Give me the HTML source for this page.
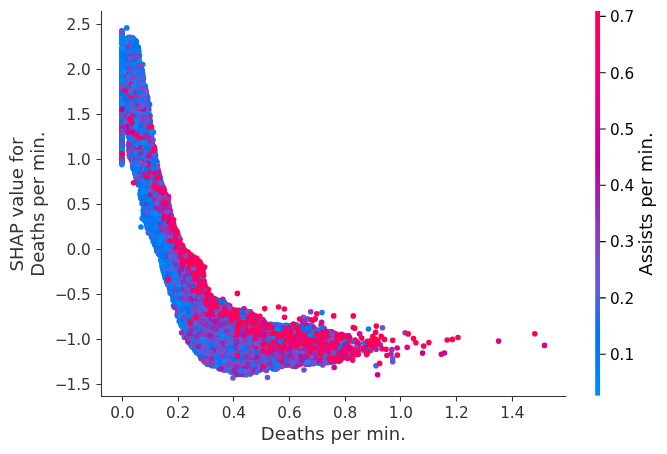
<!DOCTYPE html>
<html><head><meta charset="utf-8"><title>SHAP dependence plot</title><style>html,body{margin:0;padding:0;background:#fff}svg{display:block;will-change:transform}</style></head><body>
<svg width="667" height="454" viewBox="0 0 667 454" font-family="'DejaVu Sans', 'Liberation Sans', sans-serif">
<rect width="667" height="454" fill="#fff"/>
<g fill="none" stroke-width="5.6" stroke-linecap="round">
<path stroke="#008bfb" d="M121.9 94.8h0M177.8 295.3h0M143.6 196.2h0M130.3 94.4h0M139.1 118.8h0M165.7 272.5h0M287.1 331.2h0M152.1 235.5h0M277.3 324.5h0M196.6 345.3h0M139.1 87.1h0M223.5 341.9h0"/>
<path stroke="#0083f8" d="M255.2 367.4h0M246.7 334.8h0M269.4 343.4h0M148.8 217.6h0M134.2 67.8h0M310.5 332.0h0M318.6 334.6h0M259.1 365.3h0M233.6 368.5h0M238.8 351.5h0M168.3 262.7h0M139.1 124.9h0M135.2 74.5h0M121.9 105.2h0M128.4 51.3h0M152.5 145.1h0M295.7 353.4h0M209.2 318.0h0M136.9 173.2h0M121.9 128.3h0M240.0 323.6h0"/>
<path stroke="#007bf5" d="M162.1 202.0h0M128.4 113.7h0M284.7 345.4h0M132.7 65.9h0M215.9 355.7h0M295.5 329.4h0M262.4 344.6h0M151.3 199.5h0M125.7 97.4h0M220.8 308.7h0M285.4 333.9h0M128.4 57.7h0M163.9 270.3h0M172.8 280.1h0M147.8 219.4h0M146.3 220.5h0M306.2 353.2h0M164.3 255.7h0M311.3 333.2h0M139.4 135.6h0M136.2 41.7h0M177.7 305.0h0M159.3 228.4h0M244.1 331.8h0M141.7 194.4h0M143.3 102.4h0M136.9 180.0h0M127.5 119.9h0"/>
<path stroke="#0073ef" d="M130.0 111.3h0M178.8 296.3h0M325.3 334.0h0M159.0 236.7h0M269.8 355.8h0M139.4 165.3h0M275.0 360.6h0M169.0 276.1h0M153.2 214.3h0M147.0 97.5h0M217.3 365.2h0M131.2 53.2h0M242.3 324.5h0M132.5 109.8h0M140.1 83.0h0M329.2 337.6h0M172.5 271.3h0M136.2 103.9h0M132.0 143.4h0M169.4 280.3h0M168.9 256.5h0M146.9 219.3h0M276.3 332.5h0M270.8 328.6h0M188.3 306.5h0M150.5 209.4h0"/>
<path stroke="#2f6ae9" d="M161.2 245.4h0M194.1 320.9h0M202.0 297.3h0M137.9 163.1h0M309.6 363.9h0M260.1 362.4h0M147.7 123.1h0M221.9 343.6h0M236.2 334.9h0M148.5 215.5h0M220.3 348.0h0M144.0 109.9h0M232.9 372.6h0M140.8 114.8h0M151.2 187.5h0M244.4 369.0h0M235.5 360.8h0M132.4 77.6h0M190.3 297.8h0M258.1 363.7h0M135.9 141.1h0M216.1 349.0h0"/>
<path stroke="#5261e1" d="M210.4 352.5h0M256.3 362.6h0M150.4 121.1h0M230.4 328.0h0M202.9 341.4h0M191.7 343.9h0M256.7 338.6h0M194.3 312.6h0M173.7 224.3h0M220.3 333.3h0M139.1 91.0h0M162.1 203.7h0M175.5 259.5h0M135.5 151.4h0M143.4 103.4h0M216.1 354.1h0M337.0 355.4h0M272.7 355.2h0M212.4 320.4h0M185.4 280.5h0M209.4 347.5h0"/>
<path stroke="#6956d7" d="M183.1 266.9h0M178.9 264.6h0M230.3 357.2h0M179.3 271.3h0M139.3 151.0h0M176.9 289.9h0M188.4 289.5h0M154.8 152.7h0M319.3 344.3h0M249.1 338.2h0M290.8 354.3h0M159.6 199.7h0M136.0 123.0h0M187.8 310.2h0M138.2 146.8h0M313.2 363.7h0M201.2 341.8h0M151.3 195.4h0M152.7 188.9h0M253.6 356.1h0M169.3 250.9h0M150.2 146.9h0M251.7 351.6h0"/>
<path stroke="#7b4acd" d="M197.3 352.8h0M237.6 364.3h0M187.6 309.9h0M225.2 340.6h0M141.4 156.9h0M227.9 354.5h0M133.3 63.1h0M162.4 236.1h0M129.8 66.5h0M271.9 362.6h0M222.5 347.3h0M149.2 171.8h0M148.3 148.1h0M169.2 234.2h0M222.7 321.4h0M145.7 132.3h0M210.3 325.7h0M139.3 167.3h0M138.2 141.9h0M200.5 354.8h0M216.5 331.6h0M157.0 197.7h0M182.3 322.7h0M245.2 367.2h0M305.5 336.8h0"/>
<path stroke="#8a3dc1" d="M143.3 107.6h0M138.8 120.4h0M215.6 339.5h0M162.3 212.8h0M170.9 243.7h0M220.4 366.1h0M209.9 358.7h0M331.8 335.9h0M134.9 115.3h0M249.1 355.7h0M197.6 288.9h0M212.6 349.5h0M229.3 333.9h0"/>
<path stroke="#962db4" d="M164.1 217.2h0M191.7 297.1h0M171.5 253.2h0M210.8 358.0h0M282.1 365.1h0M162.1 228.3h0M179.1 263.6h0M164.0 230.6h0M184.6 289.8h0M191.0 327.9h0M207.2 342.5h0M178.2 295.6h0M249.8 339.0h0M313.2 356.4h0M270.4 353.0h0M246.7 331.7h0M246.2 372.9h0M153.5 154.6h0"/>
<path stroke="#a41daa" d="M131.0 152.2h0M210.8 316.6h0M166.9 199.1h0M282.0 359.0h0M148.4 142.4h0M215.5 327.9h0M306.6 340.4h0M300.5 359.7h0M153.1 187.5h0M225.4 332.7h0M181.0 310.3h0M159.7 194.0h0"/>
<path stroke="#dd0088" d="M149.9 150.4h0M312.3 329.2h0M159.0 174.3h0M141.2 130.2h0"/>
<path stroke="#e7007e" d="M167.1 202.7h0M323.3 355.8h0M193.9 275.5h0M308.4 329.7h0M143.4 152.4h0M261.3 323.3h0M352.7 354.6h0"/>
<path stroke="#f00073" d="M228.2 312.0h0M220.7 322.0h0M329.7 340.5h0M302.4 338.7h0M233.3 359.9h0M205.0 292.1h0M252.6 332.0h0M281.9 332.9h0M211.8 313.3h0M299.3 326.7h0M241.5 318.1h0"/>
<path stroke="#f80068" d="M302.4 340.6h0M250.3 321.7h0M305.5 354.2h0M307.4 341.6h0M199.6 292.2h0M171.9 222.5h0M236.6 310.6h0M147.4 178.3h0M333.2 356.3h0M253.1 324.4h0M369.5 347.5h0M325.7 339.4h0M261.8 330.3h0M144.7 133.5h0M193.0 270.0h0"/>
<path stroke="#fe005d" d="M170.9 228.8h0M315.1 346.9h0M246.7 331.3h0M260.4 338.9h0M244.8 322.8h0M177.7 238.8h0M200.6 299.0h0M159.2 182.3h0M178.7 257.0h0M255.8 319.4h0M296.9 365.0h0M292.1 334.3h0M287.1 351.2h0M203.2 274.4h0M294.9 352.3h0M138.0 139.0h0M330.9 349.9h0M185.2 253.5h0M326.1 352.9h0M200.5 281.4h0M194.3 286.5h0M373.9 342.9h0M221.0 303.3h0"/>
<path stroke="#ff0051" d="M180.4 247.6h0M197.3 264.8h0M289.2 338.4h0M265.3 352.6h0M250.6 316.4h0M255.5 338.5h0M256.4 323.0h0M225.3 309.3h0M303.3 352.8h0M300.6 355.3h0M121.9 163.0h0M199.4 284.0h0M235.7 357.0h0M282.7 363.4h0M244.1 339.4h0M217.2 308.1h0M295.8 341.7h0M254.8 330.9h0M269.2 330.3h0M221.6 317.2h0M201.8 275.6h0M307.9 327.8h0M243.4 333.2h0"/>
<path stroke="#008bfb" d="M214.5 353.2h0M220.5 349.0h0M125.3 111.2h0M136.6 173.5h0M168.2 255.6h0M126.4 82.9h0M262.4 326.5h0M139.8 96.2h0"/>
<path stroke="#0083f8" d="M147.8 119.2h0M150.3 214.8h0M247.7 324.6h0M239.5 331.0h0M135.0 100.7h0M135.7 168.2h0M248.2 363.5h0M200.6 269.8h0M121.9 102.5h0M126.6 57.2h0M121.9 103.4h0M164.4 237.3h0M163.6 195.6h0M225.9 358.9h0M154.5 209.9h0M125.6 81.4h0M265.5 336.7h0M222.8 351.0h0M168.3 247.7h0M161.4 204.4h0M131.7 119.6h0M179.2 295.5h0M222.8 368.1h0M127.9 76.9h0M133.3 142.4h0M185.1 331.1h0M133.5 158.9h0M163.2 260.6h0M121.9 97.1h0M152.8 212.5h0M274.1 340.0h0M145.5 196.3h0M125.7 76.2h0M287.7 341.8h0M131.2 75.8h0"/>
<path stroke="#007bf5" d="M123.7 48.9h0M133.9 57.9h0M174.2 272.3h0M191.1 323.8h0M187.9 305.8h0M157.5 220.2h0M144.6 199.4h0M149.3 119.7h0M137.9 176.8h0M121.9 71.8h0M162.6 266.7h0M228.3 324.2h0M170.1 267.2h0M302.1 329.4h0M142.9 149.4h0M190.5 299.6h0M151.2 197.7h0M269.1 326.3h0M133.6 116.1h0M121.9 39.8h0M303.1 328.3h0M133.0 38.1h0M132.3 95.8h0M157.3 219.9h0M139.1 180.3h0M121.9 85.4h0M323.4 335.0h0"/>
<path stroke="#0073ef" d="M143.0 107.7h0M140.1 119.8h0M136.8 116.5h0M140.1 75.3h0M160.1 237.0h0M162.3 256.8h0M271.0 324.7h0M129.5 48.8h0M129.0 124.4h0M149.3 138.1h0M176.2 271.6h0M139.4 55.2h0M146.7 224.9h0M297.3 335.3h0M136.4 70.0h0M187.7 312.4h0M151.4 204.2h0M130.9 65.9h0M206.6 303.9h0M167.7 265.3h0M251.3 317.9h0M284.4 327.6h0M165.3 267.5h0M135.5 104.9h0M185.3 316.0h0"/>
<path stroke="#2f6ae9" d="M192.8 313.0h0M129.0 63.7h0M190.4 330.7h0M240.2 371.2h0M226.5 346.6h0M162.9 204.1h0M129.9 84.7h0M144.5 100.5h0M165.8 269.5h0M129.4 138.0h0M156.2 210.6h0M123.7 86.6h0M129.4 104.0h0M181.3 320.5h0M261.7 325.0h0M228.0 346.4h0M201.9 342.3h0M130.4 71.1h0M179.9 310.0h0M160.7 211.5h0M140.7 107.8h0M154.5 204.7h0"/>
<path stroke="#5261e1" d="M161.7 217.7h0M166.0 202.8h0M198.6 307.3h0M266.2 357.6h0M193.8 303.0h0M147.8 109.0h0M169.8 209.5h0M200.8 357.1h0M228.0 356.5h0M238.9 339.7h0M197.8 317.2h0M135.1 80.3h0M266.0 358.2h0M258.1 350.4h0M320.8 352.1h0M186.0 322.1h0M201.5 337.4h0M150.9 186.4h0M130.6 144.1h0M138.6 106.1h0M144.8 150.4h0M256.7 358.1h0M191.7 319.9h0M182.3 272.4h0M165.4 224.1h0M165.9 224.2h0"/>
<path stroke="#6956d7" d="M132.6 130.4h0M242.4 369.9h0M182.1 283.6h0M228.5 346.9h0M160.6 180.9h0M310.5 350.7h0M191.4 299.6h0M185.2 291.4h0M178.2 273.9h0M153.9 175.4h0M147.0 127.4h0M146.9 120.0h0M294.2 347.1h0M147.2 147.4h0M159.5 213.7h0M279.3 356.6h0M137.4 129.2h0M284.9 334.8h0M140.0 113.9h0M194.5 330.3h0M237.3 334.3h0M203.9 316.3h0"/>
<path stroke="#7b4acd" d="M134.1 165.3h0M220.9 337.8h0M144.0 140.2h0M288.2 336.9h0M215.3 361.0h0M151.8 191.0h0M298.4 362.9h0M215.4 325.0h0M231.8 366.0h0M164.4 215.7h0M248.9 369.5h0M229.7 318.6h0M226.4 307.0h0M220.9 358.1h0M203.9 333.7h0"/>
<path stroke="#8a3dc1" d="M145.6 156.5h0M197.3 306.8h0M245.3 374.5h0M125.4 92.5h0M270.0 350.4h0M233.9 315.4h0M246.0 363.8h0M198.1 308.3h0M161.0 190.3h0M323.5 340.6h0M270.5 348.6h0M134.8 92.1h0M150.0 178.4h0"/>
<path stroke="#962db4" d="M125.6 117.7h0M244.4 328.4h0M185.1 282.6h0M140.4 126.9h0M312.9 336.2h0M147.3 211.3h0M241.9 364.5h0M150.8 127.2h0M231.3 356.7h0M267.1 367.0h0M177.8 276.5h0M188.1 282.1h0M258.4 345.1h0M193.7 333.2h0M255.6 358.2h0M187.1 288.2h0M154.9 163.2h0M221.0 365.1h0"/>
<path stroke="#a41daa" d="M207.7 351.5h0M218.1 333.3h0M168.0 252.6h0M166.1 241.2h0M224.5 334.8h0M175.8 272.7h0M186.2 277.6h0M141.1 195.0h0M227.4 361.7h0M146.4 143.5h0M321.7 322.2h0M209.4 323.7h0M190.0 287.2h0M196.1 330.4h0M207.5 338.6h0"/>
<path stroke="#c3009b" d="M334.8 357.6h0M165.4 195.6h0"/>
<path stroke="#dd0088" d="M318.4 341.9h0M155.1 156.6h0"/>
<path stroke="#e7007e" d="M251.9 332.2h0M165.3 221.4h0M277.0 363.7h0M276.0 333.6h0M331.7 332.0h0M296.0 344.9h0"/>
<path stroke="#f00073" d="M174.7 242.7h0M197.2 294.0h0M243.5 312.9h0M203.9 283.1h0M283.8 328.1h0M151.2 162.9h0M121.9 153.2h0M356.7 342.6h0M291.0 359.9h0M243.0 310.9h0M258.3 327.3h0M358.6 345.4h0M264.9 329.6h0M289.6 338.0h0M201.7 290.2h0"/>
<path stroke="#f80068" d="M263.2 347.3h0M293.9 337.9h0M323.1 346.0h0M144.4 204.6h0M309.8 340.0h0M156.9 168.1h0M230.9 315.8h0M215.7 299.6h0M198.3 294.1h0M292.4 335.3h0M333.8 336.3h0M331.8 337.6h0M160.2 183.8h0"/>
<path stroke="#fe005d" d="M121.9 149.6h0M121.9 147.7h0M189.5 260.2h0M263.8 350.7h0M232.8 316.6h0M165.9 214.1h0M253.3 337.4h0M284.8 326.6h0M154.0 171.9h0M212.5 302.4h0M351.1 350.2h0M218.6 304.2h0M252.9 314.7h0M167.3 221.2h0M304.4 337.6h0M257.9 348.9h0M200.7 298.8h0M286.1 326.6h0M216.5 299.6h0M191.6 262.6h0M276.8 349.9h0M236.1 324.8h0M331.2 353.0h0M188.7 263.7h0M308.1 344.4h0M316.0 363.0h0M182.8 247.4h0M213.9 299.3h0"/>
<path stroke="#ff0051" d="M194.9 275.8h0M205.7 296.8h0M293.7 337.9h0M161.7 217.9h0M203.7 280.9h0M202.9 273.4h0M188.3 262.4h0M153.6 224.5h0M195.8 258.2h0M197.0 290.3h0M203.5 280.9h0M184.6 258.3h0"/>
<path stroke="#008bfb" d="M278.7 343.6h0M134.6 143.5h0M134.5 65.2h0M147.9 110.6h0M136.6 157.8h0M301.5 355.9h0M206.7 338.2h0M128.3 86.9h0M226.3 344.7h0M123.4 113.3h0M121.9 35.8h0M154.3 237.4h0M163.6 259.2h0"/>
<path stroke="#0083f8" d="M143.3 161.3h0M174.0 274.6h0M140.8 168.7h0M306.8 328.7h0M221.2 329.9h0M180.1 292.2h0M143.9 171.0h0M186.8 317.7h0M174.7 298.8h0M181.2 300.1h0M141.6 194.3h0M318.6 354.2h0M267.5 364.7h0M148.8 203.0h0M289.0 354.6h0M181.6 312.8h0M150.8 229.0h0M144.2 134.1h0M169.5 260.3h0M160.6 248.3h0M291.8 345.4h0"/>
<path stroke="#007bf5" d="M265.0 331.7h0M152.3 205.0h0M295.0 361.2h0M144.2 90.2h0M140.7 88.2h0M126.2 48.1h0M265.4 334.1h0M133.5 73.1h0M297.9 341.7h0M237.6 311.9h0M174.5 289.0h0M268.0 337.4h0M146.2 181.2h0M347.0 351.1h0M174.3 253.4h0M142.3 195.5h0M138.2 107.3h0M138.7 96.9h0M269.6 330.7h0M148.5 175.2h0M154.2 168.5h0M184.2 319.8h0M145.6 124.3h0M174.1 301.1h0M138.6 73.2h0M205.7 332.4h0M132.6 167.1h0M141.5 141.1h0"/>
<path stroke="#0073ef" d="M121.9 43.6h0M130.6 54.2h0M192.1 344.5h0M161.8 254.4h0M175.7 303.2h0M164.1 247.4h0M128.7 54.3h0M249.4 353.5h0M280.2 360.0h0M205.5 345.7h0M188.6 340.7h0M190.1 313.2h0M138.4 64.2h0M142.6 136.0h0M138.3 48.1h0M148.1 149.5h0M287.5 358.0h0M227.4 369.6h0"/>
<path stroke="#2f6ae9" d="M151.6 170.9h0M217.9 359.1h0M218.8 333.4h0M143.8 99.5h0M170.8 232.4h0M267.7 364.7h0M142.4 109.8h0M208.9 332.1h0M287.6 349.0h0M160.4 198.8h0M298.7 328.3h0M156.3 174.7h0M242.6 360.6h0M204.4 353.5h0M306.1 339.6h0M167.6 213.1h0M189.5 287.8h0M212.5 329.2h0M152.9 185.4h0M300.8 362.5h0M218.9 323.7h0M150.3 232.9h0M156.2 217.1h0M219.5 338.1h0M167.9 217.1h0M185.4 286.6h0M202.1 314.6h0M146.2 100.9h0"/>
<path stroke="#5261e1" d="M132.1 61.8h0M128.3 99.7h0M237.8 343.7h0M160.5 188.5h0M194.8 295.8h0M189.4 306.7h0M220.9 365.4h0M192.1 333.2h0M151.2 172.5h0M132.7 95.5h0M276.6 362.8h0M132.6 101.9h0M206.3 331.5h0M171.4 247.4h0M265.4 346.4h0M316.3 330.0h0M139.3 177.4h0M193.1 312.3h0M160.2 233.0h0"/>
<path stroke="#6956d7" d="M184.9 288.9h0M217.0 353.8h0M193.0 319.8h0M203.8 342.4h0M206.0 354.9h0M178.5 280.1h0M157.0 231.9h0M275.6 359.1h0M224.8 334.8h0M182.2 280.7h0M177.4 232.7h0M147.7 123.9h0M154.6 171.6h0M148.2 167.1h0M229.0 364.3h0M266.9 358.3h0M131.6 102.3h0M162.1 205.8h0M290.8 354.0h0M133.1 74.7h0"/>
<path stroke="#7b4acd" d="M201.4 307.3h0M164.5 227.6h0M121.9 84.8h0M182.3 318.6h0M194.7 342.0h0M151.3 160.4h0M222.0 355.6h0M147.5 117.8h0M203.4 300.2h0M156.4 162.6h0M206.1 348.6h0M185.6 274.8h0M193.3 283.4h0M137.0 113.5h0M155.4 182.4h0M248.7 352.2h0M146.4 108.0h0M218.4 342.3h0M140.4 165.4h0M346.4 352.9h0M163.1 221.1h0M167.2 246.4h0M260.0 340.8h0M121.9 128.9h0M139.2 70.4h0"/>
<path stroke="#8a3dc1" d="M244.5 355.7h0M187.1 328.2h0M196.4 321.9h0M168.1 242.1h0M134.5 52.0h0M238.3 355.1h0M216.2 307.7h0M156.4 184.1h0M136.4 158.9h0M142.6 167.6h0M157.4 184.4h0M141.3 123.5h0M210.0 312.9h0M121.9 96.3h0M280.2 364.3h0M217.2 336.5h0M231.6 362.7h0"/>
<path stroke="#962db4" d="M145.2 141.0h0M149.9 124.2h0M291.5 355.0h0M192.4 339.1h0M132.3 150.2h0M138.9 141.5h0M154.8 192.3h0M220.0 325.2h0M234.0 353.5h0M196.0 301.9h0M169.2 242.0h0M136.3 168.3h0M180.2 306.8h0M139.5 169.7h0M304.4 350.9h0M242.0 350.5h0M175.8 305.6h0M134.5 126.8h0M268.9 359.1h0M219.2 343.4h0M170.0 258.8h0"/>
<path stroke="#a41daa" d="M193.4 292.0h0M309.9 344.5h0M175.2 296.4h0M145.2 167.0h0M179.4 238.5h0M228.9 347.3h0M152.0 163.3h0M153.3 191.8h0M342.4 353.8h0M159.8 191.3h0M178.5 260.1h0M244.4 354.5h0M143.8 160.5h0M221.8 363.5h0M146.3 175.8h0M248.3 342.8h0M190.7 311.8h0M242.9 370.9h0M285.0 341.7h0M206.5 320.1h0"/>
<path stroke="#b408a3" d="M286.4 347.5h0"/>
<path stroke="#d10092" d="M146.2 126.5h0"/>
<path stroke="#dd0088" d="M264.0 327.8h0M139.7 107.2h0M150.1 167.6h0"/>
<path stroke="#e7007e" d="M342.6 336.2h0M253.8 333.8h0M302.9 347.7h0M163.1 210.9h0M257.6 330.9h0"/>
<path stroke="#f00073" d="M163.8 195.6h0M337.2 353.2h0M245.5 333.3h0M229.9 314.8h0M133.8 86.5h0M174.8 238.9h0"/>
<path stroke="#f80068" d="M326.6 356.8h0M259.5 332.1h0M206.1 305.6h0M310.9 346.2h0M196.9 261.1h0M264.2 328.5h0M246.1 334.8h0M244.0 324.0h0M200.7 277.3h0M276.0 343.6h0M315.9 340.7h0M288.6 343.6h0M148.6 130.5h0M187.9 252.0h0M300.1 341.6h0M174.6 295.4h0M307.6 352.2h0M220.3 355.6h0M157.1 165.5h0M202.3 279.0h0M158.8 191.9h0"/>
<path stroke="#fe005d" d="M251.8 337.8h0M245.8 321.9h0M134.1 90.3h0M238.8 315.9h0M192.4 272.3h0M320.4 363.1h0M331.5 335.2h0M201.4 288.4h0M164.4 226.4h0M323.8 331.6h0M316.3 348.4h0M181.0 262.5h0M206.9 303.6h0M306.3 336.0h0M299.7 346.5h0M264.3 322.1h0M236.7 320.8h0M250.3 324.4h0M178.8 252.5h0M164.3 217.3h0M247.3 332.4h0M286.5 327.6h0"/>
<path stroke="#ff0051" d="M203.8 291.5h0M196.8 261.4h0M253.2 325.4h0M222.9 304.1h0M221.9 313.7h0M232.2 333.4h0M124.9 105.2h0M294.1 365.0h0M196.4 285.0h0M254.6 331.2h0M183.4 260.9h0M262.2 347.2h0M159.7 210.1h0M196.7 274.4h0M233.8 323.4h0"/>
<path stroke="#008bfb" d="M193.1 344.9h0M280.9 346.4h0M278.9 366.0h0M121.9 101.8h0M171.9 264.3h0M134.0 162.1h0M136.6 62.6h0M178.2 276.9h0M308.7 340.4h0M178.3 309.6h0M236.4 347.2h0M186.1 306.9h0M138.6 181.2h0M168.1 278.5h0M280.9 330.5h0M226.0 359.6h0M121.9 57.1h0M121.9 54.0h0"/>
<path stroke="#0083f8" d="M247.5 329.9h0M127.9 103.5h0M149.5 159.9h0M309.2 331.5h0M199.7 345.4h0M160.9 230.3h0M144.5 146.5h0M146.0 200.9h0M143.6 84.7h0M278.3 343.7h0M217.1 342.1h0M260.5 338.5h0M141.9 154.5h0M322.6 356.2h0M286.0 348.1h0M158.6 241.4h0M164.2 261.3h0M142.1 96.6h0M146.9 195.6h0M138.0 172.0h0M163.7 253.0h0M229.0 362.7h0M150.6 167.4h0M171.7 266.9h0M225.4 342.3h0M186.9 322.5h0M253.3 359.7h0"/>
<path stroke="#007bf5" d="M142.2 99.4h0M155.6 201.9h0M194.1 327.1h0M121.9 110.9h0M135.7 153.5h0M189.9 274.9h0M142.8 64.5h0M151.9 192.5h0M192.1 320.8h0M297.1 334.0h0M204.8 326.7h0M260.7 325.2h0M127.4 64.0h0M255.6 370.1h0M234.8 365.5h0M151.5 149.0h0M163.9 258.5h0M121.9 85.2h0M140.8 198.4h0M157.7 251.0h0M337.2 336.5h0M212.9 338.5h0M141.8 74.3h0M139.0 181.0h0M317.1 335.4h0M133.0 149.5h0"/>
<path stroke="#0073ef" d="M121.9 39.0h0M124.0 103.0h0M145.5 197.3h0M161.6 251.7h0M141.4 145.2h0M138.5 81.0h0M133.5 125.4h0M144.5 87.7h0M194.2 333.5h0M138.1 100.2h0M272.4 335.3h0M134.3 62.9h0M237.4 363.4h0M202.7 342.0h0M166.7 279.1h0M148.3 210.6h0M157.5 239.6h0M151.2 213.3h0M156.7 217.2h0M223.3 345.0h0M251.8 347.8h0M150.0 193.7h0M143.4 197.9h0M244.2 313.2h0"/>
<path stroke="#2f6ae9" d="M269.1 366.7h0M189.9 334.8h0M202.9 270.5h0M288.8 356.2h0M123.6 111.1h0M270.4 324.5h0M215.6 352.4h0M252.8 320.4h0M153.3 187.1h0M224.7 349.6h0M180.6 304.6h0M137.9 109.0h0M146.2 152.0h0M217.5 327.1h0M239.8 369.7h0M155.8 178.1h0M175.0 285.6h0M137.7 73.7h0M300.1 348.9h0M237.0 361.2h0M274.0 348.1h0"/>
<path stroke="#5261e1" d="M125.6 67.6h0M167.8 202.5h0M286.7 355.6h0M225.8 367.8h0M175.7 265.4h0M144.9 121.0h0M247.8 350.5h0M275.8 355.6h0M160.6 212.0h0M227.2 349.8h0M145.9 107.1h0M282.4 352.1h0M173.1 264.1h0M121.9 88.2h0M226.2 318.8h0"/>
<path stroke="#6956d7" d="M170.7 232.5h0M149.8 179.5h0M187.5 299.9h0M244.0 361.0h0M169.2 244.1h0M276.9 351.5h0M156.5 212.6h0M267.0 362.6h0M254.7 368.0h0M251.8 331.4h0M162.0 205.1h0M336.7 353.4h0M187.3 272.8h0M146.5 144.2h0M133.2 80.7h0M201.0 333.4h0M192.0 325.4h0"/>
<path stroke="#7b4acd" d="M152.3 144.0h0M130.8 92.8h0M121.9 103.6h0M347.5 352.1h0M154.8 167.9h0M308.9 327.5h0M229.5 329.4h0M326.5 348.3h0M261.1 336.8h0M223.2 347.1h0M246.3 371.0h0M142.0 175.7h0M348.7 349.1h0M241.1 359.1h0M164.1 221.4h0M234.8 349.1h0M199.3 318.9h0M139.9 147.6h0M250.5 371.2h0M305.8 354.5h0"/>
<path stroke="#8a3dc1" d="M134.0 150.3h0M205.4 311.2h0M150.1 128.4h0M154.7 149.2h0M130.0 140.7h0M183.1 293.4h0M236.3 328.1h0M182.4 269.5h0M185.1 261.8h0M263.9 359.0h0M142.5 135.4h0M232.0 322.6h0M187.2 274.1h0M158.6 210.3h0M215.7 320.4h0M202.5 329.2h0M249.4 366.7h0M209.2 330.8h0M216.1 360.9h0M153.4 193.8h0M193.7 328.9h0M148.3 104.8h0"/>
<path stroke="#962db4" d="M240.0 362.3h0M221.0 328.3h0M168.0 206.9h0M208.2 352.7h0M235.4 366.5h0M153.9 148.3h0M248.9 357.3h0M286.6 351.8h0M227.2 367.1h0M281.4 363.4h0M239.8 372.6h0"/>
<path stroke="#a41daa" d="M224.4 330.3h0M138.3 179.7h0M183.2 299.9h0M242.8 331.3h0M216.1 313.4h0M201.4 352.7h0M293.7 354.3h0M241.9 349.0h0M181.4 323.3h0M164.9 229.6h0M236.2 358.5h0M186.7 278.7h0M160.5 216.5h0M197.6 324.9h0"/>
<path stroke="#c3009b" d="M283.6 342.5h0"/>
<path stroke="#d10092" d="M305.6 352.9h0"/>
<path stroke="#dd0088" d="M234.4 361.0h0M153.2 154.0h0M259.0 335.5h0M200.9 281.1h0M264.1 338.4h0M163.9 210.3h0"/>
<path stroke="#e7007e" d="M321.3 338.1h0M135.6 151.1h0M163.4 197.1h0M172.3 226.0h0M268.5 332.8h0M334.6 335.5h0M297.6 342.7h0M294.7 340.9h0"/>
<path stroke="#f00073" d="M276.5 333.7h0M195.4 283.0h0M234.5 316.6h0M156.8 161.9h0M250.3 311.9h0M324.7 335.2h0M186.6 256.5h0M209.4 301.9h0"/>
<path stroke="#f80068" d="M175.5 250.2h0M141.5 137.4h0M247.3 322.2h0M291.2 350.6h0M243.9 317.4h0M176.8 233.3h0M283.7 353.3h0M194.4 267.6h0M197.0 272.4h0M202.2 290.4h0M150.3 170.0h0M121.9 150.0h0M129.1 142.2h0M261.6 341.1h0M340.8 352.3h0M289.9 337.3h0M227.8 327.5h0M334.3 361.8h0M323.2 334.8h0M188.2 254.6h0M209.7 332.7h0"/>
<path stroke="#fe005d" d="M297.1 340.1h0M283.1 333.0h0M298.3 331.5h0M207.7 299.2h0M180.4 243.6h0M275.0 350.4h0M245.5 337.3h0M254.7 350.7h0M202.7 351.6h0M241.3 365.1h0M204.3 292.9h0M252.3 327.8h0M263.0 319.7h0M284.2 341.3h0M195.8 276.1h0M282.9 345.4h0M205.7 287.1h0M229.5 305.7h0M157.0 171.6h0M160.2 203.4h0M181.1 252.5h0M163.6 189.1h0M323.9 328.4h0M157.7 174.4h0M194.4 293.5h0M203.4 286.8h0M244.1 321.7h0M306.9 351.3h0M190.1 263.6h0M248.4 355.7h0"/>
<path stroke="#ff0051" d="M276.1 365.3h0M214.3 298.5h0M333.9 339.7h0M224.1 324.7h0M253.9 324.4h0M309.4 340.3h0M147.4 142.1h0M295.4 340.2h0M261.3 337.4h0M200.2 278.3h0M197.3 272.4h0M188.8 270.5h0M175.7 230.5h0M176.0 242.7h0"/>
<path stroke="#008bfb" d="M149.2 141.7h0M141.9 127.2h0M255.7 366.1h0M256.4 338.9h0M268.7 325.9h0M284.3 347.1h0M133.0 70.9h0M130.7 110.9h0M186.9 287.3h0M250.4 356.4h0M305.8 363.9h0M190.3 333.1h0"/>
<path stroke="#0083f8" d="M204.9 355.7h0M181.6 318.3h0M134.2 135.7h0M153.5 132.2h0M131.6 39.5h0M158.9 227.2h0M184.8 333.0h0M161.8 254.7h0M149.7 192.4h0M181.2 293.6h0M136.5 178.2h0M135.0 104.9h0M250.0 366.6h0M124.0 93.5h0M131.8 108.2h0M146.8 96.1h0M127.4 47.9h0M163.8 271.6h0M141.5 146.3h0M128.6 37.4h0M211.9 301.5h0M121.9 83.3h0M135.0 152.7h0"/>
<path stroke="#007bf5" d="M138.6 77.6h0M138.7 97.3h0M121.9 144.4h0M201.4 315.4h0M148.2 162.8h0M157.2 196.0h0M121.9 36.9h0M124.2 77.7h0M130.5 86.5h0M186.9 336.8h0M150.4 204.1h0M131.1 91.4h0M135.9 77.6h0M134.2 72.4h0M149.1 212.6h0M201.9 358.5h0M150.7 223.5h0M280.6 325.2h0M235.0 348.9h0M133.3 94.0h0M170.0 288.6h0M150.4 194.2h0M308.0 360.6h0M142.9 201.1h0M133.0 123.7h0M277.6 325.9h0"/>
<path stroke="#0073ef" d="M142.1 190.2h0M197.0 329.2h0M154.9 231.4h0M128.8 44.9h0M133.1 38.6h0M130.6 62.0h0M157.9 208.2h0M148.2 229.8h0M190.8 326.7h0M249.6 367.9h0M132.3 41.0h0M229.8 329.5h0M154.1 231.6h0M171.8 282.1h0M249.3 368.8h0M228.9 355.8h0M250.5 366.0h0M201.4 307.1h0M128.0 41.1h0M313.7 335.4h0M217.8 345.6h0M135.7 151.8h0M148.6 195.6h0M183.6 320.4h0"/>
<path stroke="#2f6ae9" d="M136.1 178.1h0M188.5 272.4h0M190.3 315.2h0M144.1 86.4h0M214.2 357.0h0M121.9 156.7h0M245.1 319.0h0M146.6 105.9h0M132.3 142.0h0M299.4 329.0h0M294.2 359.4h0M267.3 355.1h0M134.2 121.8h0M232.2 348.2h0M149.9 152.6h0M152.1 147.8h0M147.6 203.9h0M238.2 352.4h0M171.5 246.8h0M137.2 81.5h0M160.9 237.1h0M131.1 156.7h0M210.9 320.5h0M140.5 193.4h0M250.1 357.1h0M231.4 370.5h0M230.9 347.5h0M219.9 332.3h0M239.0 347.8h0M205.5 327.0h0M208.7 322.7h0M128.9 94.9h0"/>
<path stroke="#5261e1" d="M224.2 334.8h0M233.4 336.4h0M224.8 360.7h0M121.9 148.1h0M156.6 206.5h0M193.5 326.1h0M280.3 363.2h0M191.7 277.9h0M240.9 327.8h0M267.5 360.3h0M137.5 129.6h0M319.2 354.5h0M234.8 368.9h0M140.8 127.7h0M186.6 305.9h0M234.8 333.5h0M250.9 362.9h0M163.5 222.6h0M161.5 188.6h0M188.9 330.4h0"/>
<path stroke="#6956d7" d="M166.7 250.2h0M257.4 358.2h0M221.4 360.6h0M208.2 326.7h0M204.1 327.0h0M133.0 159.0h0M280.7 356.1h0M130.0 157.4h0M146.5 94.3h0M201.9 308.6h0M134.2 139.8h0M161.1 232.4h0M211.6 319.7h0M271.3 359.4h0M205.9 331.9h0M196.2 265.3h0M182.7 325.1h0M193.5 291.7h0M121.9 113.5h0M201.1 345.1h0M193.4 306.3h0"/>
<path stroke="#7b4acd" d="M198.7 307.7h0M146.2 92.6h0M278.9 338.3h0M160.4 201.8h0M232.2 337.7h0M228.4 312.8h0M152.3 191.4h0M194.0 299.8h0M309.4 357.1h0M215.2 358.6h0M181.3 278.0h0M277.7 336.6h0M135.3 43.3h0M145.5 157.9h0M222.5 335.6h0"/>
<path stroke="#8a3dc1" d="M230.4 341.5h0M133.7 163.2h0M134.2 123.7h0M260.5 348.9h0M176.2 307.4h0M148.4 150.9h0M196.7 334.9h0M168.3 254.8h0M145.4 139.1h0M232.6 334.3h0M215.9 344.0h0M261.5 347.8h0M129.0 102.9h0M162.9 228.8h0M197.3 330.8h0M181.3 275.6h0M157.5 176.2h0M270.5 359.9h0M135.7 153.2h0M177.8 278.9h0M237.4 346.8h0M205.5 361.2h0M124.5 76.8h0M243.8 372.9h0M176.7 274.8h0M182.3 271.7h0M306.0 362.1h0M177.2 306.6h0M169.3 233.4h0"/>
<path stroke="#962db4" d="M166.7 277.5h0M289.6 349.3h0M240.4 334.9h0M319.4 347.0h0M156.7 185.4h0M231.5 338.4h0M156.7 217.7h0M121.9 156.4h0M169.6 233.6h0M255.8 343.3h0M150.4 150.5h0M197.9 334.3h0M239.9 350.1h0M132.7 150.9h0"/>
<path stroke="#a41daa" d="M236.8 347.1h0M242.9 360.0h0M253.9 340.1h0M193.0 345.4h0M169.1 241.5h0M159.1 210.3h0M211.6 326.8h0M303.5 359.9h0M256.1 353.8h0M206.7 323.4h0M176.3 263.1h0"/>
<path stroke="#b408a3" d="M138.1 128.8h0"/>
<path stroke="#c3009b" d="M165.9 194.9h0M131.9 112.5h0"/>
<path stroke="#d10092" d="M121.9 145.7h0M150.8 129.3h0"/>
<path stroke="#dd0088" d="M231.5 324.2h0M139.2 128.6h0"/>
<path stroke="#e7007e" d="M166.9 218.6h0M213.1 299.3h0M142.3 203.7h0M296.3 337.9h0M313.3 362.7h0M173.5 230.8h0M149.7 145.0h0"/>
<path stroke="#f00073" d="M300.3 329.8h0M205.5 292.9h0M201.7 296.3h0M296.2 327.4h0M167.7 208.6h0M196.9 289.2h0M201.0 288.8h0M233.4 320.8h0M272.6 333.3h0M284.1 335.8h0"/>
<path stroke="#f80068" d="M203.8 293.4h0M188.8 255.4h0M179.0 247.2h0M199.5 270.3h0M173.7 245.6h0M254.5 324.0h0M303.4 334.2h0M210.7 306.1h0M196.2 277.7h0M346.8 335.7h0M157.1 181.6h0M292.0 342.8h0M317.2 342.4h0M251.9 314.4h0M202.1 305.6h0M281.6 360.4h0M244.6 340.6h0M244.4 322.7h0M201.2 346.4h0M268.2 351.8h0M186.8 251.7h0M258.1 349.1h0"/>
<path stroke="#fe005d" d="M240.9 320.3h0M243.9 316.8h0M279.2 337.8h0M192.4 264.3h0M235.6 325.4h0M189.1 260.9h0M295.1 325.8h0M270.4 334.7h0M207.6 293.9h0M258.3 323.3h0M169.2 217.4h0M267.1 345.1h0M226.4 311.6h0M211.7 342.2h0M310.6 335.2h0M305.4 342.9h0M226.1 313.1h0M171.0 220.2h0"/>
<path stroke="#ff0051" d="M262.8 334.4h0M247.5 320.3h0M286.0 332.5h0M314.7 340.4h0M261.6 340.5h0M200.8 298.1h0M182.8 251.9h0M177.5 244.0h0M239.7 356.6h0M259.2 335.2h0M238.5 342.4h0M277.5 329.1h0M227.9 308.5h0"/>
<path stroke="#008bfb" d="M191.4 313.5h0M171.2 265.9h0M144.3 148.0h0M229.3 344.0h0M206.6 354.7h0M161.1 223.4h0M146.3 172.1h0M152.7 228.2h0M140.8 157.3h0M170.3 258.6h0M305.2 331.9h0M188.8 309.0h0M144.2 206.0h0M198.7 331.7h0"/>
<path stroke="#0083f8" d="M138.0 60.4h0M163.3 236.4h0M121.9 39.7h0M165.6 264.0h0M154.2 147.1h0M174.4 290.8h0M166.6 251.8h0M265.1 359.5h0M129.6 63.6h0M206.4 341.6h0M218.4 367.8h0M154.9 209.8h0M324.1 346.1h0M139.1 174.8h0M247.4 354.8h0M131.9 58.5h0M164.2 245.0h0M133.4 168.7h0M211.6 349.6h0"/>
<path stroke="#007bf5" d="M141.3 163.5h0M136.0 54.2h0M123.3 51.0h0M161.2 206.9h0M172.8 270.0h0M175.9 293.1h0M148.7 110.6h0M167.0 275.7h0M173.8 300.6h0M121.9 38.5h0M179.4 307.8h0M145.9 193.3h0M178.8 292.6h0M171.1 274.5h0M136.5 165.5h0M207.0 345.3h0M172.9 270.0h0M217.9 363.5h0M181.8 302.6h0M138.4 48.8h0M322.9 353.4h0M133.7 87.8h0M240.5 313.7h0M169.6 253.3h0M128.7 67.8h0"/>
<path stroke="#0073ef" d="M210.2 327.5h0M147.7 97.6h0M125.7 108.0h0M298.3 342.3h0M149.0 200.5h0M132.1 60.0h0M139.4 107.3h0M140.3 88.7h0M136.6 132.2h0M148.2 184.3h0M171.4 259.8h0M143.9 106.0h0M152.1 219.7h0M146.8 97.1h0M170.9 272.6h0M215.6 340.1h0M135.9 94.9h0M135.6 162.5h0M321.4 355.2h0M149.4 220.8h0M188.1 322.5h0M131.2 68.7h0M131.6 42.9h0M139.0 91.0h0M211.2 344.0h0M305.3 343.4h0M161.6 232.3h0M250.9 358.8h0"/>
<path stroke="#2f6ae9" d="M262.6 368.6h0M145.3 133.3h0M179.9 318.4h0M124.1 75.2h0M193.9 298.9h0M154.6 222.9h0M243.6 359.3h0M255.5 333.3h0M127.7 101.7h0M184.7 317.2h0M217.8 338.3h0M129.6 50.3h0M148.0 129.0h0M265.2 332.8h0M203.3 307.1h0M138.1 149.9h0M142.7 174.0h0M210.9 360.0h0M174.1 227.9h0M133.2 79.4h0M271.4 364.8h0M154.1 216.7h0M195.8 319.7h0M185.3 300.0h0M131.5 80.0h0M144.6 87.5h0M140.0 77.5h0M217.5 329.6h0M180.5 271.3h0M142.0 87.7h0"/>
<path stroke="#5261e1" d="M245.6 361.7h0M183.6 289.8h0M205.9 321.0h0M193.1 308.6h0M131.0 152.6h0M294.1 325.2h0M288.0 346.7h0M219.6 352.6h0M297.8 360.8h0M168.8 205.9h0M256.0 347.1h0M121.9 97.0h0M191.4 283.3h0M143.4 153.2h0M174.5 261.0h0M210.2 327.8h0M183.7 279.4h0M307.2 357.5h0M177.4 294.9h0M154.0 168.2h0M164.9 204.3h0M225.5 351.2h0"/>
<path stroke="#6956d7" d="M166.3 221.9h0M186.3 272.9h0M280.2 346.7h0M234.9 319.4h0M211.3 333.3h0M222.7 361.9h0M127.0 119.5h0M307.3 318.9h0M152.6 194.1h0M173.3 276.0h0M172.1 248.9h0M211.5 344.6h0M135.7 71.3h0M223.0 342.8h0M143.1 121.0h0M186.1 267.4h0M132.2 66.9h0M195.0 284.4h0M140.6 129.4h0M141.2 69.4h0M256.2 356.1h0M162.4 232.4h0M128.8 98.0h0M160.3 221.2h0"/>
<path stroke="#7b4acd" d="M126.4 76.4h0M149.1 125.3h0M180.5 258.2h0M220.8 347.6h0M298.2 342.5h0M179.8 258.7h0M159.9 222.9h0M278.3 358.3h0M269.8 356.7h0M181.5 264.6h0M141.5 142.5h0M262.1 353.9h0M230.1 322.5h0M159.9 216.2h0M133.4 69.5h0M179.0 246.2h0M284.4 362.6h0M121.9 154.3h0M151.7 185.8h0M266.2 363.2h0M205.3 337.8h0M184.6 291.5h0M124.4 87.5h0M121.9 85.1h0"/>
<path stroke="#8a3dc1" d="M216.6 324.1h0M202.4 313.3h0M249.3 373.1h0M145.1 86.6h0M226.8 309.9h0M243.3 355.3h0M215.7 331.4h0M121.9 113.5h0M144.4 111.2h0M125.8 95.5h0M121.9 101.9h0M220.3 345.7h0M147.2 169.8h0M170.1 249.7h0M335.9 341.7h0M177.2 263.1h0"/>
<path stroke="#962db4" d="M229.8 330.1h0M203.9 331.1h0M234.0 333.7h0M302.7 322.7h0M153.0 153.5h0M259.3 342.1h0M206.9 358.0h0M184.6 283.7h0M159.1 186.1h0M301.3 353.8h0M202.9 315.1h0M281.4 330.2h0M213.1 328.6h0M135.5 140.7h0M167.6 240.8h0"/>
<path stroke="#a41daa" d="M262.1 359.2h0M233.3 338.1h0M216.0 359.2h0M241.1 343.9h0M143.8 167.6h0M183.0 279.0h0M264.0 364.4h0M169.3 244.0h0M162.7 235.7h0M230.1 323.8h0M255.7 365.0h0M208.9 358.3h0M220.6 332.9h0M287.8 359.1h0M196.4 324.6h0"/>
<path stroke="#c3009b" d="M133.6 84.9h0"/>
<path stroke="#d10092" d="M138.3 184.6h0M160.8 185.3h0M324.3 344.0h0"/>
<path stroke="#dd0088" d="M148.6 165.7h0M158.1 183.3h0M138.4 153.3h0"/>
<path stroke="#e7007e" d="M297.2 329.0h0M231.5 359.0h0M342.8 349.0h0M156.5 171.0h0M257.1 333.1h0"/>
<path stroke="#f00073" d="M283.6 338.3h0M187.6 254.1h0M198.8 290.5h0M203.9 301.9h0M244.0 308.9h0M173.4 244.3h0M335.9 341.8h0M314.3 350.0h0M133.9 139.4h0M274.7 340.7h0M167.0 202.5h0M311.2 347.4h0M268.4 340.5h0"/>
<path stroke="#f80068" d="M201.7 273.0h0M239.0 337.3h0M300.5 342.9h0M280.6 352.1h0M325.0 340.8h0M201.2 273.1h0M206.6 360.4h0M298.7 341.4h0M145.4 97.6h0M307.5 333.4h0M157.4 182.7h0M302.6 344.6h0M217.9 314.6h0M288.6 330.8h0M311.5 336.7h0M192.2 277.5h0M252.5 334.1h0"/>
<path stroke="#fe005d" d="M257.6 341.2h0M223.9 305.4h0M179.0 255.5h0M272.1 351.0h0M329.8 352.9h0M322.6 357.1h0M121.9 141.5h0M211.6 300.6h0M277.6 333.0h0M250.0 316.7h0M200.8 303.7h0M268.9 348.1h0M204.0 307.3h0M254.1 336.7h0M307.3 340.6h0M252.8 342.3h0M287.9 345.6h0M235.8 364.8h0M283.4 328.5h0M190.7 273.5h0M148.8 127.5h0M199.4 286.8h0M242.1 330.7h0"/>
<path stroke="#ff0051" d="M276.8 336.9h0M213.3 313.6h0M196.4 263.3h0M214.1 326.1h0M261.6 320.8h0M147.5 216.4h0M146.0 132.2h0"/>
<path stroke="#008bfb" d="M147.2 129.4h0M169.7 287.8h0M139.2 93.0h0M123.5 84.2h0M154.7 221.4h0M235.5 323.0h0M143.3 156.7h0M141.9 176.9h0"/>
<path stroke="#0083f8" d="M240.2 350.8h0M121.9 87.9h0M157.6 241.0h0M123.9 51.4h0M165.7 251.0h0M206.0 338.1h0M127.1 62.3h0M124.0 67.6h0M321.7 337.1h0M249.8 361.2h0M171.2 292.8h0M129.3 53.0h0M147.5 108.2h0M223.1 352.6h0M278.2 332.3h0M184.5 301.2h0M191.1 337.0h0M135.4 109.8h0M139.0 98.9h0M142.1 178.7h0M151.1 154.1h0"/>
<path stroke="#007bf5" d="M152.6 147.4h0M155.8 242.1h0M160.1 247.1h0M160.7 230.5h0M135.5 42.4h0M167.0 254.1h0M208.6 331.2h0M308.6 337.2h0M126.0 51.1h0M176.1 284.3h0M246.5 363.8h0M127.3 81.3h0M154.6 174.6h0M258.9 320.6h0M121.9 85.0h0M253.1 319.4h0M214.8 334.8h0M121.9 76.8h0M134.7 114.8h0M327.6 342.5h0M154.9 245.0h0M158.7 249.5h0M246.0 361.1h0M145.6 197.6h0M141.0 90.6h0M142.8 178.9h0M123.4 92.6h0M151.1 219.7h0M177.3 306.4h0M149.2 210.4h0M141.5 124.6h0M178.1 273.3h0"/>
<path stroke="#0073ef" d="M291.1 328.1h0M177.8 295.0h0M144.3 208.8h0M153.3 235.0h0M218.9 305.0h0M138.2 91.1h0M148.3 205.9h0M315.7 334.2h0M177.5 295.1h0M304.7 327.1h0M148.3 225.8h0M146.8 173.9h0M293.5 324.7h0M157.0 178.2h0M150.0 187.1h0M151.4 223.9h0M240.0 374.1h0M164.8 252.3h0M145.5 200.6h0M127.0 99.0h0M183.4 309.5h0M204.3 331.1h0M137.8 56.4h0M129.2 59.9h0M121.9 111.8h0M179.6 306.2h0"/>
<path stroke="#2f6ae9" d="M258.8 368.8h0M213.3 328.2h0M170.5 240.9h0M182.5 266.5h0M161.4 221.5h0M244.9 346.7h0M186.3 280.9h0M129.7 141.6h0M205.2 334.9h0M170.0 230.0h0M247.4 341.9h0M136.7 99.7h0M213.8 345.7h0M191.8 314.4h0M152.1 140.6h0M125.9 105.8h0M131.0 67.6h0M146.6 159.3h0M174.1 293.9h0M296.0 330.5h0"/>
<path stroke="#5261e1" d="M158.0 221.1h0M236.9 345.3h0M182.9 277.0h0M152.5 189.6h0M251.6 361.1h0M137.5 163.7h0M252.1 356.6h0M226.6 355.5h0M275.3 363.2h0M134.6 140.6h0M140.8 93.0h0M213.4 321.4h0M130.9 77.0h0M300.5 350.7h0M227.1 345.4h0"/>
<path stroke="#6956d7" d="M216.4 341.6h0M203.1 345.5h0M256.3 358.6h0M137.2 126.7h0M132.6 105.0h0M213.4 343.8h0M238.0 333.8h0M121.9 95.4h0M179.5 273.0h0M218.6 323.6h0M147.2 155.3h0M164.0 195.8h0M185.3 281.6h0M289.3 359.0h0M169.4 243.9h0M314.2 338.9h0M222.8 346.6h0M213.6 344.6h0M153.8 190.0h0M211.9 316.8h0"/>
<path stroke="#7b4acd" d="M161.6 196.3h0M136.7 72.7h0M161.3 222.3h0M211.0 323.1h0M200.8 330.7h0M169.2 210.1h0M142.0 123.6h0M193.6 287.3h0M235.1 363.7h0M160.1 213.9h0M200.3 310.3h0M237.0 352.5h0M126.0 54.9h0M180.8 274.7h0M128.2 131.0h0M146.7 167.3h0M254.2 370.7h0M121.9 120.5h0M210.9 347.7h0M220.0 328.3h0M267.8 354.4h0M158.8 187.4h0M170.3 233.9h0M145.7 127.7h0"/>
<path stroke="#8a3dc1" d="M138.3 145.9h0M255.6 354.1h0M236.4 353.8h0M202.5 356.8h0M127.8 132.1h0M245.1 325.7h0M230.9 356.9h0M138.3 56.3h0M258.7 356.8h0M308.2 356.2h0M223.1 365.5h0M121.9 131.2h0M209.6 314.8h0M324.2 358.0h0M272.7 332.8h0M184.0 290.4h0M170.3 273.3h0M132.8 98.4h0M260.7 359.2h0M226.5 358.7h0"/>
<path stroke="#962db4" d="M269.0 357.2h0M154.4 198.7h0M193.5 278.3h0M217.7 357.2h0M158.5 217.1h0M196.0 347.3h0M192.4 298.2h0M135.2 134.9h0M158.1 188.5h0M144.5 144.5h0M137.9 151.6h0M261.3 365.1h0M210.4 325.1h0M199.6 317.7h0M142.1 113.4h0M221.3 326.5h0"/>
<path stroke="#a41daa" d="M287.8 362.9h0M137.0 160.9h0M233.5 338.8h0M179.8 274.6h0M196.3 296.6h0M342.1 338.4h0M247.7 341.2h0M270.4 366.3h0M289.4 346.6h0M350.0 356.6h0M193.1 338.4h0"/>
<path stroke="#b408a3" d="M157.6 187.9h0"/>
<path stroke="#c3009b" d="M366.8 350.6h0M157.5 203.9h0"/>
<path stroke="#d10092" d="M356.6 341.8h0"/>
<path stroke="#e7007e" d="M276.5 341.0h0M121.9 147.4h0M136.0 158.1h0M162.0 204.2h0M139.2 183.6h0M293.0 326.0h0"/>
<path stroke="#f00073" d="M274.3 325.0h0M300.4 335.0h0M211.3 303.4h0M233.8 318.1h0M285.6 331.2h0M223.7 314.6h0M270.1 342.7h0M279.9 350.0h0M151.7 194.4h0M296.1 330.3h0M147.1 124.5h0"/>
<path stroke="#f80068" d="M227.1 309.9h0M265.8 328.4h0M320.3 341.8h0M202.0 304.6h0M174.4 281.6h0M246.1 315.4h0M245.3 315.7h0M278.2 347.4h0M316.8 353.9h0M330.9 348.8h0M197.5 300.9h0M173.1 231.6h0M181.2 262.8h0M356.1 347.7h0M146.7 223.0h0M208.0 296.4h0M225.4 311.9h0M194.1 257.3h0M260.3 325.9h0M151.1 199.7h0"/>
<path stroke="#fe005d" d="M303.8 318.3h0M304.9 347.2h0M313.2 346.2h0M121.9 162.7h0M288.5 325.7h0M182.9 252.4h0M260.2 331.6h0M272.7 346.5h0M301.2 353.3h0M246.5 317.4h0M192.4 262.3h0M221.8 302.3h0M179.2 240.6h0M199.5 293.2h0M156.0 195.9h0M226.7 321.1h0M281.5 332.0h0M136.1 128.0h0M194.6 292.5h0M302.3 346.5h0M193.3 262.7h0M166.4 213.8h0M194.5 285.8h0M189.9 255.7h0M194.5 283.5h0M300.0 359.6h0M196.5 285.2h0M182.1 255.7h0M177.3 248.0h0M263.6 338.7h0M259.0 333.3h0M205.0 297.6h0M172.6 232.5h0"/>
<path stroke="#ff0051" d="M198.2 272.2h0M238.3 325.1h0M314.0 332.8h0M196.5 274.8h0M277.9 344.4h0M173.7 225.8h0M225.1 310.8h0M184.5 250.9h0M266.9 329.2h0M305.1 339.0h0M289.0 333.3h0M339.0 336.2h0M221.0 305.7h0M213.2 304.1h0M200.5 313.0h0M167.7 240.7h0M272.1 336.5h0"/>
<path stroke="#008bfb" d="M136.5 76.2h0M131.1 62.9h0M149.6 114.7h0M219.2 335.6h0M292.1 327.1h0M153.2 241.7h0M196.2 337.5h0M130.2 68.5h0M140.0 127.5h0M178.1 296.3h0M130.2 49.3h0M151.2 187.0h0M139.1 170.9h0"/>
<path stroke="#0083f8" d="M151.7 219.8h0M147.7 192.1h0M257.9 326.6h0M275.6 365.1h0M136.8 81.6h0M206.9 355.2h0M121.9 136.7h0M164.1 261.2h0M126.9 62.3h0M124.1 104.9h0M260.0 341.4h0M136.5 112.4h0M145.0 106.2h0M136.4 125.4h0M128.1 40.4h0M129.1 151.6h0M130.0 78.7h0M153.2 233.3h0M168.2 283.4h0M144.5 202.0h0M179.2 321.3h0M189.9 337.0h0M186.8 309.1h0M160.4 230.1h0M161.5 256.9h0M130.4 53.9h0"/>
<path stroke="#007bf5" d="M133.3 50.6h0M121.9 43.1h0M149.4 191.8h0M132.4 39.1h0M211.1 334.0h0M144.4 162.9h0M152.8 221.5h0M191.3 319.9h0M130.9 81.6h0M150.4 147.0h0M132.0 48.1h0M148.5 106.2h0M172.1 263.2h0M164.7 252.4h0M131.8 147.3h0M168.8 273.4h0M127.3 111.6h0M174.7 289.2h0"/>
<path stroke="#0073ef" d="M129.1 102.6h0M149.8 233.3h0M131.4 105.7h0M191.1 317.6h0M130.9 116.0h0M169.5 281.6h0M149.1 163.5h0M133.5 168.1h0M236.5 360.1h0M144.0 216.8h0M208.5 326.3h0M151.2 224.8h0M265.8 335.4h0M167.7 256.0h0M126.2 85.2h0M179.8 320.0h0M148.5 202.6h0M125.4 112.3h0M179.3 313.5h0M207.3 352.9h0M158.7 253.8h0M132.4 66.8h0M153.0 235.0h0M161.9 263.5h0M320.2 336.9h0M210.0 337.0h0M154.3 160.6h0"/>
<path stroke="#2f6ae9" d="M276.0 369.3h0M140.8 70.4h0M250.4 359.4h0M200.2 308.3h0M218.3 354.6h0M232.9 348.4h0M133.9 94.8h0M142.5 127.6h0M147.9 101.0h0M149.6 201.9h0M289.7 349.4h0M224.3 355.2h0M124.1 69.2h0M121.9 114.6h0M278.3 367.4h0M263.0 364.1h0M193.3 307.1h0M207.7 344.2h0M147.0 163.5h0M227.3 349.8h0M152.8 239.1h0M316.8 338.0h0M144.8 88.5h0M245.0 331.1h0M178.5 298.6h0M242.2 357.9h0M284.0 355.4h0M147.4 190.1h0M121.9 115.5h0M181.1 263.9h0"/>
<path stroke="#5261e1" d="M146.5 123.5h0M141.7 78.2h0M141.5 150.3h0M142.7 113.8h0M133.4 80.5h0M239.9 345.4h0M319.9 360.0h0M239.0 337.9h0M322.3 336.1h0M148.7 214.7h0M241.5 358.4h0M152.6 197.3h0M154.4 169.8h0M162.0 217.0h0M141.3 78.6h0M141.8 80.2h0M286.1 348.7h0M127.0 98.3h0M328.6 359.1h0M161.6 238.9h0M125.0 86.1h0"/>
<path stroke="#6956d7" d="M231.4 333.3h0M232.4 346.1h0M246.7 336.7h0M266.3 367.6h0M183.7 274.7h0M199.9 321.3h0M178.7 253.6h0M215.6 334.1h0M180.9 264.8h0M168.4 240.3h0M221.1 354.9h0M138.0 134.6h0M207.8 316.6h0M149.7 183.3h0M297.5 363.3h0M126.6 104.9h0M287.1 343.9h0M242.6 354.6h0M268.9 340.1h0M130.4 124.1h0M208.2 325.5h0M121.9 126.0h0M173.2 235.7h0M185.5 276.7h0M121.9 93.0h0M214.7 321.5h0"/>
<path stroke="#7b4acd" d="M200.4 310.3h0M212.4 325.2h0M312.5 362.8h0M131.8 75.9h0M180.9 290.8h0M140.0 88.4h0M134.5 159.1h0M259.1 347.4h0M173.2 260.4h0M133.1 145.1h0M240.7 367.1h0M189.6 286.6h0M186.2 305.4h0M149.4 165.9h0M246.4 338.5h0M209.5 356.8h0M269.0 367.1h0M155.4 166.9h0M212.2 322.6h0"/>
<path stroke="#8a3dc1" d="M216.4 351.0h0M235.8 354.7h0M192.3 296.5h0M203.9 354.6h0M205.9 357.1h0M148.8 158.1h0M142.7 170.5h0M218.4 352.0h0M170.6 238.9h0M316.0 360.5h0M261.2 351.3h0M256.8 370.9h0M278.0 343.1h0M204.1 344.3h0M168.6 242.5h0M219.2 337.9h0M212.8 347.6h0M152.3 151.7h0M168.5 248.9h0M223.4 332.8h0M136.7 88.4h0M191.8 329.8h0"/>
<path stroke="#962db4" d="M151.3 180.9h0M183.1 297.7h0M218.1 334.2h0M191.1 286.0h0M277.2 350.5h0M243.6 328.1h0M262.2 368.9h0M152.0 176.4h0M169.6 256.0h0M222.3 336.6h0"/>
<path stroke="#a41daa" d="M255.9 343.0h0M121.9 160.5h0M177.3 273.5h0M255.1 345.1h0M241.0 353.3h0M212.6 308.1h0M165.5 213.6h0M185.8 297.3h0M174.9 258.7h0M318.6 362.8h0M251.7 349.6h0M193.0 309.3h0M121.9 148.0h0M258.2 321.7h0M242.0 359.4h0"/>
<path stroke="#c3009b" d="M158.5 208.1h0"/>
<path stroke="#dd0088" d="M273.7 330.1h0"/>
<path stroke="#e7007e" d="M343.5 339.5h0M165.2 195.4h0M321.8 340.8h0M194.6 329.9h0M153.4 180.5h0M136.8 109.6h0M345.4 342.4h0M356.4 353.9h0M329.9 348.4h0M342.8 336.7h0"/>
<path stroke="#f00073" d="M290.1 327.4h0M240.6 326.3h0M138.2 155.8h0M163.9 195.5h0M243.6 321.7h0M294.3 346.2h0M151.5 141.9h0M167.8 232.1h0M371.6 342.8h0M259.5 320.0h0M247.7 330.7h0"/>
<path stroke="#f80068" d="M300.9 347.1h0M205.1 298.5h0M312.6 345.0h0M253.6 338.7h0M310.9 338.2h0M268.3 330.9h0M317.6 335.0h0M331.3 350.6h0M223.0 319.2h0M204.6 292.5h0M192.5 274.6h0M145.5 185.0h0M151.5 175.4h0"/>
<path stroke="#fe005d" d="M335.8 333.9h0M174.5 235.0h0M181.8 245.1h0M230.7 319.7h0M303.4 335.5h0M304.9 331.2h0M223.0 320.9h0M200.7 267.3h0M166.4 223.7h0M121.9 133.0h0M202.4 276.8h0M200.5 276.2h0M294.0 344.6h0M293.0 324.5h0M177.4 252.0h0M309.2 347.2h0M270.7 341.2h0M226.6 306.0h0M242.9 335.6h0M255.3 330.2h0M233.7 323.8h0M202.5 289.7h0"/>
<path stroke="#ff0051" d="M258.9 327.0h0M276.4 332.2h0M310.1 342.1h0M251.2 322.0h0M143.0 149.3h0M226.9 320.8h0M190.3 277.5h0M219.4 319.9h0M179.7 257.2h0M183.8 256.1h0M294.2 366.1h0M298.3 357.4h0M146.5 110.8h0M182.2 251.5h0M175.9 245.1h0M337.9 353.2h0M334.0 335.0h0M185.7 253.9h0M226.3 307.9h0"/>
<path stroke="#008bfb" d="M241.4 369.3h0M260.3 357.2h0M170.3 292.9h0M146.1 219.8h0M133.4 149.8h0M146.7 148.8h0M142.0 130.9h0M175.6 284.0h0M248.5 329.8h0M126.7 46.5h0M175.7 304.4h0M179.4 239.2h0M184.4 301.2h0M128.1 98.7h0"/>
<path stroke="#0083f8" d="M192.7 275.4h0M140.0 194.7h0M202.3 346.9h0M162.5 244.0h0M138.3 73.4h0M178.1 311.8h0M178.4 278.1h0M129.3 49.0h0M188.3 342.1h0M179.8 305.9h0M156.1 243.2h0M121.9 43.7h0M215.8 300.2h0M305.8 331.2h0M168.7 263.5h0M138.9 104.8h0M173.0 276.7h0M209.3 327.7h0M303.7 352.4h0M124.5 60.8h0M165.8 259.3h0"/>
<path stroke="#007bf5" d="M189.4 333.9h0M158.5 238.9h0M162.5 201.7h0M247.9 356.6h0M123.5 103.0h0M270.2 328.9h0M208.3 332.8h0M130.0 57.9h0M288.8 359.1h0M267.2 324.4h0M130.4 54.8h0M124.8 44.1h0M142.2 175.1h0M164.0 240.7h0M136.4 87.4h0M218.3 348.1h0M180.6 314.3h0M121.9 125.1h0M291.3 330.5h0M131.9 84.9h0M139.3 75.9h0M139.3 119.8h0M163.4 245.0h0M152.6 157.9h0M136.2 95.6h0M212.7 320.5h0M165.7 226.9h0M127.3 90.2h0M146.9 208.7h0M146.1 189.3h0M131.8 43.3h0"/>
<path stroke="#0073ef" d="M194.7 318.9h0M268.9 324.7h0M149.0 209.6h0M212.2 355.3h0M153.1 231.6h0M121.9 156.7h0M299.2 351.4h0M205.8 362.6h0M211.6 365.4h0M158.8 220.2h0M250.5 348.9h0M152.7 220.3h0M302.9 328.2h0M137.9 63.7h0M254.0 354.0h0M129.4 46.1h0M162.7 254.8h0M159.3 254.7h0M157.1 251.4h0M157.4 235.6h0M187.1 336.1h0M293.8 365.4h0"/>
<path stroke="#2f6ae9" d="M247.0 345.2h0M195.5 297.2h0M231.0 317.0h0M265.6 352.1h0M170.5 255.3h0M192.7 294.1h0M140.1 89.3h0M291.6 352.4h0M186.4 285.0h0M244.8 331.5h0M224.5 338.6h0M182.8 326.1h0M176.4 263.1h0M218.6 361.4h0M230.8 321.7h0M141.6 189.6h0M194.1 332.2h0M145.2 143.3h0M247.4 333.3h0M164.7 241.6h0M296.5 365.0h0M141.9 124.1h0"/>
<path stroke="#5261e1" d="M147.1 154.1h0M181.8 308.4h0M144.7 160.2h0M172.0 250.7h0M282.5 350.5h0M154.4 174.7h0M133.6 157.3h0M189.3 305.0h0M204.1 317.6h0M191.7 321.0h0M319.8 362.1h0M212.0 322.2h0M151.5 136.6h0M223.9 364.9h0M156.2 176.2h0M142.3 73.2h0M280.5 358.9h0M172.2 228.9h0"/>
<path stroke="#6956d7" d="M327.1 340.7h0M266.9 368.7h0M161.2 200.9h0M193.8 298.5h0M158.9 214.1h0M133.6 88.5h0M232.4 362.9h0M157.1 176.0h0M137.1 112.3h0M188.8 334.0h0M134.3 101.6h0M207.3 345.3h0M140.9 94.9h0M135.5 81.6h0M131.9 161.2h0M185.1 283.5h0M196.9 334.8h0M239.7 337.3h0"/>
<path stroke="#7b4acd" d="M126.2 81.9h0M140.5 106.7h0M250.9 314.7h0M130.6 75.5h0M139.9 75.1h0M279.6 361.0h0M128.7 99.5h0M212.0 324.7h0M135.4 131.8h0M239.4 322.1h0M240.0 336.3h0M306.9 360.2h0M126.9 76.9h0M124.6 59.3h0M236.1 365.8h0M185.4 280.0h0M172.1 232.7h0M243.2 338.8h0M189.1 284.4h0M138.4 119.5h0M283.4 349.1h0"/>
<path stroke="#8a3dc1" d="M180.8 305.6h0M205.4 315.3h0M162.1 230.4h0M170.3 292.7h0M300.3 351.2h0M237.9 337.8h0M247.0 333.6h0M139.1 184.8h0M294.0 341.8h0M206.1 322.4h0M261.1 348.1h0M159.9 214.9h0M181.8 297.9h0M160.1 217.0h0M134.9 118.7h0M154.8 220.7h0M204.3 320.2h0M295.6 361.5h0M208.3 317.4h0M227.9 353.9h0"/>
<path stroke="#962db4" d="M172.6 227.0h0M231.4 366.7h0M161.0 215.9h0M193.7 346.9h0M329.7 349.2h0M135.7 157.4h0M335.3 345.8h0M180.7 292.0h0M153.9 176.9h0M240.2 343.2h0M191.9 305.6h0M163.3 232.4h0M167.3 252.5h0"/>
<path stroke="#a41daa" d="M121.9 142.0h0M195.5 310.5h0M139.8 139.4h0M141.6 163.2h0M251.8 319.3h0M239.4 319.6h0M217.8 351.9h0M280.3 358.6h0M209.9 362.8h0M193.1 298.6h0M200.2 330.2h0M211.1 356.0h0M175.1 259.1h0M200.2 299.6h0M154.9 184.5h0M215.6 354.2h0M169.6 242.2h0M290.8 352.2h0M212.4 303.3h0"/>
<path stroke="#b408a3" d="M156.0 185.9h0"/>
<path stroke="#c3009b" d="M299.8 360.6h0"/>
<path stroke="#d10092" d="M133.4 133.3h0M144.8 127.7h0"/>
<path stroke="#dd0088" d="M172.6 226.7h0M258.3 331.0h0"/>
<path stroke="#e7007e" d="M134.2 119.2h0M271.5 353.2h0M280.7 348.8h0M301.5 334.0h0M347.2 353.3h0M326.4 361.6h0"/>
<path stroke="#f00073" d="M289.0 354.9h0M265.5 343.2h0M248.9 333.3h0M317.1 346.9h0M329.9 351.5h0M171.3 216.7h0M273.4 325.2h0M131.8 111.8h0M195.0 344.3h0M151.6 175.8h0M263.6 338.0h0M307.0 325.0h0"/>
<path stroke="#f80068" d="M266.8 358.0h0M148.6 108.8h0M208.6 303.3h0M278.1 337.6h0M196.7 290.1h0M325.4 350.4h0M188.8 257.1h0M142.8 143.5h0M178.5 237.5h0M199.3 282.6h0M284.0 328.2h0M338.6 352.2h0M228.5 317.7h0M342.7 334.9h0M162.1 195.3h0M280.1 341.6h0M191.6 259.1h0M303.5 340.5h0M269.7 325.2h0M143.0 94.4h0M157.5 166.3h0M206.1 303.1h0"/>
<path stroke="#fe005d" d="M171.4 237.7h0M321.6 356.5h0M197.2 284.1h0M211.9 311.6h0M150.0 138.0h0M221.6 301.8h0M192.2 261.1h0M195.7 261.1h0M253.1 325.3h0M310.2 331.8h0M197.5 278.4h0M300.7 335.0h0M211.0 329.2h0M203.2 291.4h0M210.2 321.3h0M242.5 316.7h0M365.6 351.1h0M271.4 351.3h0M179.3 257.9h0M151.9 180.2h0M289.1 361.9h0M196.1 267.4h0M232.9 318.3h0M323.5 351.4h0M216.1 322.6h0M266.8 341.9h0M198.2 271.6h0M162.5 194.6h0"/>
<path stroke="#ff0051" d="M152.0 174.8h0M236.7 311.5h0M177.1 232.1h0M240.1 334.7h0M235.4 313.0h0M242.5 316.7h0M194.1 261.6h0M289.3 332.4h0M212.6 356.3h0M316.6 348.6h0M197.7 272.8h0"/>
<path stroke="#008bfb" d="M134.2 42.9h0M266.5 368.4h0M148.3 233.0h0M243.2 358.7h0M174.3 264.5h0M152.8 230.9h0M187.0 307.6h0M128.3 145.4h0M147.9 195.0h0M175.8 302.9h0M150.5 221.5h0M308.5 329.3h0M231.8 353.0h0M215.5 364.5h0M277.3 347.0h0M295.4 327.5h0M260.3 321.1h0M187.6 325.8h0M207.2 324.7h0M213.0 344.1h0M188.9 327.7h0M156.9 215.3h0M222.1 319.1h0"/>
<path stroke="#0083f8" d="M147.6 212.0h0M157.8 185.6h0M140.8 167.5h0M162.4 245.7h0M140.1 181.1h0M198.7 336.0h0M139.6 61.9h0M243.5 373.7h0M167.5 247.9h0M130.7 73.3h0M132.1 55.0h0M121.9 83.3h0M232.4 365.2h0M148.3 219.8h0M307.0 330.7h0M143.9 183.1h0M302.3 336.7h0M186.5 313.1h0M150.8 128.0h0M129.5 42.3h0M121.9 31.1h0"/>
<path stroke="#007bf5" d="M135.7 69.9h0M249.1 365.4h0M291.8 356.6h0M153.7 229.3h0M257.9 317.0h0M237.6 351.8h0M125.3 49.5h0M161.1 232.7h0M178.2 286.3h0M162.6 267.8h0M160.7 234.7h0M121.9 87.3h0M195.8 349.3h0M176.8 304.2h0M125.4 73.6h0M121.9 53.6h0M237.2 356.4h0M326.7 362.4h0M124.2 104.7h0"/>
<path stroke="#0073ef" d="M172.4 285.2h0M129.2 76.2h0M148.8 209.5h0M161.9 196.1h0M136.2 51.4h0M184.9 302.3h0M149.3 220.7h0M201.2 339.5h0M323.0 354.5h0M146.6 119.2h0M132.5 50.8h0M158.4 223.1h0M261.0 323.5h0M145.3 179.2h0M149.1 213.0h0M135.9 172.4h0M134.2 159.9h0M202.3 326.2h0M265.7 329.5h0M274.9 347.0h0M205.7 309.7h0M127.1 95.3h0M134.8 106.2h0M257.7 325.1h0M135.7 124.8h0M145.0 220.9h0M225.6 348.4h0M191.6 319.0h0M239.0 322.5h0"/>
<path stroke="#2f6ae9" d="M145.0 154.5h0M201.8 359.0h0M258.4 323.5h0M171.8 268.2h0M164.1 191.1h0M152.5 171.8h0M185.9 311.4h0M162.6 196.4h0M294.9 332.0h0M123.7 64.1h0M155.1 159.8h0M192.4 324.7h0M182.0 268.2h0M243.0 342.5h0M129.8 46.6h0M130.2 137.8h0M136.0 46.3h0M320.6 348.5h0M249.8 344.9h0M184.6 332.8h0M246.8 360.0h0M132.6 66.1h0M126.5 100.1h0M200.6 325.7h0M202.6 344.9h0"/>
<path stroke="#5261e1" d="M272.0 337.2h0M247.4 336.6h0M265.3 357.2h0M199.6 343.0h0M138.0 107.8h0M184.6 302.5h0M131.7 84.6h0M223.7 333.0h0M134.8 49.0h0M223.4 313.6h0M148.7 150.4h0M193.2 283.8h0M145.4 94.8h0M230.8 334.7h0M238.5 368.3h0M227.8 328.7h0M283.6 348.9h0"/>
<path stroke="#6956d7" d="M226.0 359.4h0M121.9 80.1h0M157.2 200.4h0M126.4 107.8h0M121.9 114.3h0M245.6 351.1h0M244.9 370.4h0M135.5 147.5h0M218.7 344.6h0M153.3 201.4h0M136.5 58.1h0M261.5 357.7h0M131.7 155.4h0M258.9 350.1h0M172.1 243.0h0M223.4 347.5h0M226.9 339.7h0M143.0 143.8h0M219.1 368.8h0M174.9 234.4h0M263.9 357.6h0"/>
<path stroke="#7b4acd" d="M138.3 101.8h0M228.8 364.6h0M137.4 99.2h0M176.2 267.1h0M137.8 127.0h0M231.3 370.1h0M289.1 364.9h0M217.0 342.2h0M166.8 217.8h0M269.5 367.5h0M260.6 367.6h0M277.3 361.1h0M205.5 335.3h0M151.6 129.5h0M149.5 198.9h0M311.8 357.2h0M132.5 104.9h0M271.6 359.5h0M191.9 293.9h0M154.1 215.7h0"/>
<path stroke="#8a3dc1" d="M137.9 78.3h0M270.1 349.6h0M320.0 360.8h0M141.3 72.2h0M137.0 94.1h0M221.6 341.3h0M151.3 159.5h0M270.4 335.0h0M190.3 292.5h0M303.3 358.0h0M144.4 127.5h0M239.7 330.3h0M162.1 224.4h0M171.4 216.8h0M144.5 131.7h0M245.2 352.3h0M213.3 357.2h0M207.0 323.7h0M237.3 353.8h0M121.9 118.4h0M152.8 186.7h0M141.3 132.0h0M232.1 355.0h0M121.9 139.9h0M244.2 371.5h0M190.8 291.6h0"/>
<path stroke="#962db4" d="M232.7 355.9h0M210.3 327.1h0M326.3 331.2h0M255.3 368.2h0M252.5 339.6h0M168.6 211.5h0M175.1 253.1h0M149.2 163.3h0M229.5 370.6h0M207.5 307.7h0M198.0 318.0h0M227.7 331.2h0M194.3 320.4h0M158.4 224.9h0M165.8 256.9h0M310.3 361.7h0M205.8 346.4h0M275.4 362.9h0"/>
<path stroke="#a41daa" d="M171.5 220.4h0M263.9 341.4h0M255.5 360.8h0M190.5 343.9h0M165.2 246.7h0M248.7 371.3h0M314.4 361.1h0M206.9 312.4h0M234.8 347.8h0M238.0 336.1h0M224.9 332.8h0M329.3 345.4h0M138.8 176.6h0M213.4 329.6h0"/>
<path stroke="#b408a3" d="M130.0 103.4h0"/>
<path stroke="#c3009b" d="M134.5 88.2h0"/>
<path stroke="#dd0088" d="M143.7 158.3h0M312.0 340.5h0M174.3 239.3h0"/>
<path stroke="#e7007e" d="M222.0 305.0h0M200.3 275.2h0M217.0 315.6h0M257.0 322.7h0M196.8 289.4h0M301.0 354.5h0"/>
<path stroke="#f00073" d="M163.4 214.9h0M328.1 357.0h0M332.5 351.1h0M339.0 361.3h0M257.7 338.9h0M151.0 177.6h0M127.1 123.9h0M287.3 343.1h0M175.1 243.9h0M320.5 340.3h0M156.3 168.7h0"/>
<path stroke="#f80068" d="M224.2 302.3h0M143.6 166.5h0M333.0 354.3h0M169.9 236.6h0M279.9 343.4h0M325.9 349.8h0M199.8 298.6h0M166.6 201.4h0"/>
<path stroke="#fe005d" d="M311.6 350.2h0M218.1 311.3h0M219.2 317.7h0M248.0 334.5h0M302.0 361.9h0M194.1 265.0h0M152.4 177.8h0M282.1 359.1h0M252.7 321.8h0M121.9 101.0h0M304.5 362.1h0M265.3 345.4h0M240.9 322.3h0M172.5 228.1h0M208.5 289.5h0M294.4 344.0h0M187.9 263.9h0M333.2 332.7h0M305.9 339.0h0M323.8 337.1h0M330.6 354.2h0M241.6 328.6h0M257.0 322.7h0M194.1 272.3h0M300.8 331.3h0"/>
<path stroke="#ff0051" d="M210.3 303.6h0M226.6 315.3h0M335.9 354.1h0M192.5 281.7h0M197.0 260.2h0M202.2 297.3h0M273.6 335.5h0M288.9 340.4h0M229.9 318.7h0M334.2 353.7h0M202.8 281.9h0M228.3 314.4h0M288.3 346.5h0M199.0 299.9h0M322.3 336.7h0M312.8 346.5h0"/>
<path stroke="#008bfb" d="M127.0 47.4h0M180.7 281.2h0M139.0 86.2h0M157.7 235.8h0M165.5 251.5h0M141.1 195.3h0M161.5 195.6h0M125.6 74.3h0M166.5 270.4h0M121.9 70.0h0M147.2 227.5h0M241.6 341.9h0M135.0 165.2h0M160.0 226.3h0"/>
<path stroke="#0083f8" d="M153.2 193.0h0M192.1 347.1h0M171.2 273.9h0M177.4 306.4h0M129.5 82.6h0M249.2 352.2h0M121.9 90.8h0M129.9 137.8h0M141.5 196.7h0M156.0 220.1h0M246.8 356.2h0M130.3 111.8h0M143.2 99.9h0M301.6 359.0h0M301.2 330.9h0M156.5 218.2h0M137.5 162.4h0M121.9 113.2h0M133.4 165.2h0M138.4 94.4h0M121.9 60.3h0M121.9 43.7h0M143.1 183.2h0M169.5 283.5h0M150.1 202.7h0"/>
<path stroke="#007bf5" d="M145.3 215.6h0M255.7 357.7h0M182.9 283.3h0M229.7 350.9h0M131.0 127.0h0M200.8 324.5h0M121.9 109.8h0M182.0 286.4h0M223.8 360.5h0M170.8 289.4h0M197.5 326.5h0M155.3 241.8h0M149.7 135.8h0M159.8 250.2h0M163.8 268.4h0M246.3 347.7h0M307.7 330.7h0M150.3 229.5h0M158.7 242.0h0M137.2 54.6h0M139.2 183.2h0M327.6 331.8h0M133.7 58.4h0M238.9 355.0h0M133.7 122.0h0"/>
<path stroke="#0073ef" d="M249.3 364.4h0M162.0 184.7h0M248.7 323.7h0M145.3 210.6h0M136.9 152.7h0M308.8 363.7h0M175.8 270.8h0M287.0 329.1h0M207.9 330.5h0M182.0 280.0h0M255.0 362.1h0M245.2 341.3h0M303.3 338.6h0M127.3 70.1h0M211.2 348.3h0M323.5 358.2h0M242.9 370.0h0"/>
<path stroke="#2f6ae9" d="M196.7 337.8h0M196.4 304.1h0M141.4 185.4h0M287.2 327.5h0M208.0 344.0h0M264.2 360.5h0M124.6 85.6h0M156.1 204.7h0M146.5 139.0h0M151.7 145.2h0M163.0 224.2h0M142.1 129.4h0M190.5 302.8h0M147.0 159.2h0M264.3 366.7h0M184.2 302.2h0M341.8 344.9h0M211.7 331.4h0M210.7 305.5h0M156.5 221.7h0M121.9 101.2h0M226.3 345.0h0M128.2 78.8h0M191.5 296.2h0M182.1 311.0h0M195.9 347.8h0M143.4 173.5h0M309.4 358.9h0M130.7 144.9h0"/>
<path stroke="#5261e1" d="M134.9 108.0h0M148.1 154.9h0M272.2 359.8h0M262.0 341.5h0M254.8 367.6h0M294.7 336.1h0M232.8 361.4h0M158.4 195.8h0M185.0 281.2h0M275.9 360.4h0M127.5 54.8h0M292.6 338.3h0M154.3 241.3h0M155.0 165.4h0M153.7 197.9h0M308.2 363.1h0M173.4 261.6h0M222.7 336.6h0M217.2 302.2h0M291.1 330.3h0M235.2 362.3h0"/>
<path stroke="#6956d7" d="M182.2 320.6h0M294.2 362.4h0M174.8 228.8h0M195.0 335.9h0M286.9 348.4h0M135.8 59.7h0M154.8 169.7h0M162.3 229.9h0M363.5 350.4h0M212.8 304.5h0"/>
<path stroke="#7b4acd" d="M219.4 327.6h0M218.5 332.7h0M153.1 176.9h0M126.0 98.9h0M326.6 359.9h0M144.0 149.5h0M189.3 266.5h0M315.8 360.4h0M159.5 210.6h0M220.7 340.9h0M144.8 118.1h0M238.2 355.3h0M167.2 216.9h0M275.8 356.9h0M124.8 114.1h0M186.2 284.9h0M154.3 160.3h0M127.0 71.3h0M129.1 70.7h0"/>
<path stroke="#8a3dc1" d="M216.7 331.5h0M138.2 158.4h0M191.3 345.4h0M136.8 145.0h0M324.5 362.0h0M177.0 282.1h0M166.8 237.7h0M191.2 269.5h0M127.9 106.7h0M203.5 336.1h0M245.2 323.7h0M188.8 294.9h0M328.6 337.5h0M130.5 85.1h0M192.6 329.3h0M152.2 214.2h0"/>
<path stroke="#962db4" d="M144.1 154.6h0M271.8 336.5h0M188.6 285.4h0M147.0 163.1h0M185.6 282.4h0M308.9 360.0h0M229.2 354.1h0M138.3 151.6h0M328.1 362.6h0M139.4 127.9h0M277.6 340.7h0M256.7 354.7h0M139.2 174.1h0M161.7 187.9h0M275.1 336.7h0M186.9 313.2h0"/>
<path stroke="#a41daa" d="M288.8 362.7h0M183.6 291.7h0M327.9 341.1h0M240.0 325.9h0M237.7 346.1h0M154.6 162.0h0M237.7 346.6h0M327.3 349.7h0M253.6 354.3h0M242.7 360.2h0M266.9 337.5h0M169.3 260.2h0M258.6 350.3h0M268.5 357.1h0M191.0 276.9h0M238.1 346.2h0"/>
<path stroke="#c3009b" d="M153.9 205.8h0"/>
<path stroke="#d10092" d="M152.6 166.4h0M140.7 149.2h0M158.6 178.6h0"/>
<path stroke="#dd0088" d="M157.8 174.2h0M167.1 196.8h0M174.2 240.1h0M260.7 328.9h0M162.7 191.0h0"/>
<path stroke="#e7007e" d="M243.8 327.1h0M255.8 344.9h0M289.2 338.9h0M151.1 129.9h0"/>
<path stroke="#f00073" d="M310.2 335.4h0M157.7 242.9h0M174.4 241.7h0M178.0 312.2h0M281.3 341.6h0M320.1 331.7h0M228.3 308.1h0M324.4 335.4h0M198.6 287.0h0"/>
<path stroke="#f80068" d="M319.4 331.1h0M172.7 240.2h0M136.0 150.2h0M195.6 295.4h0M138.2 140.9h0M340.1 343.5h0M167.9 220.6h0M228.4 316.9h0M304.3 328.1h0M268.2 348.8h0M221.7 306.5h0M178.5 253.1h0M143.6 131.7h0M255.0 316.1h0M287.0 342.7h0M297.6 330.8h0M129.3 155.0h0M298.5 342.8h0M222.2 368.1h0M308.2 337.4h0M239.2 310.3h0M217.9 365.6h0M264.6 341.8h0"/>
<path stroke="#fe005d" d="M271.9 351.7h0M373.0 346.4h0M231.6 330.5h0M204.8 285.8h0M155.3 190.2h0M285.9 330.9h0M202.2 282.7h0M172.4 229.7h0M255.1 325.5h0M196.7 270.7h0M198.6 268.8h0M319.6 335.8h0M316.8 353.8h0M250.8 313.5h0M246.1 320.1h0M204.7 284.5h0M258.5 319.6h0M148.4 146.0h0M202.5 271.4h0M323.7 339.0h0M201.3 289.5h0M324.2 343.7h0M175.2 254.3h0M304.0 341.7h0M170.7 215.2h0M161.9 199.4h0M230.3 369.3h0M321.6 351.1h0M248.1 314.0h0M282.5 347.8h0M204.9 306.5h0M271.9 328.2h0"/>
<path stroke="#ff0051" d="M227.3 318.9h0M306.1 327.9h0M237.5 319.9h0M285.1 328.9h0M209.8 294.7h0M243.4 352.9h0M312.5 342.2h0M133.9 130.2h0M194.4 273.1h0M239.7 318.8h0M191.0 254.8h0M261.7 320.0h0M250.9 327.0h0M161.7 204.4h0M219.6 302.2h0M253.6 315.6h0M189.5 256.9h0M236.3 336.2h0M276.0 340.8h0"/>
<path stroke="#008bfb" d="M243.9 353.9h0M158.3 240.1h0M121.9 82.9h0M145.7 219.6h0M142.5 72.8h0M324.0 359.6h0M183.3 327.1h0M147.6 137.4h0M271.3 340.3h0M121.9 33.2h0M145.8 201.6h0M200.3 349.1h0M121.9 90.1h0M148.6 126.6h0"/>
<path stroke="#0083f8" d="M133.5 86.9h0M232.5 345.6h0M132.0 42.8h0M128.9 80.4h0M137.1 140.5h0M316.2 331.1h0M186.6 308.5h0M190.0 311.9h0M321.9 349.9h0M149.6 200.7h0M185.6 323.0h0M121.9 76.3h0M177.2 302.0h0M121.9 81.8h0M177.4 274.1h0M230.2 369.7h0M121.9 64.9h0M230.8 315.9h0M151.6 226.6h0M153.3 205.5h0M121.9 33.7h0M145.6 174.9h0M296.7 325.3h0"/>
<path stroke="#007bf5" d="M126.5 72.6h0M171.6 263.7h0M229.4 353.0h0M160.1 224.7h0M251.8 320.9h0M133.0 144.7h0M179.8 274.3h0M156.7 168.6h0M143.1 183.9h0M159.7 249.6h0M148.0 136.5h0M145.1 116.2h0M154.8 224.6h0M135.8 65.8h0M143.4 211.4h0M129.8 54.0h0M236.8 311.5h0M121.9 41.8h0M139.4 115.2h0M229.2 324.4h0M273.9 363.5h0M180.9 302.9h0M180.2 312.7h0"/>
<path stroke="#0073ef" d="M175.8 257.8h0M184.6 301.5h0M130.3 101.4h0M164.1 227.0h0M138.9 78.5h0M125.6 89.4h0M278.7 346.4h0M138.5 56.7h0M174.8 284.8h0M168.1 213.8h0M226.1 351.4h0M235.3 310.4h0M183.5 307.3h0M206.5 307.3h0M195.7 336.8h0M173.9 265.8h0M188.9 333.6h0M171.1 292.3h0M160.9 249.9h0M281.9 357.9h0M194.7 319.0h0M199.1 341.8h0M180.0 307.3h0M134.5 113.3h0M177.0 308.9h0M127.3 57.2h0M204.1 345.2h0M166.1 242.2h0M297.7 326.1h0M169.1 279.2h0M204.1 332.0h0"/>
<path stroke="#2f6ae9" d="M148.9 133.7h0M212.4 350.1h0M141.9 194.7h0M142.9 143.3h0M155.4 158.7h0M142.8 88.6h0M188.0 274.7h0M175.5 258.9h0M239.3 315.2h0M254.5 350.0h0M145.4 142.2h0M187.8 299.8h0M128.3 64.1h0M154.6 238.5h0M160.6 215.6h0M337.1 355.6h0M138.4 128.2h0M288.9 353.9h0M127.9 109.4h0M246.4 374.7h0M234.8 334.6h0M282.0 351.4h0M131.3 109.6h0M214.1 333.6h0"/>
<path stroke="#5261e1" d="M261.0 354.5h0M150.0 129.0h0M186.6 310.8h0M244.9 338.6h0M250.6 358.9h0M162.0 226.9h0M148.3 211.5h0M140.5 109.8h0M147.9 169.8h0M129.1 88.5h0M192.3 315.1h0M252.3 344.3h0M307.4 349.8h0M246.3 361.8h0M125.3 83.9h0M342.7 347.7h0M155.6 160.5h0M183.2 292.3h0M250.1 358.1h0M294.4 338.5h0M129.8 143.8h0M129.1 106.0h0M220.0 331.4h0M157.3 211.1h0M189.0 334.5h0M133.8 129.1h0M204.9 358.9h0M165.1 228.0h0"/>
<path stroke="#6956d7" d="M265.2 355.0h0M261.8 352.0h0M158.7 211.8h0M270.3 354.0h0M121.9 48.4h0M187.4 265.5h0M187.7 330.0h0M212.9 308.1h0M297.9 352.6h0M245.3 361.4h0M171.2 293.7h0M192.9 346.8h0M165.5 213.9h0M222.1 329.9h0M201.4 341.6h0M267.2 355.7h0"/>
<path stroke="#7b4acd" d="M177.1 294.8h0M150.2 141.8h0M163.2 255.2h0M223.8 347.4h0M294.3 362.3h0M145.7 150.4h0M217.4 362.5h0M135.1 125.9h0M121.9 122.6h0M169.1 265.2h0M329.9 362.2h0M178.8 269.0h0M325.9 342.0h0M224.9 331.6h0M340.0 342.5h0M178.5 314.9h0M224.1 344.4h0M335.6 358.5h0M200.9 343.2h0M244.6 341.7h0"/>
<path stroke="#8a3dc1" d="M137.7 79.6h0M277.4 354.2h0M140.7 156.2h0M215.8 310.1h0M213.2 306.0h0M147.2 136.7h0M179.3 274.9h0M222.1 335.9h0M247.8 366.6h0M230.1 368.4h0M132.6 86.2h0M210.4 314.7h0M204.0 339.9h0M226.3 334.8h0"/>
<path stroke="#962db4" d="M310.6 319.7h0M320.9 354.1h0M147.6 164.5h0M239.1 364.0h0M201.1 310.6h0M134.8 173.0h0M172.9 260.2h0M167.7 202.2h0M263.6 355.8h0M139.3 112.4h0M154.0 162.6h0M146.8 143.3h0M291.1 359.5h0M200.8 337.9h0M193.5 331.7h0"/>
<path stroke="#a41daa" d="M279.2 362.0h0M166.9 229.1h0M134.3 154.2h0M149.8 162.3h0M164.8 193.7h0M300.2 363.7h0M212.8 355.7h0M218.6 318.6h0M210.3 323.3h0M134.6 80.7h0M128.9 149.9h0M153.0 183.6h0M207.2 323.9h0M191.0 297.2h0M210.3 315.0h0M190.8 331.8h0M224.5 330.8h0"/>
<path stroke="#dd0088" d="M200.8 302.0h0M195.5 278.7h0M153.4 182.4h0"/>
<path stroke="#e7007e" d="M335.0 353.4h0M311.0 342.1h0M173.6 241.2h0M268.4 324.6h0M169.0 219.7h0"/>
<path stroke="#f00073" d="M136.3 156.5h0M133.3 95.7h0M244.2 333.6h0M248.9 318.8h0M224.4 320.2h0M237.1 332.3h0M157.8 190.7h0M180.8 249.1h0M269.3 350.0h0"/>
<path stroke="#f80068" d="M254.2 323.9h0M121.9 128.7h0M210.3 308.6h0M142.8 84.1h0M232.4 331.2h0M187.3 268.2h0M245.7 315.5h0M249.5 351.0h0M245.7 318.5h0M145.5 121.2h0M259.9 316.4h0M121.9 162.5h0"/>
<path stroke="#fe005d" d="M193.0 265.8h0M308.0 350.4h0M234.5 322.1h0M370.8 350.3h0M279.2 343.0h0M301.1 344.6h0M238.9 310.7h0M205.9 294.4h0M320.1 341.7h0M154.8 171.1h0M259.1 340.5h0M236.1 320.2h0M248.3 363.5h0M207.5 303.6h0M210.1 300.2h0M181.1 248.2h0M310.0 363.8h0M219.3 301.1h0M301.1 329.7h0M193.1 275.8h0M260.8 322.9h0M143.8 211.2h0M205.7 287.9h0M182.8 299.1h0M231.1 313.5h0M222.5 318.5h0M153.4 152.0h0M199.4 279.5h0M349.7 340.5h0M327.3 348.4h0M228.2 321.0h0M311.5 351.6h0M283.6 346.8h0"/>
<path stroke="#ff0051" d="M273.5 341.0h0M257.7 334.1h0M238.8 323.0h0M196.3 272.0h0M215.3 301.3h0M203.2 289.8h0M193.3 279.5h0M298.4 349.5h0M194.3 274.5h0M150.6 223.3h0M315.7 331.6h0M221.7 311.0h0M272.5 336.5h0M241.7 332.3h0M197.5 281.8h0M286.5 352.9h0M268.7 332.7h0"/>
<path stroke="#008bfb" d="M230.3 315.3h0M154.0 238.0h0M179.9 303.8h0M163.7 243.1h0M148.7 208.3h0M179.7 292.9h0M130.2 52.4h0M121.9 34.3h0M127.9 116.7h0"/>
<path stroke="#0083f8" d="M187.4 326.4h0M159.4 230.0h0M167.8 269.5h0M245.3 360.5h0M121.9 73.3h0M183.4 309.3h0M146.8 155.8h0M181.7 261.4h0M129.2 144.1h0M174.6 294.6h0M192.6 304.3h0M253.2 369.1h0M181.8 326.3h0M205.9 333.5h0M138.1 64.9h0M131.4 43.5h0M140.9 129.2h0M236.5 368.6h0M125.3 56.5h0M125.7 72.9h0M251.8 338.6h0M307.9 337.9h0M128.1 48.2h0M141.1 125.4h0M121.9 75.5h0M227.0 366.1h0M181.9 316.7h0M216.0 302.2h0M151.8 171.9h0"/>
<path stroke="#007bf5" d="M149.9 143.5h0M316.8 357.3h0M167.9 279.1h0M169.6 285.3h0M145.0 145.9h0M129.0 123.6h0M262.6 321.0h0M121.9 30.8h0M121.9 42.4h0M134.2 101.7h0M211.7 359.7h0M147.7 214.1h0M304.6 354.5h0M225.0 304.5h0M144.0 216.2h0M234.6 313.2h0M165.3 233.4h0M179.8 308.5h0M267.1 326.2h0M134.1 90.6h0M180.8 315.3h0"/>
<path stroke="#0073ef" d="M134.4 44.8h0M124.1 82.5h0M179.5 275.6h0M211.5 329.2h0M171.0 272.6h0M316.3 331.3h0M206.1 329.2h0M190.3 326.6h0M147.9 225.3h0M315.8 331.5h0M148.2 191.8h0M170.6 274.4h0M133.3 70.3h0M195.7 337.3h0M188.1 316.5h0M206.3 335.4h0M130.6 40.2h0M165.4 249.9h0M130.8 66.9h0"/>
<path stroke="#2f6ae9" d="M248.4 348.9h0M129.8 40.1h0M167.2 248.8h0M121.9 86.1h0M174.8 256.1h0M211.5 342.9h0M127.2 106.9h0M178.8 280.5h0M128.9 81.9h0M155.4 155.0h0M202.1 342.8h0M159.0 198.8h0M215.2 323.7h0M235.9 340.6h0M216.8 316.4h0M139.0 58.2h0M257.1 354.6h0M273.3 368.7h0M203.8 313.3h0M191.5 301.5h0M200.1 348.1h0M131.1 57.9h0M201.8 357.3h0M121.9 97.7h0M220.0 321.2h0M226.1 365.1h0M188.3 299.9h0"/>
<path stroke="#5261e1" d="M257.0 368.0h0M181.4 277.1h0M212.0 334.3h0M141.5 124.5h0M145.1 146.5h0M133.2 153.3h0M292.5 353.0h0M133.0 117.4h0M264.5 350.5h0M155.0 158.1h0M179.4 293.2h0M198.2 309.6h0M147.3 162.4h0M315.2 353.6h0M190.1 332.1h0M226.3 358.7h0M220.0 301.3h0M227.8 337.1h0M223.8 327.7h0M253.6 366.6h0M136.1 121.3h0M191.7 310.5h0"/>
<path stroke="#6956d7" d="M165.6 202.5h0M125.5 111.0h0M134.5 92.8h0M199.5 314.3h0M199.0 350.6h0M233.3 334.2h0M124.8 99.2h0M265.1 354.2h0M254.9 320.6h0M185.8 268.7h0M294.2 332.5h0M210.0 317.4h0M247.0 370.9h0M210.6 312.6h0M194.8 333.9h0M235.4 315.7h0M194.4 331.9h0"/>
<path stroke="#7b4acd" d="M181.1 293.6h0M214.4 312.4h0M139.5 115.8h0M292.7 348.2h0M166.4 225.2h0M196.4 300.8h0M254.1 339.7h0M212.4 345.6h0M190.4 286.2h0M134.4 165.0h0M150.9 150.0h0M191.3 328.8h0M144.8 172.5h0M204.5 354.9h0M173.7 300.1h0M130.1 99.2h0M244.5 362.3h0M144.3 102.3h0M179.3 303.5h0M350.6 347.5h0M142.0 91.5h0M121.9 104.0h0"/>
<path stroke="#8a3dc1" d="M224.1 352.8h0M201.4 346.4h0M231.7 361.4h0M229.5 328.6h0M154.6 213.1h0M124.1 60.5h0M258.6 356.2h0M135.1 120.5h0M216.4 328.6h0M146.2 123.5h0M131.4 119.0h0M172.8 257.0h0M146.4 113.5h0M184.7 271.1h0M139.1 89.5h0M235.3 361.7h0M127.7 63.7h0M130.2 103.3h0M312.9 353.8h0"/>
<path stroke="#962db4" d="M194.2 289.8h0M244.9 374.1h0M142.3 157.4h0M188.5 274.1h0M274.9 350.7h0M190.6 338.6h0M235.9 341.4h0M194.2 315.4h0M163.1 187.3h0M226.0 321.8h0M121.9 125.4h0M121.9 111.7h0M213.6 336.5h0M142.2 187.5h0M143.8 158.7h0M212.4 350.7h0M216.5 320.9h0M256.1 345.1h0M221.9 334.3h0M125.7 119.1h0"/>
<path stroke="#a41daa" d="M240.7 346.6h0M198.3 308.3h0M205.7 360.2h0M157.4 168.8h0M237.2 374.2h0M177.5 265.3h0M153.3 199.2h0M158.6 177.4h0M289.4 358.2h0M199.4 335.2h0M279.9 352.7h0M154.4 156.6h0M234.2 342.4h0M244.2 357.0h0M163.0 197.4h0M236.5 357.9h0M324.6 361.3h0M282.1 366.2h0"/>
<path stroke="#b408a3" d="M155.4 156.1h0"/>
<path stroke="#c3009b" d="M135.5 136.0h0"/>
<path stroke="#d10092" d="M146.9 172.1h0"/>
<path stroke="#dd0088" d="M276.0 326.4h0M309.0 356.0h0M246.7 321.8h0M151.4 144.4h0"/>
<path stroke="#e7007e" d="M290.2 337.7h0M291.3 333.8h0M223.1 325.6h0M328.7 334.5h0M139.3 100.7h0M197.8 265.5h0M327.8 338.2h0"/>
<path stroke="#f00073" d="M262.1 337.7h0M322.0 353.1h0M307.5 342.1h0M121.9 132.1h0M258.4 317.7h0M292.5 330.0h0M318.2 347.2h0"/>
<path stroke="#f80068" d="M325.8 343.1h0M173.6 219.8h0M192.1 262.3h0M281.9 340.0h0M184.6 250.0h0M294.4 346.7h0M247.3 371.9h0M282.3 331.6h0M219.6 315.3h0M295.2 342.7h0M301.7 332.7h0M171.9 220.7h0M173.4 237.5h0M293.9 337.0h0M186.7 258.0h0"/>
<path stroke="#fe005d" d="M211.3 296.5h0M214.1 312.4h0M201.8 276.2h0M299.6 342.9h0M145.1 150.7h0M189.5 270.5h0M254.3 330.2h0M232.0 318.0h0M167.3 202.1h0M269.8 347.2h0M317.0 350.8h0M253.7 318.3h0M218.0 304.7h0M199.5 273.0h0M331.1 332.6h0M273.0 341.1h0M310.6 360.8h0M196.9 281.3h0M241.2 329.0h0M121.9 129.8h0M243.4 313.4h0M281.9 328.1h0M269.8 335.6h0M305.8 348.1h0M204.1 284.9h0M153.8 182.6h0M280.4 362.6h0M189.6 281.6h0M212.0 304.0h0M207.4 304.1h0M203.8 300.8h0"/>
<path stroke="#ff0051" d="M141.1 132.2h0M196.7 258.4h0M257.9 355.9h0M244.9 355.8h0M207.9 293.8h0M246.1 324.2h0M203.1 281.7h0M199.5 266.5h0M190.1 274.5h0M314.0 347.1h0M321.1 325.1h0M244.6 315.2h0M315.2 330.9h0M212.0 313.4h0"/>
<path stroke="#008bfb" d="M144.9 116.4h0M271.6 362.2h0M146.0 173.2h0M150.8 127.8h0M136.2 47.8h0M147.4 201.2h0M147.5 209.4h0M171.5 269.8h0M288.7 337.9h0M121.9 96.3h0M149.7 213.1h0M149.8 226.7h0M131.2 112.2h0M187.1 322.8h0M121.9 72.9h0"/>
<path stroke="#0083f8" d="M121.9 75.0h0M320.1 339.4h0M133.8 152.3h0M186.2 303.9h0M161.2 193.0h0M143.5 182.0h0M138.0 147.8h0M165.8 247.4h0M187.3 334.6h0M141.5 169.7h0M136.7 164.3h0M203.2 346.2h0M121.9 82.6h0M121.9 70.8h0M255.6 333.4h0M166.5 251.2h0M144.0 94.1h0M123.8 45.6h0"/>
<path stroke="#007bf5" d="M146.2 183.5h0M254.1 354.8h0M177.7 276.9h0M207.6 342.1h0M160.6 223.1h0M166.2 276.2h0M121.9 91.5h0M181.2 300.5h0M129.5 98.5h0M131.3 46.6h0M170.7 292.6h0M323.1 333.8h0M137.5 173.5h0M138.0 91.2h0M172.9 296.3h0M146.3 148.5h0M151.2 141.1h0"/>
<path stroke="#0073ef" d="M231.2 362.9h0M134.8 164.9h0M267.3 368.0h0M173.9 266.1h0M137.4 73.4h0M319.5 356.6h0M129.9 90.2h0M320.3 340.3h0M126.1 63.4h0M138.3 117.2h0M210.2 354.3h0M133.2 86.1h0M266.2 353.6h0M125.7 41.2h0M225.0 363.7h0M151.4 183.9h0M299.8 361.7h0M138.0 50.9h0M180.8 323.1h0"/>
<path stroke="#2f6ae9" d="M199.0 315.4h0M290.1 359.1h0M222.6 368.0h0M297.2 361.7h0M158.4 171.8h0M243.1 344.8h0M121.9 49.9h0M209.5 361.2h0M259.4 350.3h0M228.4 370.0h0M138.0 120.7h0M296.8 355.7h0M121.9 56.5h0M197.1 303.5h0M140.0 146.2h0M223.1 358.7h0M250.8 347.7h0M182.2 292.7h0M245.5 337.1h0M146.9 127.2h0M287.1 361.0h0M140.2 64.1h0M254.3 354.0h0M142.2 150.0h0M231.8 336.0h0M325.7 355.1h0M144.7 210.9h0M150.2 162.7h0M137.1 93.9h0M141.2 95.1h0"/>
<path stroke="#5261e1" d="M324.2 345.8h0M214.5 306.9h0M142.5 125.0h0M241.9 351.5h0M297.2 362.7h0M214.6 345.6h0M146.0 169.9h0M235.8 369.8h0M125.0 82.9h0M287.3 341.3h0M245.7 373.9h0M131.2 140.8h0M212.0 351.3h0M184.1 283.8h0M312.7 360.6h0M317.3 350.1h0M131.9 131.3h0M200.6 328.7h0M137.1 85.2h0M322.3 361.4h0"/>
<path stroke="#6956d7" d="M263.1 349.3h0M208.1 337.5h0M121.9 135.8h0M143.8 108.3h0M226.2 334.2h0M192.8 313.9h0M289.2 357.6h0M215.9 330.2h0M221.8 340.5h0M121.9 157.9h0M175.8 259.7h0M139.0 138.5h0M130.8 115.3h0M322.2 360.9h0M140.5 114.3h0M191.3 278.6h0"/>
<path stroke="#7b4acd" d="M185.0 295.7h0M128.9 51.0h0M167.6 261.2h0M190.3 289.8h0M239.0 346.9h0M195.0 346.8h0M236.0 370.8h0M156.5 173.1h0M136.6 78.1h0M232.2 336.1h0M215.8 332.7h0M131.3 135.6h0M184.9 314.7h0M198.5 349.9h0M307.8 363.5h0M234.0 361.4h0M125.5 120.0h0M170.2 237.7h0M181.9 298.8h0M184.7 287.6h0M129.2 58.3h0M238.7 363.5h0M221.9 333.3h0M217.3 315.1h0M243.9 363.3h0"/>
<path stroke="#8a3dc1" d="M190.4 342.2h0M198.1 349.4h0M242.5 366.8h0M233.2 320.6h0M245.7 351.9h0M197.5 348.8h0M164.5 198.1h0M128.4 96.8h0M218.3 319.4h0M145.8 132.1h0M241.8 356.2h0M322.6 356.8h0M155.1 190.3h0M289.9 345.6h0M137.4 147.6h0M149.9 165.7h0M295.3 363.8h0M348.2 346.1h0M133.1 131.8h0M130.7 108.7h0M252.0 346.4h0M140.2 82.7h0M128.0 94.8h0M142.7 74.8h0M242.6 323.4h0M248.5 350.9h0M311.3 361.9h0M259.9 325.2h0M184.0 325.0h0"/>
<path stroke="#962db4" d="M224.9 338.3h0M160.8 229.9h0M133.9 168.6h0M149.9 186.4h0M196.5 309.8h0M249.2 342.5h0M146.6 174.4h0M246.8 334.1h0M219.7 315.3h0M245.8 346.4h0M214.8 335.7h0M186.1 270.5h0M284.6 333.5h0"/>
<path stroke="#a41daa" d="M154.3 223.2h0M236.8 367.4h0M224.1 332.7h0M199.5 345.0h0M257.5 346.3h0M293.8 352.6h0M194.5 325.1h0M224.4 332.2h0M206.7 311.5h0M201.2 353.7h0M143.0 179.5h0M217.1 353.3h0M158.6 196.4h0M229.9 325.8h0M211.2 350.4h0M227.2 333.6h0M206.7 353.8h0"/>
<path stroke="#d10092" d="M220.0 307.4h0"/>
<path stroke="#dd0088" d="M286.4 332.8h0"/>
<path stroke="#e7007e" d="M136.4 127.3h0M271.9 358.7h0M152.9 165.6h0M327.5 336.2h0M322.4 353.2h0M259.9 337.2h0M268.3 339.2h0M316.8 352.9h0M260.6 328.7h0M221.6 304.2h0M319.6 334.8h0"/>
<path stroke="#f00073" d="M350.7 348.3h0M265.9 336.3h0M214.0 314.4h0M312.0 349.7h0M297.4 348.3h0M284.4 334.7h0M272.4 339.6h0M253.5 331.7h0"/>
<path stroke="#f80068" d="M314.3 352.9h0M251.1 320.6h0M335.0 345.8h0M179.2 243.2h0M121.9 144.3h0M284.7 349.0h0M245.8 311.1h0M287.5 361.0h0M199.5 291.7h0M161.2 196.0h0M291.5 340.4h0M269.3 349.4h0M327.3 339.8h0M176.0 233.8h0M289.0 337.3h0"/>
<path stroke="#fe005d" d="M254.5 318.2h0M287.0 340.7h0M284.0 348.2h0M305.6 342.9h0M250.1 335.1h0M175.4 245.9h0M293.2 333.9h0M143.9 126.2h0M180.8 251.8h0M228.0 312.4h0M348.1 355.5h0M227.5 317.3h0M214.3 304.9h0M164.4 190.9h0M246.2 319.8h0M234.3 321.3h0M203.9 299.2h0M310.1 349.8h0M207.8 309.2h0M200.1 337.1h0M268.0 339.0h0M352.7 360.1h0M303.2 358.9h0M201.0 302.4h0M172.8 236.4h0M147.1 172.1h0M178.6 240.1h0M228.0 325.3h0M229.2 365.2h0M157.2 247.1h0"/>
<path stroke="#ff0051" d="M262.0 338.9h0M310.5 337.9h0M136.2 172.5h0M264.0 345.0h0M142.4 100.9h0M236.1 317.8h0M177.3 249.6h0M179.2 244.9h0M250.7 319.0h0M308.2 342.7h0M130.8 92.1h0M177.8 256.5h0M163.2 207.2h0M297.1 350.6h0M265.5 325.0h0M269.7 330.2h0M201.6 290.0h0M193.0 260.5h0M236.6 318.7h0"/>
<path stroke="#008bfb" d="M139.0 158.2h0M170.7 278.2h0M167.8 200.9h0M129.8 86.3h0M163.1 270.9h0M318.5 353.3h0M315.0 335.1h0M221.1 347.3h0M121.9 39.6h0M121.9 90.2h0"/>
<path stroke="#0083f8" d="M127.5 85.8h0M170.4 288.3h0M124.0 109.7h0M218.8 312.9h0M221.6 365.7h0M170.7 268.3h0M260.5 322.6h0M167.2 209.7h0M315.3 333.3h0M135.7 170.8h0M160.2 237.0h0M121.9 87.6h0M234.9 312.1h0M156.4 231.5h0M121.9 107.9h0M169.4 254.4h0M347.2 338.6h0M133.4 120.8h0M176.9 307.4h0M135.1 122.1h0M315.0 336.7h0M226.9 315.4h0M126.5 100.3h0M181.8 275.4h0M136.0 176.2h0M187.0 315.8h0M146.5 178.0h0M140.2 127.8h0M133.3 60.0h0M170.9 282.7h0M270.4 337.8h0M308.3 354.7h0M246.3 312.2h0M265.7 367.7h0M246.8 349.4h0"/>
<path stroke="#007bf5" d="M160.1 245.1h0M166.5 281.5h0M127.8 43.4h0M124.2 54.6h0M132.9 134.4h0M198.9 328.4h0M255.1 318.8h0M146.1 183.6h0M171.9 288.7h0M156.9 237.0h0M186.5 335.1h0M140.6 111.4h0M126.9 118.7h0M123.7 93.8h0M134.2 166.8h0M148.8 144.6h0M136.1 56.1h0M150.9 134.7h0M226.9 357.2h0M321.5 344.3h0M146.5 177.0h0M141.7 165.7h0"/>
<path stroke="#0073ef" d="M218.6 316.9h0M156.6 229.4h0M188.1 254.0h0M171.3 286.0h0M143.6 110.1h0M145.8 90.0h0M121.9 97.1h0M147.8 228.0h0M168.9 279.8h0M125.0 41.9h0M126.2 88.4h0M293.5 361.9h0M251.4 347.5h0M190.9 324.5h0M180.6 322.7h0M137.9 51.8h0M164.1 250.8h0M162.7 268.5h0"/>
<path stroke="#2f6ae9" d="M135.4 121.6h0M204.4 305.3h0M156.0 201.1h0M226.9 314.4h0M202.8 343.0h0M124.0 69.5h0M221.8 324.0h0M226.5 324.2h0M202.8 319.6h0M289.0 331.9h0M138.9 70.6h0M215.6 348.7h0M145.3 142.4h0M259.8 353.9h0M205.0 322.6h0M121.9 157.7h0M149.6 160.6h0M197.0 332.8h0M215.3 324.1h0M183.0 283.4h0M188.0 300.0h0M130.3 104.6h0M121.9 148.4h0M241.6 351.6h0M267.3 352.5h0"/>
<path stroke="#5261e1" d="M142.9 150.6h0M193.2 323.4h0M131.5 92.4h0M129.3 74.3h0M177.4 271.5h0M141.9 140.3h0M253.1 364.4h0M226.0 348.1h0M198.3 303.6h0M240.3 349.7h0M235.7 366.2h0M210.4 340.8h0M282.2 360.9h0M231.0 344.1h0M218.7 348.1h0M229.9 356.1h0M136.0 129.4h0M212.1 301.1h0M212.0 312.6h0M137.0 114.3h0M280.0 352.7h0M317.1 351.4h0"/>
<path stroke="#6956d7" d="M138.2 153.4h0M185.6 312.8h0M124.4 80.4h0M129.7 145.5h0M265.1 369.3h0M224.1 350.2h0M277.2 345.7h0M228.0 340.9h0M125.3 119.3h0M199.1 310.6h0M216.4 350.4h0M149.0 153.2h0M239.7 371.6h0M177.4 265.4h0M251.7 326.1h0M212.6 311.4h0M268.6 356.4h0M166.3 239.3h0M180.9 265.8h0M212.1 355.2h0M218.8 337.5h0M224.4 305.9h0M254.9 332.1h0"/>
<path stroke="#7b4acd" d="M160.4 206.9h0M158.4 220.4h0M177.5 273.9h0M148.0 117.3h0M130.5 89.4h0M138.2 73.4h0M133.2 102.7h0M198.9 310.9h0M205.5 350.6h0M209.5 354.1h0M141.9 135.8h0M295.6 366.5h0M148.8 114.9h0M231.1 350.2h0M236.8 372.4h0M126.0 47.0h0M151.2 155.1h0M168.5 248.9h0M241.1 344.9h0M163.7 238.1h0M320.1 350.8h0M242.0 332.8h0M137.7 58.6h0"/>
<path stroke="#8a3dc1" d="M157.8 214.6h0M193.5 301.0h0M131.6 75.8h0M140.3 81.5h0M263.2 365.7h0M203.2 340.1h0M246.4 357.9h0M251.3 372.8h0M313.7 351.1h0M143.2 157.7h0M143.9 94.1h0M271.1 358.9h0M162.7 218.6h0M243.8 328.6h0M268.5 360.6h0M197.0 324.8h0M271.7 363.8h0M128.0 50.5h0M146.9 110.3h0M136.3 125.0h0M238.4 342.0h0M287.2 347.5h0M204.8 327.2h0M280.5 355.7h0"/>
<path stroke="#962db4" d="M166.4 200.5h0M156.1 197.4h0M191.0 296.1h0M207.6 312.6h0M280.3 356.5h0M149.6 122.7h0M163.0 248.1h0M203.9 359.7h0M225.4 346.7h0M204.4 302.5h0M222.4 340.1h0M184.4 323.5h0M213.6 350.7h0M247.6 343.5h0M167.3 226.8h0M239.2 341.8h0M198.5 352.8h0M201.1 340.9h0M214.3 329.8h0M203.7 338.3h0M149.0 231.3h0M127.4 111.0h0M241.9 335.4h0"/>
<path stroke="#a41daa" d="M297.2 356.5h0M249.4 347.5h0M211.7 357.2h0M278.5 365.8h0M152.3 182.5h0M197.8 295.5h0M221.1 333.6h0M149.4 183.6h0M139.3 179.5h0M161.5 235.0h0"/>
<path stroke="#c3009b" d="M149.7 176.4h0"/>
<path stroke="#d10092" d="M121.9 153.9h0"/>
<path stroke="#dd0088" d="M140.2 154.9h0M121.9 114.4h0"/>
<path stroke="#e7007e" d="M181.1 245.2h0M149.9 163.0h0M170.6 227.1h0M325.4 344.6h0"/>
<path stroke="#f00073" d="M147.3 125.5h0M196.1 269.9h0M257.6 344.7h0M260.7 349.0h0M137.5 143.6h0M146.8 140.9h0M319.1 351.0h0M300.4 340.4h0M209.1 338.3h0M299.7 364.5h0M226.0 366.5h0"/>
<path stroke="#f80068" d="M338.5 354.7h0M278.4 364.2h0M259.3 349.0h0M233.8 327.5h0M196.2 287.7h0M322.6 337.4h0M142.2 188.0h0M158.4 172.3h0M295.5 328.2h0"/>
<path stroke="#fe005d" d="M164.5 220.5h0M223.8 304.8h0M230.7 315.4h0M172.2 226.6h0M141.6 110.0h0M188.9 313.4h0M345.6 338.7h0M242.5 320.1h0M265.6 337.2h0M144.6 89.6h0M245.2 330.0h0M170.0 215.0h0M167.8 210.0h0M216.5 360.4h0M281.1 328.5h0M245.7 372.2h0M184.8 264.0h0M156.7 184.1h0M194.7 262.3h0M291.3 344.1h0M325.1 342.4h0M130.6 149.5h0M282.4 332.0h0M201.7 295.4h0M171.8 224.4h0M292.9 326.8h0M258.2 358.4h0M168.4 214.2h0"/>
<path stroke="#ff0051" d="M233.3 314.0h0M330.2 340.7h0M201.9 294.4h0M164.2 220.6h0M301.0 361.5h0M319.9 344.9h0M245.4 364.3h0M263.5 337.2h0M296.0 336.3h0M349.8 338.0h0M312.8 320.3h0M306.2 347.0h0M169.3 230.9h0"/>
<path stroke="#008bfb" d="M274.0 326.8h0M149.3 139.3h0M226.2 306.4h0M127.4 83.0h0M121.9 77.6h0M141.8 174.6h0M141.2 131.7h0"/>
<path stroke="#0083f8" d="M321.8 332.7h0M152.9 228.6h0M165.7 260.0h0M155.4 237.3h0M121.9 61.4h0M151.2 196.9h0M121.9 97.2h0M121.9 88.8h0M148.4 190.2h0M256.0 330.1h0M281.1 327.3h0M300.2 347.6h0M157.0 189.2h0M133.0 152.1h0M121.9 42.0h0M130.6 58.0h0M166.8 275.8h0M158.4 239.8h0M121.9 33.9h0M129.5 111.7h0M202.4 322.8h0M293.3 342.7h0M141.9 101.1h0M129.8 106.9h0M193.5 314.1h0M235.0 373.1h0M278.3 351.3h0"/>
<path stroke="#007bf5" d="M197.0 310.0h0M151.7 219.4h0M157.6 232.8h0M196.3 330.8h0M136.1 58.0h0M138.8 184.2h0M130.6 39.8h0M121.9 57.2h0M185.7 310.6h0M131.2 108.1h0M158.0 237.1h0M205.4 318.6h0M127.8 63.4h0M198.8 330.5h0M322.1 327.8h0M248.9 332.0h0M135.2 167.0h0M185.0 308.1h0M238.3 357.7h0M138.8 55.4h0M287.8 336.3h0M188.2 318.5h0M208.5 348.3h0M157.2 218.0h0M158.2 219.9h0M185.2 314.3h0M312.1 363.1h0M130.8 46.8h0M121.9 34.1h0M164.6 204.0h0M303.1 351.6h0"/>
<path stroke="#0073ef" d="M230.6 333.6h0M149.6 163.5h0M332.8 334.0h0M240.2 374.2h0M129.8 140.1h0M167.8 252.6h0M163.0 249.0h0M175.2 261.0h0M189.2 323.2h0M262.0 323.3h0M143.7 193.7h0M140.2 171.1h0M217.7 339.7h0M135.1 50.1h0M135.4 87.9h0M148.8 208.7h0M295.2 335.6h0M161.3 229.8h0M143.3 210.1h0"/>
<path stroke="#2f6ae9" d="M234.9 351.4h0M231.0 359.9h0M277.8 355.9h0M172.0 273.9h0M299.9 342.0h0M158.1 221.0h0M224.4 342.9h0M166.3 201.5h0M145.1 108.5h0M306.8 354.4h0M188.3 314.0h0M121.9 104.3h0M127.0 59.7h0M304.8 358.0h0M259.7 339.2h0M145.2 183.6h0M245.5 357.3h0M155.8 243.2h0M215.9 354.5h0M253.6 339.4h0M170.1 279.3h0M143.5 118.0h0M139.3 64.9h0M145.8 215.1h0M222.1 366.0h0M327.6 361.6h0M167.0 247.4h0M155.5 242.1h0"/>
<path stroke="#5261e1" d="M196.9 351.4h0M160.2 218.7h0M194.1 312.7h0M139.9 143.1h0M144.0 87.7h0M184.1 275.9h0M229.9 321.4h0M153.9 151.5h0M211.7 359.1h0M250.3 354.1h0M208.9 311.7h0M197.5 340.6h0M143.2 139.3h0M275.7 356.6h0M135.5 79.7h0M246.5 333.3h0M214.0 363.8h0M183.5 330.3h0M160.5 204.5h0"/>
<path stroke="#6956d7" d="M134.5 154.1h0M268.3 358.2h0M211.5 353.5h0M213.2 326.8h0M138.9 87.1h0M315.3 330.3h0M241.9 372.2h0M201.9 339.3h0M285.2 350.7h0M178.3 272.7h0M121.9 127.1h0M356.6 346.7h0M132.7 76.8h0M300.1 357.8h0M146.2 139.3h0M224.4 330.1h0M136.6 77.9h0M231.9 345.0h0M276.6 348.9h0M248.2 344.3h0M212.0 344.9h0"/>
<path stroke="#7b4acd" d="M135.6 164.3h0M296.3 364.7h0M146.4 110.3h0M137.7 73.2h0M127.3 62.3h0M207.9 356.3h0M233.4 364.9h0M139.1 81.6h0M307.6 328.2h0M148.6 157.2h0M173.3 230.9h0M158.3 202.8h0M148.6 126.4h0M140.1 96.2h0M280.9 353.1h0M218.1 346.8h0M155.6 159.9h0"/>
<path stroke="#8a3dc1" d="M157.4 170.0h0M238.3 333.1h0M139.9 175.5h0M176.8 267.1h0M156.8 250.3h0M139.0 87.8h0M181.2 284.7h0M243.5 346.2h0M127.9 76.1h0M213.3 337.9h0M126.1 109.6h0M194.7 344.7h0M141.8 132.5h0M214.4 331.7h0M289.4 357.1h0M137.7 106.3h0M168.5 249.0h0M246.9 336.0h0M183.0 272.3h0"/>
<path stroke="#962db4" d="M152.9 166.3h0M236.5 360.2h0M254.0 336.7h0M140.0 141.2h0M246.9 319.4h0M146.7 141.8h0M192.9 310.1h0M236.5 361.5h0M254.2 369.0h0M237.8 337.2h0M147.4 170.8h0M262.4 342.4h0M134.8 145.2h0M170.5 236.2h0M176.6 249.9h0M254.9 345.1h0M146.6 127.9h0M311.8 362.2h0M153.7 170.6h0M121.9 120.8h0M168.8 205.3h0"/>
<path stroke="#a41daa" d="M168.1 264.9h0M243.9 343.9h0M310.0 325.7h0M234.0 311.0h0M316.4 354.1h0M210.0 364.2h0M241.1 336.6h0M262.3 361.5h0M194.1 332.8h0M249.9 357.2h0M211.7 344.2h0"/>
<path stroke="#b408a3" d="M138.4 110.9h0M313.4 331.7h0"/>
<path stroke="#d10092" d="M327.4 355.6h0M292.7 338.5h0"/>
<path stroke="#dd0088" d="M136.7 87.9h0M320.9 362.3h0"/>
<path stroke="#e7007e" d="M121.9 138.6h0M167.3 213.2h0M172.6 224.7h0M253.7 371.1h0M188.1 255.5h0"/>
<path stroke="#f00073" d="M243.9 311.7h0M197.2 348.3h0M176.3 240.0h0M134.7 152.8h0M199.4 300.9h0M191.4 259.5h0M279.0 334.0h0M310.3 354.2h0M158.7 196.1h0M234.0 322.4h0M257.8 330.3h0M200.0 270.4h0M253.6 315.8h0M200.3 303.2h0M310.1 334.3h0"/>
<path stroke="#f80068" d="M203.6 306.4h0M269.5 353.4h0M197.3 279.3h0M204.9 287.9h0M322.9 362.3h0M216.8 308.4h0M232.2 309.7h0M193.2 266.6h0M191.6 274.0h0M195.6 288.2h0M197.0 287.4h0M236.5 320.4h0M171.0 246.2h0M135.9 154.8h0M192.8 276.2h0M163.5 211.8h0M321.3 350.4h0M313.0 349.7h0M178.6 245.7h0M214.1 300.6h0"/>
<path stroke="#fe005d" d="M199.0 282.6h0M198.6 293.3h0M182.2 245.7h0M355.2 340.0h0M146.1 165.0h0M257.2 327.3h0M141.5 160.5h0M227.8 305.0h0M294.4 332.3h0M149.2 117.5h0M207.8 300.5h0M195.1 264.5h0M256.8 338.2h0M193.2 263.2h0M158.9 207.6h0M196.1 269.2h0M139.6 151.0h0M374.6 347.2h0M147.2 130.6h0M295.4 331.8h0"/>
<path stroke="#ff0051" d="M285.3 345.0h0M196.4 295.2h0M197.9 282.2h0M261.8 345.8h0M268.2 348.3h0M192.9 272.2h0M280.0 366.1h0M205.0 359.1h0M216.2 362.0h0M205.3 294.4h0M216.5 306.2h0M214.9 314.5h0M178.6 254.7h0M332.1 334.4h0M161.5 185.1h0M347.5 343.2h0M212.4 312.0h0M205.5 298.8h0"/>
<path stroke="#008bfb" d="M268.2 327.9h0M213.4 347.8h0M262.4 326.7h0M161.2 246.5h0M151.0 200.1h0M191.3 325.8h0M256.0 339.0h0M156.2 229.7h0M121.9 131.0h0M152.8 184.2h0M133.7 140.6h0M177.0 288.0h0M302.9 362.1h0M133.1 111.3h0"/>
<path stroke="#0083f8" d="M169.5 274.0h0M142.2 218.6h0M153.8 215.8h0M233.7 369.7h0M206.0 334.7h0M185.3 323.2h0M148.3 189.2h0M188.3 308.0h0M174.7 292.0h0M191.1 329.6h0M130.8 108.5h0M144.4 201.0h0M147.1 198.0h0M133.9 96.7h0M121.9 58.5h0M121.9 39.5h0M198.3 303.4h0M221.7 347.1h0M150.6 204.6h0M130.4 61.8h0M233.9 369.8h0M144.4 189.3h0M160.0 234.9h0M162.0 197.4h0"/>
<path stroke="#007bf5" d="M285.2 336.8h0M145.1 148.7h0M225.8 352.8h0M149.0 204.0h0M169.8 279.7h0M222.1 346.5h0M318.4 330.6h0M273.5 325.3h0M147.3 138.0h0M124.1 96.5h0M121.9 72.2h0M131.7 78.6h0M251.9 315.1h0M127.7 127.4h0M164.8 273.4h0M121.9 71.4h0M215.5 353.5h0M145.4 203.6h0M148.4 193.0h0M215.9 355.1h0M174.9 267.4h0M264.2 359.6h0M152.5 235.6h0M129.7 69.4h0M329.0 332.0h0M125.0 86.7h0M175.6 277.9h0M171.4 282.7h0M161.5 258.6h0"/>
<path stroke="#0073ef" d="M153.6 227.7h0M146.8 189.7h0M136.1 92.1h0M138.2 183.8h0M309.5 329.7h0M170.3 286.6h0M195.9 347.8h0M204.3 358.5h0M175.5 283.4h0M204.4 333.5h0M157.0 199.5h0M162.2 248.9h0M145.2 209.1h0M161.0 260.3h0M268.6 327.3h0M234.7 312.7h0M157.0 221.8h0M142.5 185.6h0M273.0 359.7h0M147.0 189.4h0M134.2 150.0h0M156.4 245.5h0M176.1 285.4h0M167.6 261.3h0M182.3 321.7h0M291.5 336.1h0M146.5 204.8h0M139.0 177.3h0M303.3 362.1h0M189.6 307.4h0M173.5 299.6h0M190.5 312.4h0M167.3 252.3h0M195.6 302.0h0M180.8 276.6h0M133.4 85.1h0M136.1 79.4h0"/>
<path stroke="#2f6ae9" d="M221.3 353.5h0M196.8 306.9h0M145.6 168.4h0M208.2 312.4h0M274.6 359.9h0M192.5 307.5h0M275.0 327.2h0M203.6 342.7h0M186.2 327.7h0M220.5 314.2h0M246.2 344.1h0M222.3 354.5h0M215.3 343.8h0M168.3 250.9h0M148.1 162.0h0M228.0 354.6h0M237.3 344.7h0M213.2 329.8h0M274.4 358.5h0M204.9 340.8h0M247.8 362.8h0M214.4 339.5h0"/>
<path stroke="#5261e1" d="M205.7 349.3h0M239.4 337.5h0M160.8 185.1h0M232.6 330.8h0M134.8 122.7h0M265.0 341.3h0M251.0 349.0h0M258.2 324.2h0M246.2 368.5h0M242.0 357.2h0M215.4 364.6h0M264.9 350.5h0M222.0 318.8h0M236.9 362.3h0M167.2 241.3h0M139.2 103.1h0M135.6 75.2h0"/>
<path stroke="#6956d7" d="M136.4 79.1h0M268.1 356.7h0M277.0 354.4h0M202.0 340.9h0M273.9 361.7h0M236.1 370.1h0M191.6 302.9h0M229.0 358.5h0M205.3 349.0h0M303.4 317.4h0M179.7 278.1h0M191.8 313.3h0M199.1 287.9h0M161.9 221.3h0M174.3 301.2h0M132.0 68.1h0M124.6 116.0h0M206.2 343.9h0M171.8 229.9h0"/>
<path stroke="#7b4acd" d="M212.8 364.8h0M203.1 330.3h0M246.0 367.9h0M254.0 331.7h0M217.7 312.8h0M181.7 303.6h0M148.6 136.1h0M306.1 355.7h0M293.7 361.2h0M166.4 233.2h0M182.7 264.2h0M254.9 354.6h0M215.4 321.5h0M133.6 75.5h0M245.8 340.7h0M177.7 248.4h0M214.4 311.8h0M197.5 339.9h0M309.5 351.9h0"/>
<path stroke="#8a3dc1" d="M310.5 345.2h0M168.4 235.3h0M289.8 336.4h0M131.6 129.9h0M173.9 249.3h0M182.4 271.0h0M211.0 337.0h0M168.5 266.3h0M143.4 148.5h0M148.7 160.3h0M236.6 363.8h0M193.3 279.6h0M237.9 345.0h0M258.1 367.8h0M199.0 353.9h0M121.9 141.1h0M216.0 345.8h0M150.0 193.9h0M215.9 359.2h0M245.5 363.1h0"/>
<path stroke="#962db4" d="M137.9 151.8h0M212.8 322.4h0M222.5 355.5h0M258.3 360.1h0M157.4 209.2h0M206.4 361.5h0M160.5 218.4h0M128.5 130.6h0M243.4 344.1h0M216.5 356.4h0M173.6 229.2h0M250.6 361.6h0M213.8 365.7h0M255.0 335.7h0M163.6 216.2h0M131.5 112.0h0M213.1 349.5h0M246.0 346.3h0M216.8 345.2h0"/>
<path stroke="#a41daa" d="M243.6 350.0h0M258.6 368.0h0M176.6 249.8h0M180.6 273.2h0M310.4 354.5h0M181.5 266.8h0M172.2 240.0h0M307.1 356.7h0M165.4 230.9h0M152.8 196.7h0M329.2 353.5h0"/>
<path stroke="#c3009b" d="M266.2 330.5h0"/>
<path stroke="#dd0088" d="M140.3 179.7h0M156.5 179.4h0"/>
<path stroke="#e7007e" d="M280.7 329.6h0M135.7 82.1h0M285.8 325.5h0M308.0 332.1h0"/>
<path stroke="#f00073" d="M281.4 327.1h0M213.5 310.4h0M282.6 334.1h0M315.0 351.4h0M133.6 144.3h0M205.2 299.5h0M297.7 356.8h0"/>
<path stroke="#f80068" d="M301.3 343.9h0M282.5 340.2h0M220.5 306.8h0M239.7 319.6h0M331.0 338.8h0M218.5 304.3h0M306.7 346.6h0M177.3 248.2h0M203.3 305.5h0M158.2 182.3h0M187.6 266.7h0M319.8 361.3h0M174.9 248.9h0M318.2 346.0h0M131.0 153.4h0M294.5 349.3h0"/>
<path stroke="#fe005d" d="M197.1 290.8h0M218.9 306.7h0M182.9 260.6h0M183.3 258.7h0M315.2 318.9h0M275.7 343.2h0M331.8 361.2h0M272.9 330.6h0M217.1 302.3h0M237.0 310.5h0M121.9 138.9h0M289.1 331.5h0M133.9 161.4h0M208.0 308.2h0M240.5 311.1h0M227.6 316.7h0M290.2 348.8h0M219.7 302.5h0M256.4 331.4h0M156.4 181.6h0M260.2 347.1h0M189.8 255.5h0M257.6 337.3h0M255.0 337.8h0M319.9 331.7h0M165.2 198.2h0M176.5 235.6h0M243.4 314.4h0"/>
<path stroke="#ff0051" d="M314.3 361.1h0M207.9 293.5h0M176.1 230.0h0M190.3 255.1h0M236.2 323.1h0M366.6 346.0h0M156.0 170.6h0M303.4 336.5h0M294.2 342.5h0M142.5 203.3h0M286.0 347.2h0M284.5 338.0h0M314.0 351.8h0M209.0 294.8h0M242.3 326.6h0"/>
<path stroke="#008bfb" d="M143.4 100.2h0M138.1 120.4h0M132.5 48.2h0M216.8 328.7h0M148.4 112.8h0M129.6 87.6h0M299.7 330.8h0M132.4 147.2h0M227.6 306.7h0M137.3 157.4h0M298.3 328.0h0M121.9 34.2h0M216.3 365.9h0"/>
<path stroke="#0083f8" d="M187.0 324.0h0M293.3 359.5h0M142.3 196.9h0M273.7 326.5h0M137.8 49.4h0M135.2 50.9h0M135.1 119.2h0M161.0 255.0h0M198.8 339.9h0M121.9 51.1h0M130.8 44.3h0M237.9 327.8h0M187.0 309.2h0M236.5 325.7h0M182.1 314.2h0M179.7 297.7h0"/>
<path stroke="#007bf5" d="M170.9 279.1h0M333.5 334.9h0M174.9 289.4h0M202.8 357.8h0M141.5 161.5h0M135.8 78.6h0M126.6 44.6h0M239.4 314.8h0M231.4 344.9h0M145.2 218.3h0M174.2 275.3h0M129.8 151.8h0M141.5 197.5h0M129.7 85.0h0M147.1 119.1h0M179.5 276.9h0M145.0 85.7h0M126.5 46.2h0M178.4 286.2h0M292.5 328.3h0M121.9 85.7h0M121.9 31.6h0M163.2 254.3h0M162.1 258.3h0M136.8 112.5h0M143.2 191.0h0M132.4 84.7h0M132.1 48.7h0"/>
<path stroke="#0073ef" d="M135.4 90.2h0M170.1 287.9h0M121.9 141.7h0M147.2 210.7h0M166.4 258.3h0M154.9 187.9h0M321.3 332.3h0M158.8 232.0h0M164.3 274.5h0M167.6 205.8h0M142.0 127.6h0M268.6 338.9h0M183.9 299.9h0M147.6 103.1h0M136.1 157.3h0M172.4 267.4h0M131.3 44.6h0M277.9 331.6h0M146.5 194.7h0M220.3 335.7h0M135.0 74.1h0M125.9 77.7h0M127.7 127.7h0M127.0 95.7h0M216.5 357.4h0M224.7 360.7h0M173.2 296.7h0M186.5 326.7h0M140.5 190.9h0M191.6 322.6h0M148.1 185.8h0M132.2 79.0h0"/>
<path stroke="#2f6ae9" d="M237.4 349.9h0M179.1 291.6h0M157.2 250.4h0M232.4 345.9h0M139.4 138.2h0M135.0 159.0h0M216.8 360.1h0M292.2 352.1h0M133.3 63.6h0M198.4 344.5h0M202.5 325.7h0M200.8 330.1h0M183.8 279.1h0M146.0 179.3h0M184.2 279.5h0M184.3 326.5h0M244.3 367.8h0M258.6 351.2h0M159.1 219.9h0M229.8 354.7h0M168.0 255.3h0M124.1 98.2h0M203.2 357.1h0M227.2 346.0h0M327.2 353.3h0M207.2 364.2h0"/>
<path stroke="#5261e1" d="M186.8 332.8h0M294.1 361.5h0M134.7 133.4h0M151.8 193.2h0M142.7 143.6h0M260.9 346.6h0M224.2 370.1h0M149.9 139.3h0M137.2 72.1h0M185.5 282.4h0M185.8 286.5h0M133.7 123.5h0M218.4 365.2h0M316.3 342.3h0M150.9 158.0h0M214.7 348.9h0M174.5 284.5h0M206.0 314.0h0"/>
<path stroke="#6956d7" d="M211.1 327.5h0M297.7 328.2h0M195.6 313.6h0M304.1 354.9h0M129.8 69.3h0M295.0 341.6h0M247.2 362.0h0M133.4 99.3h0M248.5 369.8h0M179.3 258.5h0M138.2 101.4h0M197.6 305.1h0M121.9 152.7h0M130.6 100.7h0M121.9 86.0h0M192.5 291.2h0M205.3 345.8h0M146.9 119.8h0"/>
<path stroke="#7b4acd" d="M225.1 316.6h0M132.2 115.5h0M140.8 129.0h0M139.5 122.5h0M141.6 151.6h0M141.1 94.2h0M146.0 149.2h0M173.4 289.0h0M138.8 119.5h0M145.4 95.0h0M196.1 342.6h0M220.1 359.4h0M170.1 258.4h0M131.7 133.2h0M169.3 206.4h0"/>
<path stroke="#8a3dc1" d="M126.3 90.9h0M198.9 305.5h0M262.0 343.7h0M125.7 103.0h0M249.1 320.5h0M224.6 306.0h0M138.8 88.9h0M223.0 304.5h0M171.5 252.8h0M295.6 350.5h0M233.1 332.6h0M201.8 318.7h0M224.0 368.4h0M165.3 201.6h0M140.5 143.0h0M197.1 314.6h0M292.8 354.7h0M169.3 250.2h0M232.8 348.2h0"/>
<path stroke="#962db4" d="M150.5 183.4h0M240.9 339.7h0M121.9 142.5h0M128.3 107.8h0M205.5 328.0h0M131.8 138.3h0M183.2 288.8h0M328.8 360.2h0M206.8 294.4h0M148.1 165.3h0M216.6 358.5h0M240.4 333.5h0M329.3 332.4h0M244.8 341.2h0M145.7 122.2h0"/>
<path stroke="#a41daa" d="M216.6 324.9h0M233.1 346.0h0M191.8 294.1h0M266.7 346.0h0M261.7 344.6h0M242.6 335.2h0M189.7 330.0h0M193.9 275.3h0M286.6 352.3h0M299.5 329.6h0M241.6 347.1h0M263.5 366.4h0M245.9 371.8h0M180.4 273.3h0"/>
<path stroke="#b408a3" d="M150.3 175.5h0M149.0 133.3h0"/>
<path stroke="#d10092" d="M291.6 330.5h0M121.9 97.2h0"/>
<path stroke="#dd0088" d="M143.7 171.3h0M280.4 350.4h0M141.7 110.7h0"/>
<path stroke="#e7007e" d="M167.7 220.4h0M270.5 343.7h0M121.9 157.6h0M162.8 198.3h0M338.0 349.3h0M153.7 188.8h0"/>
<path stroke="#f00073" d="M307.3 341.8h0M257.2 358.9h0M174.2 236.3h0M121.9 152.9h0M209.5 307.7h0M153.9 164.6h0M145.8 190.1h0M274.8 336.0h0M243.7 332.9h0M157.8 174.0h0M196.9 281.5h0"/>
<path stroke="#f80068" d="M155.5 195.9h0M209.2 296.4h0M258.1 331.9h0M199.3 266.0h0M240.5 324.8h0M241.9 328.7h0M250.2 318.7h0M335.1 348.0h0M336.4 335.6h0M188.0 255.4h0M221.3 315.4h0M155.6 163.1h0M277.6 341.8h0M154.8 150.6h0M246.9 340.7h0M197.4 296.2h0M262.8 322.6h0M198.4 294.1h0M229.6 306.9h0M273.5 355.7h0M296.8 348.3h0M322.4 348.1h0"/>
<path stroke="#fe005d" d="M167.9 216.9h0M213.8 302.7h0M237.9 332.0h0M204.6 267.1h0M321.2 353.3h0M297.4 336.9h0M173.7 243.9h0M191.6 281.5h0M190.2 271.3h0M291.8 343.5h0M153.0 235.5h0M210.4 302.4h0M208.2 306.5h0M216.4 308.3h0M139.4 105.4h0M223.3 352.6h0M232.0 315.6h0M252.9 322.1h0M166.9 228.5h0M210.5 311.2h0M313.6 330.2h0M221.7 302.0h0M291.5 354.1h0"/>
<path stroke="#ff0051" d="M202.4 310.8h0M228.5 306.3h0M255.2 315.8h0M182.5 245.8h0M306.1 341.3h0M206.9 306.5h0M285.1 349.9h0M200.0 275.2h0M226.5 329.4h0M261.3 340.6h0M192.0 263.6h0M207.2 293.4h0M269.5 345.9h0M187.2 315.7h0M226.6 314.3h0M278.8 333.9h0M208.1 312.4h0M335.2 354.9h0M197.1 268.1h0M193.1 285.8h0"/>
<path stroke="#008bfb" d="M144.6 198.7h0M152.0 226.7h0M229.2 335.0h0M149.9 209.2h0M136.3 93.0h0M121.9 41.0h0M193.8 319.1h0M161.0 232.7h0M143.0 197.1h0M151.8 218.4h0M258.5 369.6h0M202.9 345.7h0M280.9 341.3h0M121.9 156.8h0M299.5 353.7h0M314.9 353.3h0M121.9 52.5h0M274.1 350.1h0"/>
<path stroke="#0083f8" d="M126.1 59.1h0M241.4 348.7h0M154.6 153.6h0M168.9 269.3h0M131.6 59.7h0M164.2 256.0h0M173.6 292.4h0M127.8 71.9h0M270.3 357.9h0M191.0 286.1h0M188.9 341.0h0M182.7 311.1h0M135.2 80.0h0M287.4 335.2h0M165.0 276.0h0M148.7 118.1h0M121.9 50.4h0M132.4 71.7h0M258.4 330.4h0M140.7 182.4h0M140.4 83.2h0M121.9 102.2h0M216.2 356.6h0M201.2 330.0h0M138.0 90.5h0M187.9 324.8h0"/>
<path stroke="#007bf5" d="M144.1 197.6h0M153.7 160.9h0M138.2 157.5h0M197.0 322.3h0M155.1 233.3h0M140.9 84.3h0M123.6 83.3h0M143.6 214.3h0M143.1 77.1h0M121.9 74.6h0M151.5 236.9h0M259.3 370.2h0M150.0 138.2h0M155.5 200.9h0M131.0 40.0h0M133.1 81.3h0M128.6 39.0h0M258.7 327.6h0M258.0 328.1h0M223.8 303.8h0M176.8 270.0h0M221.7 310.8h0M255.5 366.5h0M179.0 311.8h0"/>
<path stroke="#0073ef" d="M302.5 328.8h0M184.8 315.7h0M225.6 364.3h0M147.7 208.9h0M202.9 354.6h0M281.8 363.8h0M261.3 348.9h0M164.8 258.4h0M133.4 148.7h0M157.6 249.4h0M130.6 115.4h0M314.4 358.3h0M151.7 232.9h0M121.9 136.2h0M159.5 242.0h0M136.5 87.3h0M134.3 121.0h0M167.6 282.7h0M130.9 140.8h0M137.7 54.9h0M146.4 217.1h0M132.1 68.5h0M142.8 196.0h0M161.1 186.7h0M130.7 90.5h0M149.2 180.7h0M172.8 271.1h0M158.0 228.9h0"/>
<path stroke="#2f6ae9" d="M126.2 112.0h0M134.3 62.9h0M158.3 194.9h0M192.9 343.5h0M165.1 261.7h0M229.1 330.2h0M238.9 338.6h0M284.1 329.8h0M130.3 157.7h0M151.0 202.5h0M141.5 140.7h0M135.2 82.2h0M271.5 358.3h0M174.4 228.1h0M121.9 114.9h0M194.5 320.3h0M186.8 297.8h0M144.4 176.6h0M277.2 357.3h0M196.0 303.9h0M201.8 337.9h0M259.6 348.1h0"/>
<path stroke="#5261e1" d="M183.4 276.8h0M187.7 272.7h0M272.3 327.0h0M186.8 306.2h0M134.8 83.2h0M194.3 302.8h0M155.8 237.0h0M126.7 83.1h0M278.9 325.4h0M256.0 326.8h0M216.5 322.6h0M266.7 358.2h0M178.5 265.3h0M309.8 355.6h0M229.2 311.2h0M295.0 358.3h0M316.1 360.7h0M313.1 330.6h0M137.8 57.2h0"/>
<path stroke="#6956d7" d="M209.9 332.9h0M128.5 128.7h0M207.8 311.3h0M257.3 364.5h0M136.0 109.0h0M265.8 352.5h0M151.9 178.4h0M237.1 330.5h0M191.5 292.3h0M147.1 155.2h0M132.3 133.0h0M130.0 71.4h0M238.6 371.9h0M132.1 80.7h0M134.8 86.2h0M259.8 370.1h0M257.2 364.3h0M163.7 215.2h0M225.6 349.0h0"/>
<path stroke="#7b4acd" d="M145.9 122.5h0M183.2 279.5h0M138.1 136.4h0M232.2 352.3h0M220.8 329.8h0M283.1 354.5h0M218.0 336.8h0M183.2 324.1h0M183.8 266.5h0M173.9 261.1h0M160.1 177.8h0M292.7 366.3h0M171.6 245.7h0M248.2 343.3h0M317.4 353.6h0M141.0 66.3h0M226.2 362.9h0M254.2 324.1h0M203.6 324.9h0M183.2 290.8h0M184.3 337.3h0M275.3 337.6h0M240.8 366.6h0M151.6 148.5h0"/>
<path stroke="#8a3dc1" d="M276.2 340.2h0M121.9 84.5h0M209.5 346.9h0M202.6 358.0h0M121.9 91.0h0M178.9 240.4h0M316.8 352.5h0M282.8 364.1h0M125.2 90.6h0M248.4 364.2h0M201.6 310.8h0M238.4 316.9h0M340.2 342.8h0M240.1 340.6h0M233.1 360.2h0M135.8 138.4h0M137.0 140.4h0M213.3 331.9h0"/>
<path stroke="#962db4" d="M145.2 117.8h0M235.7 327.9h0M170.3 289.2h0M180.8 319.2h0M249.6 340.9h0M172.7 231.4h0M307.3 355.9h0M213.5 345.1h0M149.8 148.1h0M143.9 123.8h0M306.3 364.1h0M288.3 355.7h0M262.5 340.9h0M183.9 294.0h0M166.9 207.2h0M142.5 109.0h0M264.7 356.1h0M209.9 324.4h0M180.0 318.4h0M163.6 187.8h0M128.9 117.9h0M218.9 330.3h0M169.6 258.4h0M252.3 357.5h0"/>
<path stroke="#a41daa" d="M160.7 204.1h0M279.4 334.2h0M174.2 279.4h0M262.7 350.5h0M184.8 276.2h0M140.0 151.2h0M230.9 335.5h0M345.3 357.5h0M211.7 362.3h0M152.9 157.6h0M302.7 362.5h0M147.3 141.1h0M186.8 337.8h0M199.4 350.0h0"/>
<path stroke="#d10092" d="M307.7 328.5h0M143.8 169.1h0"/>
<path stroke="#dd0088" d="M148.5 136.6h0M142.2 173.7h0M154.1 160.9h0"/>
<path stroke="#e7007e" d="M168.7 231.5h0M135.7 144.0h0M172.8 244.4h0M303.2 362.0h0M170.6 238.1h0M233.6 337.1h0M366.3 347.7h0"/>
<path stroke="#f00073" d="M262.5 346.6h0M301.8 332.0h0M328.3 338.5h0M241.6 315.7h0M158.6 204.7h0"/>
<path stroke="#f80068" d="M201.0 358.2h0M365.9 347.8h0M334.6 337.9h0M141.0 131.1h0M190.4 279.4h0M328.8 345.6h0M147.9 206.3h0M173.2 235.7h0M224.8 303.5h0M224.0 306.3h0M295.1 347.0h0M174.2 228.6h0M206.3 291.4h0M292.4 343.0h0M193.1 268.8h0"/>
<path stroke="#fe005d" d="M283.2 353.2h0M174.0 246.6h0M153.4 168.3h0M291.7 332.7h0M288.8 362.3h0M169.9 224.4h0M316.5 337.5h0M276.6 352.1h0M271.7 326.3h0M212.0 305.3h0M309.9 344.9h0M276.9 346.7h0M285.3 335.7h0M251.9 325.3h0M278.3 366.0h0M197.3 261.1h0M281.1 352.1h0M192.3 259.9h0M199.7 265.3h0M340.2 345.5h0M336.7 339.3h0"/>
<path stroke="#ff0051" d="M259.9 334.0h0M308.5 351.4h0M229.2 339.7h0M296.6 365.8h0M244.3 357.9h0M283.2 337.7h0M252.9 344.4h0M194.4 260.0h0M168.3 233.6h0M220.9 318.4h0M121.9 159.2h0M224.5 311.2h0M243.8 310.9h0M220.7 305.1h0"/>
<path stroke="#008bfb" d="M142.9 146.5h0M139.0 121.5h0M180.7 317.1h0M166.1 276.1h0M138.2 122.1h0M134.2 159.5h0M121.9 133.0h0M145.6 208.6h0M173.3 287.5h0"/>
<path stroke="#0083f8" d="M225.7 359.2h0M243.2 366.8h0M142.5 143.6h0M141.4 172.7h0M161.8 259.0h0M157.9 234.7h0M177.9 302.9h0M207.9 363.8h0M139.7 167.6h0M230.8 354.5h0M284.0 326.0h0M273.1 368.7h0M202.9 315.2h0M227.0 339.1h0M173.1 288.8h0M196.4 321.3h0M168.6 261.7h0M180.0 321.7h0M166.7 261.6h0M175.5 274.6h0M121.9 140.7h0M165.1 276.1h0"/>
<path stroke="#007bf5" d="M151.5 140.1h0M250.4 373.9h0M277.9 327.8h0M125.3 68.5h0M322.1 360.5h0M152.0 236.0h0M176.8 292.9h0M149.5 197.7h0M231.5 328.3h0M180.0 291.0h0M190.1 319.8h0M151.8 140.9h0M133.5 42.7h0M143.6 139.3h0M145.0 194.2h0M176.3 272.2h0M153.4 215.6h0M123.4 115.8h0M152.3 236.5h0M157.7 227.4h0M177.6 315.9h0"/>
<path stroke="#0073ef" d="M302.2 327.6h0M263.8 327.0h0M134.8 40.3h0M321.4 355.6h0M147.3 221.6h0M126.4 111.4h0M148.0 169.7h0M121.9 50.6h0M183.8 306.4h0M137.0 78.5h0M162.6 258.1h0M256.0 323.9h0M173.1 278.2h0M144.5 193.9h0M138.0 49.9h0M213.8 350.3h0M145.2 187.4h0M163.5 252.6h0M121.9 82.3h0M126.0 100.1h0M199.4 326.5h0M157.3 232.9h0M173.5 305.7h0M123.6 95.1h0M223.9 327.9h0M168.9 272.3h0"/>
<path stroke="#2f6ae9" d="M124.2 113.5h0M255.4 354.6h0M309.9 334.0h0M174.8 301.1h0M166.0 199.5h0M124.7 88.7h0M156.4 173.2h0M286.2 325.3h0M126.3 42.3h0M147.5 131.8h0M285.1 364.9h0M212.9 360.9h0M184.2 279.6h0M244.2 354.7h0M194.9 302.0h0M182.4 287.0h0M241.7 352.3h0M180.8 270.0h0M150.1 116.4h0M230.1 335.6h0M168.9 263.7h0M145.6 119.4h0M159.8 204.1h0M134.6 114.3h0M206.6 312.3h0M202.6 338.9h0M164.7 235.5h0M185.1 286.0h0M218.1 348.0h0M190.1 334.9h0M151.9 174.7h0"/>
<path stroke="#5261e1" d="M225.3 330.3h0M185.3 324.7h0M128.4 62.9h0M209.8 321.7h0M135.1 123.3h0M137.1 131.0h0M248.2 368.5h0M205.5 334.4h0M121.9 80.5h0M124.9 93.6h0M135.9 97.2h0M138.6 88.7h0M121.9 138.4h0M235.0 369.1h0M172.8 250.2h0M178.2 288.7h0M210.8 315.7h0M206.2 352.4h0M242.0 347.3h0M248.4 362.7h0"/>
<path stroke="#6956d7" d="M223.8 343.7h0M155.5 191.8h0M319.8 362.7h0M127.6 107.8h0M200.3 319.1h0M131.6 85.7h0M151.4 178.0h0M155.9 174.1h0M348.5 335.9h0M185.2 304.5h0M162.8 218.4h0M290.3 350.9h0M130.5 113.4h0M286.7 354.5h0M216.4 325.2h0M320.5 338.0h0M169.0 239.5h0M132.2 124.6h0M133.2 148.9h0M161.1 201.2h0"/>
<path stroke="#7b4acd" d="M202.7 325.3h0M223.9 335.1h0M223.1 348.3h0M137.6 75.0h0M241.5 359.5h0M121.9 102.8h0M222.1 337.0h0M150.3 193.7h0M235.8 369.4h0M127.0 73.6h0M255.5 341.6h0M226.7 364.0h0M290.5 352.3h0M121.9 112.9h0M273.4 340.9h0M230.5 334.9h0M149.8 175.0h0M291.6 339.8h0M133.2 125.6h0M226.2 326.5h0M137.6 150.6h0M121.9 93.3h0M207.5 354.2h0M160.4 215.8h0M239.9 325.3h0M173.0 249.2h0M149.6 123.2h0"/>
<path stroke="#8a3dc1" d="M132.3 119.2h0M299.0 355.8h0M144.0 143.4h0M148.2 126.0h0M249.2 362.3h0M250.8 359.8h0M131.8 100.3h0M152.0 179.4h0M170.5 255.1h0M221.0 338.1h0M143.5 94.2h0M143.3 137.7h0M175.7 263.3h0M244.7 341.4h0M140.3 138.6h0"/>
<path stroke="#962db4" d="M276.3 328.5h0M169.8 233.8h0M185.4 287.6h0M158.0 183.7h0M227.3 361.7h0M250.7 314.4h0M138.9 143.0h0M147.7 195.7h0M299.1 348.7h0M145.7 109.4h0M210.6 332.2h0M140.1 120.9h0M178.4 236.1h0M169.2 241.1h0M316.3 358.8h0M283.9 350.8h0M305.4 359.8h0M190.6 289.4h0M287.4 363.5h0M158.5 207.6h0M244.5 341.2h0M204.7 328.4h0M197.5 348.4h0M217.8 322.8h0"/>
<path stroke="#a41daa" d="M231.1 337.4h0M121.9 153.1h0M287.7 348.6h0M247.4 319.5h0M231.9 372.2h0M151.2 224.7h0M170.0 253.1h0M167.2 217.5h0M234.7 344.8h0M184.1 268.2h0M263.3 351.6h0M168.5 246.1h0"/>
<path stroke="#d10092" d="M158.4 177.4h0"/>
<path stroke="#dd0088" d="M309.5 338.2h0M324.2 339.4h0M296.3 325.0h0M163.3 203.2h0M263.7 351.5h0"/>
<path stroke="#e7007e" d="M128.9 126.0h0M247.8 326.3h0M291.5 342.6h0M165.7 211.6h0"/>
<path stroke="#f00073" d="M160.5 219.1h0M207.9 363.3h0M244.5 324.2h0M139.9 119.2h0M242.2 327.4h0M225.4 316.3h0M216.4 309.3h0M263.7 322.3h0M242.7 374.4h0"/>
<path stroke="#f80068" d="M296.2 334.8h0M251.8 354.8h0M275.2 351.6h0M250.5 320.3h0M203.9 280.7h0M297.3 332.8h0M149.7 139.5h0M295.6 359.6h0M268.4 348.8h0M326.4 335.3h0M154.6 188.7h0M186.7 254.6h0M269.9 331.1h0M341.4 334.4h0M319.8 342.8h0M194.0 270.9h0"/>
<path stroke="#fe005d" d="M196.7 264.4h0M260.0 327.9h0M180.5 248.0h0M299.6 319.1h0M293.5 337.5h0M303.5 329.7h0M282.2 344.7h0M245.3 324.4h0M168.3 219.8h0M199.6 294.2h0M229.2 306.4h0M283.7 358.3h0M173.3 226.1h0M186.6 256.0h0M246.4 322.0h0M301.9 337.7h0M341.9 345.5h0M327.1 334.1h0M189.7 258.1h0M198.7 293.9h0M227.2 313.3h0M324.2 360.2h0M292.5 350.8h0M280.1 345.3h0M263.6 359.8h0M284.5 336.8h0M220.5 357.6h0"/>
<path stroke="#ff0051" d="M279.9 345.2h0M267.6 333.7h0M303.8 334.0h0M250.5 358.1h0M182.7 247.5h0M208.7 294.3h0M310.4 333.2h0M185.8 261.6h0M271.2 325.3h0M319.0 344.6h0M261.2 327.3h0M331.6 357.9h0M238.7 324.0h0M309.1 342.2h0"/>
<path stroke="#008bfb" d="M177.9 276.9h0M138.1 61.0h0M156.7 238.5h0M164.2 239.8h0M136.8 62.1h0M223.5 352.5h0M165.8 270.8h0M163.8 251.8h0M139.5 161.4h0M152.0 207.5h0M155.0 236.0h0M156.8 248.7h0"/>
<path stroke="#0083f8" d="M159.1 233.0h0M214.0 360.8h0M131.3 159.5h0M155.1 229.1h0M128.1 119.4h0M155.4 229.9h0M147.5 225.4h0M121.9 149.9h0M157.5 240.3h0M179.1 306.9h0M136.2 152.3h0M144.1 174.0h0M215.9 352.5h0M163.6 255.0h0M146.2 100.1h0M140.3 139.4h0"/>
<path stroke="#007bf5" d="M153.0 140.1h0M124.9 51.8h0M274.4 330.7h0M150.1 121.8h0M121.9 163.0h0M146.0 194.9h0M159.0 181.2h0M124.1 108.4h0M140.9 176.2h0M247.2 328.7h0M167.2 268.1h0M169.4 242.6h0M121.9 68.6h0M131.3 79.1h0M121.9 65.5h0M163.5 246.3h0M150.8 219.2h0M162.6 262.8h0M142.5 195.4h0M164.2 264.9h0M178.2 294.4h0M167.3 279.7h0M121.9 94.2h0M126.5 66.9h0M136.4 169.4h0M179.7 285.8h0M162.3 266.1h0M196.5 352.4h0M134.7 66.8h0"/>
<path stroke="#0073ef" d="M140.6 193.3h0M143.5 214.3h0M141.5 170.6h0M143.5 120.6h0M169.6 266.1h0M149.9 216.4h0M303.9 356.9h0M145.1 181.5h0M134.9 72.6h0M264.8 356.0h0M149.0 116.0h0M135.0 103.6h0M233.4 346.9h0M174.8 273.5h0M130.6 111.0h0M209.5 363.0h0M142.4 134.7h0M144.1 170.5h0M129.3 58.1h0M218.7 307.4h0M296.5 337.4h0M179.2 297.4h0M153.3 231.8h0M124.9 48.7h0M199.0 303.1h0M132.1 42.8h0M141.9 187.3h0M168.5 268.0h0M167.1 245.5h0"/>
<path stroke="#2f6ae9" d="M313.5 356.8h0M150.1 135.6h0M250.4 326.7h0M181.9 282.0h0M165.2 253.7h0M242.8 363.5h0M189.1 339.4h0M241.8 332.2h0M295.7 358.9h0M191.0 317.3h0M197.0 267.6h0M241.3 362.2h0M208.0 317.4h0M137.2 141.2h0M156.0 209.9h0M147.9 195.4h0M216.1 346.5h0M150.1 225.0h0M301.9 359.2h0M188.7 319.7h0M148.3 228.6h0M142.1 158.9h0M251.3 365.5h0M152.4 193.3h0M180.2 262.9h0"/>
<path stroke="#5261e1" d="M299.5 359.9h0M288.0 335.0h0M168.2 243.6h0M248.7 351.7h0M205.2 315.4h0M186.4 284.3h0M231.7 350.5h0M189.7 283.2h0M181.0 283.2h0M288.8 364.4h0M256.6 365.7h0M225.6 322.5h0M181.3 276.9h0M307.7 348.3h0M298.7 360.7h0M134.5 147.9h0M183.3 276.9h0M243.7 356.5h0M159.9 220.0h0M247.2 331.7h0M252.4 348.5h0"/>
<path stroke="#6956d7" d="M135.6 161.8h0M140.5 95.4h0M205.3 345.1h0M298.4 334.5h0M141.7 154.4h0M217.6 357.7h0M270.6 356.9h0M141.9 148.5h0M194.6 307.8h0M147.5 170.8h0M218.1 334.7h0M252.7 321.7h0M267.4 347.2h0M243.9 373.4h0M180.3 272.7h0M160.7 212.6h0M189.9 339.3h0"/>
<path stroke="#7b4acd" d="M198.1 262.8h0M199.2 309.8h0M133.7 49.7h0M215.8 325.8h0M331.8 361.9h0M207.8 325.5h0M229.7 354.5h0M162.7 229.2h0M171.9 259.5h0M140.1 84.1h0M236.4 314.7h0M189.7 335.9h0M187.0 294.7h0M145.1 97.7h0M150.4 136.9h0M150.0 164.6h0M132.6 157.6h0M182.3 276.7h0M204.7 336.2h0M206.2 326.2h0"/>
<path stroke="#8a3dc1" d="M291.9 349.9h0M152.2 161.6h0M128.2 124.0h0M299.7 362.8h0M136.7 140.7h0M173.2 296.0h0M131.2 151.9h0M133.6 122.0h0M137.5 93.0h0M292.5 341.9h0M195.6 308.2h0M262.3 361.4h0M283.9 358.5h0M148.3 192.3h0M185.1 291.9h0M146.0 94.9h0M200.4 350.8h0M193.0 335.8h0M254.7 370.0h0M203.8 361.1h0M139.6 94.6h0"/>
<path stroke="#962db4" d="M140.0 124.2h0M249.7 343.8h0M229.9 334.0h0M150.9 145.1h0M253.5 368.2h0M225.8 355.4h0M172.4 248.5h0M202.1 332.3h0M328.7 357.0h0M291.3 357.6h0M160.3 183.2h0M263.6 357.7h0M237.6 359.6h0M197.0 314.7h0M259.7 349.9h0M188.7 284.4h0M236.7 348.2h0M197.6 314.4h0"/>
<path stroke="#a41daa" d="M159.5 231.5h0M340.8 359.9h0M282.9 365.6h0M292.6 335.2h0M278.3 335.2h0M233.7 341.2h0M197.5 338.2h0M160.2 197.6h0M139.3 160.9h0M283.5 361.3h0M198.4 340.1h0M303.8 350.0h0"/>
<path stroke="#b408a3" d="M160.2 194.5h0"/>
<path stroke="#d10092" d="M325.5 346.9h0M280.0 346.4h0M143.3 183.5h0"/>
<path stroke="#dd0088" d="M169.9 225.9h0M219.2 313.1h0"/>
<path stroke="#e7007e" d="M190.8 269.3h0M221.4 316.0h0M285.1 341.5h0M348.7 335.9h0M170.2 211.0h0"/>
<path stroke="#f00073" d="M196.0 291.3h0M172.2 235.4h0M293.4 329.5h0M221.8 312.8h0M129.4 133.4h0M272.2 340.9h0M315.5 340.0h0"/>
<path stroke="#f80068" d="M243.7 323.9h0M137.2 147.1h0M265.0 325.4h0M323.6 340.9h0M154.4 204.9h0M336.0 342.3h0M246.6 328.4h0M266.8 339.8h0M230.7 314.1h0M284.2 360.9h0M165.6 203.7h0M161.6 198.8h0M304.5 350.0h0"/>
<path stroke="#fe005d" d="M231.1 311.5h0M258.1 317.9h0M188.6 255.4h0M178.7 250.5h0M322.0 339.5h0M198.4 267.1h0M249.6 331.8h0M264.7 339.7h0M143.9 195.2h0M273.4 349.5h0M209.6 319.5h0M175.3 242.8h0M263.5 332.6h0M279.5 329.7h0M338.7 348.5h0M180.0 239.3h0M331.4 331.8h0M180.6 251.5h0M308.0 345.7h0M221.7 321.3h0M247.5 317.6h0M316.9 350.4h0M206.2 356.0h0M204.7 302.1h0"/>
<path stroke="#ff0051" d="M271.3 325.0h0M202.8 276.2h0M304.7 336.0h0M210.2 307.1h0M225.9 306.1h0M151.5 130.5h0M172.4 238.6h0M177.8 236.4h0M345.9 355.4h0M206.0 292.4h0M266.7 329.5h0M305.0 354.3h0M288.7 331.0h0M180.6 245.3h0M211.3 308.3h0M286.6 327.3h0M240.6 317.7h0M221.3 306.0h0M215.5 348.2h0M276.0 336.1h0M171.5 223.3h0M294.4 355.2h0M367.3 346.3h0M253.1 323.1h0M197.4 295.6h0M202.5 306.5h0M251.6 352.3h0M244.4 324.7h0"/>
<path stroke="#008bfb" d="M323.7 337.5h0M238.9 353.7h0M161.0 238.8h0M185.7 291.9h0M161.6 241.0h0M289.1 326.3h0M128.5 52.6h0M138.1 114.8h0M125.3 59.8h0M135.1 159.6h0M175.2 289.8h0M135.2 80.4h0M131.4 39.2h0"/>
<path stroke="#0083f8" d="M143.0 193.2h0M175.4 268.5h0M255.9 361.4h0M245.0 332.4h0M230.4 371.4h0M245.7 331.9h0M146.6 164.6h0M259.0 347.6h0M141.1 83.4h0M130.6 61.4h0M315.7 332.3h0M312.9 338.6h0M328.0 332.8h0M225.9 326.9h0M282.7 360.6h0M156.4 219.0h0M147.9 187.3h0M121.9 55.5h0M129.5 45.5h0M144.2 164.9h0M173.3 277.4h0M286.4 354.5h0M121.9 79.2h0M175.0 284.4h0M168.1 270.2h0M201.6 277.5h0M185.7 262.4h0M125.9 56.6h0M121.9 81.6h0M248.1 313.7h0M139.2 122.5h0M121.9 67.7h0"/>
<path stroke="#007bf5" d="M124.7 48.3h0M158.6 247.4h0M173.4 292.1h0M129.6 135.8h0M151.9 227.6h0M209.1 339.1h0M165.0 277.4h0M143.1 101.7h0M210.7 357.0h0M149.4 121.9h0M167.5 283.6h0M156.4 248.5h0M164.2 245.5h0M132.1 73.0h0M129.3 106.4h0M159.7 250.8h0M177.8 315.2h0M200.2 337.5h0M159.8 181.9h0M130.3 103.8h0M198.2 297.4h0M247.1 334.2h0M153.2 226.9h0M179.1 298.1h0M173.6 289.2h0M173.9 299.0h0M146.7 195.8h0M236.5 365.4h0M252.0 327.4h0M129.7 151.1h0M223.7 365.2h0M152.0 226.6h0M165.6 258.5h0"/>
<path stroke="#0073ef" d="M160.3 235.1h0M280.5 358.9h0M193.9 342.7h0M161.6 238.8h0M231.9 340.3h0M139.4 159.0h0M160.9 249.0h0M123.8 114.2h0M184.6 329.4h0M167.1 280.7h0M199.6 353.6h0M132.1 65.4h0M125.7 38.7h0M285.8 329.1h0M193.7 336.2h0M211.8 357.8h0M173.9 268.5h0M197.1 326.4h0M209.3 311.8h0"/>
<path stroke="#2f6ae9" d="M128.8 123.4h0M126.6 67.2h0M228.5 351.4h0M130.2 60.5h0M224.8 348.0h0M183.5 270.6h0M147.4 168.1h0M237.6 335.1h0M172.3 269.0h0M233.4 338.8h0M182.3 318.4h0M138.5 72.7h0M213.6 351.2h0M124.5 59.7h0M251.6 359.3h0M158.4 216.7h0M281.0 351.5h0M224.1 358.4h0M125.9 67.3h0M221.0 334.9h0M131.7 74.2h0M188.2 341.8h0M172.3 235.1h0M121.9 127.0h0M326.7 350.3h0M215.8 321.4h0M194.2 342.0h0"/>
<path stroke="#5261e1" d="M316.4 350.8h0M159.2 189.3h0M138.3 121.5h0M169.1 212.4h0M250.3 350.4h0M188.8 282.1h0M137.8 111.7h0M241.6 344.5h0M226.3 335.1h0M318.2 355.5h0M131.3 153.8h0M142.6 129.0h0M151.7 191.5h0M201.1 332.0h0M197.3 292.9h0M196.9 316.4h0M142.0 164.2h0M325.5 358.4h0M167.3 235.6h0M240.9 344.5h0M173.8 265.6h0M252.8 369.2h0M238.4 347.0h0M139.1 120.1h0M244.6 336.0h0"/>
<path stroke="#6956d7" d="M175.3 254.1h0M158.1 229.4h0M250.0 362.1h0M151.6 162.6h0M177.1 295.1h0M124.5 108.3h0M252.3 351.1h0M220.9 330.3h0M127.1 97.7h0M147.5 139.3h0M180.7 264.0h0M133.7 121.4h0M162.9 220.4h0M142.7 131.8h0M160.3 207.3h0M175.6 303.6h0"/>
<path stroke="#7b4acd" d="M129.6 153.3h0M289.5 355.3h0M206.1 319.5h0M224.5 370.2h0M144.2 173.9h0M171.9 241.1h0M126.7 104.8h0M224.7 367.5h0M151.5 174.9h0M310.8 348.4h0M245.2 369.1h0M160.6 197.1h0M208.2 314.7h0M121.9 88.0h0M191.4 278.5h0M193.1 307.6h0M143.5 164.6h0M164.7 229.4h0M213.2 336.8h0M314.3 351.7h0M218.5 331.0h0"/>
<path stroke="#8a3dc1" d="M138.3 76.2h0M245.2 355.0h0M142.7 100.8h0M163.1 220.0h0M261.3 359.0h0M149.0 132.2h0M259.9 331.5h0M240.4 326.1h0M168.6 244.4h0M222.0 365.4h0M146.7 96.5h0M140.4 81.2h0M168.6 247.4h0M179.1 258.4h0"/>
<path stroke="#962db4" d="M182.5 248.2h0M279.3 363.6h0M153.7 151.9h0M187.6 291.4h0M214.0 320.1h0M160.7 207.3h0M341.6 358.2h0M121.9 140.0h0M137.7 123.2h0M198.3 327.8h0M336.9 351.3h0M201.1 300.5h0M274.5 366.8h0M173.8 263.0h0M149.0 207.3h0M164.9 240.3h0"/>
<path stroke="#a41daa" d="M266.0 363.9h0M188.6 340.8h0M231.3 360.9h0M214.0 327.0h0M320.7 347.7h0M266.1 367.2h0M217.8 347.9h0M138.2 164.4h0M270.8 335.9h0M300.7 326.9h0M213.7 341.5h0M329.0 355.3h0"/>
<path stroke="#dd0088" d="M294.7 344.6h0M213.5 303.7h0"/>
<path stroke="#e7007e" d="M121.9 102.0h0M267.8 333.9h0M265.4 341.3h0M269.4 350.1h0M332.2 332.6h0M229.6 309.6h0M283.4 328.3h0"/>
<path stroke="#f00073" d="M265.7 354.6h0M240.7 313.4h0M168.0 198.0h0M172.9 220.2h0M244.0 335.2h0M215.2 310.0h0M271.9 329.7h0M164.8 208.6h0M344.1 354.1h0M288.8 345.3h0M142.8 155.5h0M293.9 334.6h0M290.8 353.6h0"/>
<path stroke="#f80068" d="M244.8 320.7h0M309.0 340.6h0M256.4 339.3h0M241.5 316.9h0M165.3 222.6h0M335.8 348.1h0M222.9 314.1h0M231.8 321.0h0M161.7 186.9h0M314.8 347.8h0M308.2 337.2h0M186.2 252.5h0M252.8 343.5h0M352.5 350.2h0M322.6 344.4h0"/>
<path stroke="#fe005d" d="M187.1 263.0h0M163.2 201.4h0M296.6 335.3h0M310.1 349.1h0M211.9 300.0h0M247.0 329.1h0M247.9 343.1h0M327.0 336.7h0M326.2 340.8h0M322.4 344.8h0M121.9 95.2h0M220.7 309.6h0M194.5 268.5h0M178.7 254.5h0M277.7 336.5h0M261.0 362.3h0M195.4 273.4h0M273.0 347.9h0M314.5 337.6h0M315.4 335.7h0M205.9 301.4h0"/>
<path stroke="#ff0051" d="M130.2 119.6h0M254.9 327.7h0M149.1 163.8h0M302.8 334.0h0M320.3 350.1h0M266.3 346.1h0M325.5 358.4h0M280.0 333.5h0M143.8 126.7h0M169.3 233.4h0M192.3 273.0h0M279.0 351.9h0M202.5 270.8h0M222.8 309.5h0M284.8 362.9h0M303.2 329.4h0M295.8 344.2h0"/>
<path stroke="#008bfb" d="M155.5 236.8h0M160.7 260.0h0M152.9 212.6h0M345.6 342.1h0M131.4 124.3h0M268.6 337.7h0M134.2 51.8h0M343.0 343.8h0M174.1 276.3h0M266.3 330.0h0"/>
<path stroke="#0083f8" d="M329.4 351.3h0M148.6 190.3h0M307.0 330.0h0M131.4 69.0h0M215.6 343.0h0M121.9 74.4h0M155.3 166.9h0M157.6 221.8h0M135.9 95.1h0M125.1 40.4h0M149.8 122.1h0M189.3 314.2h0M171.4 266.8h0M195.4 316.0h0M121.9 61.7h0M211.6 364.5h0M225.8 344.4h0M135.7 111.5h0M225.6 319.3h0M312.1 325.8h0M220.1 317.5h0M121.9 32.5h0M277.9 352.9h0M162.5 266.6h0"/>
<path stroke="#007bf5" d="M185.5 301.9h0M307.9 331.5h0M182.1 280.9h0M155.3 241.4h0M246.9 354.8h0M201.5 325.3h0M174.6 282.1h0M142.6 169.6h0M147.0 191.5h0M135.7 73.0h0M178.4 293.6h0M268.6 328.0h0M169.0 259.4h0M191.1 338.1h0M161.0 249.1h0M170.0 278.5h0M301.7 327.9h0M224.6 350.6h0M187.9 320.4h0M142.8 180.4h0M265.3 355.5h0M133.9 85.4h0M135.7 112.6h0M124.2 92.8h0M205.8 353.8h0M127.2 89.6h0M167.4 230.2h0M131.0 66.5h0M153.7 191.8h0M228.1 356.7h0M126.3 106.8h0M149.3 156.7h0"/>
<path stroke="#0073ef" d="M160.2 226.6h0M213.6 351.4h0M169.0 279.2h0M303.7 333.2h0M297.0 325.2h0M266.5 356.8h0M156.6 162.3h0M271.5 367.6h0M144.0 187.2h0M142.3 184.9h0M157.7 247.6h0M154.7 234.9h0M282.1 351.8h0M131.9 61.5h0M324.8 336.1h0M252.9 364.2h0M135.8 40.7h0M203.3 309.7h0M168.7 255.8h0M273.5 329.5h0M219.0 351.9h0M136.1 53.6h0M135.1 103.1h0M149.9 193.8h0M128.7 126.5h0M226.5 305.9h0M144.5 213.3h0M167.5 267.3h0M129.1 63.5h0M132.3 101.1h0"/>
<path stroke="#2f6ae9" d="M133.0 92.5h0M332.9 344.0h0M152.5 216.7h0M169.8 246.8h0M259.1 339.8h0M266.1 352.9h0M211.0 356.8h0M239.9 371.5h0M233.8 366.8h0M214.5 364.6h0M275.7 342.5h0M145.6 189.8h0M142.1 134.8h0M145.2 104.5h0M143.5 188.7h0M223.3 353.6h0M291.3 357.0h0M151.6 207.1h0M288.9 354.4h0M143.8 103.1h0M141.8 165.2h0M331.6 356.6h0M139.4 167.2h0M173.7 233.0h0M321.5 360.7h0"/>
<path stroke="#5261e1" d="M304.5 355.5h0M307.5 362.2h0M194.4 321.4h0M228.2 344.3h0M282.5 343.9h0M319.4 348.4h0M150.3 143.2h0M161.6 250.9h0M200.9 314.4h0M183.4 269.8h0M265.3 349.8h0M189.1 280.3h0M138.1 174.7h0M269.1 358.0h0M239.8 336.9h0M227.3 335.3h0M166.4 241.0h0"/>
<path stroke="#6956d7" d="M213.7 324.9h0M284.4 363.6h0M157.5 213.6h0M183.9 285.3h0M135.8 91.7h0M121.9 92.1h0M262.9 362.6h0M248.2 344.8h0M148.4 125.7h0M144.2 213.0h0M225.8 342.6h0M132.6 164.8h0M182.3 314.1h0M241.9 360.5h0M167.1 234.6h0M254.2 362.2h0"/>
<path stroke="#7b4acd" d="M146.6 104.8h0M292.9 359.8h0M121.9 77.7h0M199.5 339.8h0M189.1 324.4h0M248.4 317.1h0M186.7 277.9h0M160.4 232.0h0M249.7 372.4h0M217.2 350.9h0M275.1 328.3h0M247.2 353.5h0M191.9 296.6h0M147.8 139.5h0M231.7 326.2h0M152.8 163.9h0M255.6 368.1h0M195.1 309.4h0M155.0 211.0h0M157.7 169.2h0M196.9 297.1h0M207.0 351.6h0M187.7 333.7h0M289.3 355.7h0M208.4 341.5h0"/>
<path stroke="#8a3dc1" d="M202.4 319.4h0M335.2 343.7h0M138.6 119.7h0M149.3 147.2h0M143.3 115.4h0M210.4 356.4h0M177.5 272.1h0M240.8 369.7h0M213.2 350.0h0M310.7 349.6h0M234.6 331.8h0M153.3 194.0h0M211.9 365.4h0M220.2 341.6h0"/>
<path stroke="#962db4" d="M180.6 269.8h0M191.2 299.8h0M164.4 206.9h0M142.0 147.4h0M140.0 151.8h0M168.2 273.6h0M159.5 222.7h0M326.2 359.6h0M188.9 281.9h0M200.5 351.5h0M206.5 317.4h0M185.7 280.9h0M129.7 144.8h0M196.8 317.8h0M183.5 269.6h0M187.9 299.5h0M142.1 148.3h0M224.6 338.4h0M233.5 353.7h0"/>
<path stroke="#a41daa" d="M189.4 308.4h0M213.6 343.4h0M222.3 323.8h0M322.6 347.3h0M241.3 352.2h0M319.1 351.9h0M218.8 342.3h0M191.2 314.9h0M201.7 323.3h0M195.3 308.7h0M190.8 280.8h0M215.9 319.1h0M181.2 282.5h0M183.3 276.3h0M221.0 343.9h0M219.1 331.7h0M227.5 342.7h0M225.2 313.2h0M220.3 367.8h0"/>
<path stroke="#b408a3" d="M152.5 199.7h0"/>
<path stroke="#c3009b" d="M121.9 130.2h0"/>
<path stroke="#dd0088" d="M206.6 297.5h0M150.1 142.7h0M150.1 128.1h0"/>
<path stroke="#e7007e" d="M125.6 122.4h0M310.3 350.5h0M198.9 286.3h0M167.9 199.9h0M124.1 89.9h0M167.4 219.1h0M159.9 202.9h0"/>
<path stroke="#f00073" d="M164.2 194.2h0M203.8 289.6h0M154.7 174.6h0M149.4 165.8h0M174.2 233.0h0M209.4 304.7h0M296.5 364.3h0M263.2 357.8h0M151.4 180.1h0M187.9 261.3h0"/>
<path stroke="#f80068" d="M314.7 347.2h0M164.6 198.6h0M256.4 326.8h0M165.6 202.3h0M334.6 354.5h0M349.6 350.6h0M164.8 204.8h0M158.3 194.3h0M275.3 331.3h0M204.1 332.8h0M279.3 343.4h0M220.8 301.0h0M301.1 329.5h0"/>
<path stroke="#fe005d" d="M312.7 341.6h0M289.4 331.0h0M229.2 312.3h0M258.0 331.8h0M296.2 337.3h0M177.8 243.4h0M210.5 305.7h0M190.0 272.7h0M254.7 329.8h0M264.5 347.6h0M137.0 162.1h0M215.0 301.8h0M280.7 336.7h0M183.7 249.9h0M255.1 331.6h0M222.8 299.4h0M237.8 329.9h0M246.7 326.2h0M168.5 196.5h0M291.2 343.6h0"/>
<path stroke="#ff0051" d="M266.3 364.0h0M307.2 339.7h0M198.2 284.4h0M285.4 331.5h0M197.0 289.8h0M280.4 342.6h0M193.4 283.5h0M209.8 299.9h0M215.0 308.9h0M283.3 343.9h0M231.9 338.9h0M314.8 340.8h0M226.0 311.7h0M283.7 355.7h0M321.7 361.3h0M192.5 281.4h0M229.3 320.2h0"/>
<path stroke="#008bfb" d="M149.8 192.1h0M213.9 359.3h0M133.5 50.3h0M125.4 53.6h0M129.4 60.3h0M143.7 157.1h0M193.6 313.6h0M144.6 207.5h0M178.2 314.5h0M174.3 282.6h0M191.3 331.3h0M157.0 244.8h0M244.7 321.4h0M244.2 334.5h0M121.9 37.4h0M121.9 111.2h0M129.5 89.2h0"/>
<path stroke="#0083f8" d="M287.8 325.5h0M286.8 343.9h0M135.7 121.7h0M162.6 257.1h0M124.6 76.6h0M152.6 161.6h0M130.0 102.3h0M131.6 90.8h0M331.6 361.9h0M173.9 268.3h0M176.1 280.3h0M150.6 201.3h0M221.7 356.6h0M314.8 342.9h0M141.4 73.8h0M172.9 285.9h0M167.2 280.6h0M323.1 340.2h0M172.7 291.6h0M221.9 344.6h0M138.3 135.5h0M121.9 48.6h0M166.4 279.0h0M139.4 84.3h0M160.6 249.9h0M229.8 313.1h0M134.0 55.5h0M171.1 267.6h0M291.1 326.5h0M148.0 183.6h0M138.4 135.4h0M331.8 343.7h0M143.0 103.5h0"/>
<path stroke="#007bf5" d="M184.5 323.2h0M241.1 366.3h0M121.9 65.7h0M126.2 51.3h0M257.4 352.6h0M243.5 321.3h0M145.8 115.0h0M255.3 356.4h0M212.4 340.0h0M137.8 103.5h0M178.9 305.8h0M129.7 46.8h0M121.9 114.9h0M142.4 194.8h0M157.6 228.5h0M196.2 319.0h0"/>
<path stroke="#0073ef" d="M155.2 245.1h0M160.0 227.4h0M261.5 357.2h0M160.3 181.8h0M289.1 352.6h0M125.5 77.5h0M303.6 332.6h0M271.9 327.9h0M155.0 167.7h0M205.6 297.7h0M145.3 160.5h0M177.3 315.2h0M292.1 360.8h0M121.9 69.8h0M121.9 50.7h0M155.6 241.3h0M126.1 48.9h0M129.3 74.8h0M265.1 352.3h0M252.6 318.2h0M154.0 219.3h0M130.2 80.1h0"/>
<path stroke="#2f6ae9" d="M210.0 339.1h0M317.1 336.2h0M183.8 287.5h0M223.8 345.5h0M268.7 344.8h0M326.9 356.2h0M218.3 364.6h0M172.8 295.1h0M189.6 290.1h0M158.3 214.9h0M242.6 341.3h0M229.8 359.1h0M132.3 156.5h0M150.0 183.5h0M134.0 68.7h0M222.6 335.0h0M219.1 361.4h0M137.7 70.5h0M302.7 358.8h0M301.8 360.0h0M313.7 362.5h0M203.7 338.3h0M221.7 339.2h0M127.7 133.5h0M231.0 342.9h0M228.6 345.1h0M209.7 347.0h0M160.1 225.5h0M265.9 368.0h0M273.0 345.0h0"/>
<path stroke="#5261e1" d="M235.9 364.9h0M187.8 299.2h0M124.5 88.5h0M192.5 308.1h0M183.5 306.0h0M162.4 266.9h0M316.4 345.6h0M121.9 109.4h0M253.6 351.5h0M256.7 368.4h0M190.7 273.6h0M198.6 346.8h0M284.3 358.0h0M205.2 351.9h0M137.9 167.4h0M196.1 306.3h0"/>
<path stroke="#6956d7" d="M157.0 216.0h0M222.3 338.7h0M144.6 110.7h0M167.0 227.5h0M182.1 262.9h0M169.7 272.8h0M240.3 343.5h0M249.4 337.9h0M147.4 131.9h0M274.1 335.3h0M279.9 350.2h0M144.9 164.4h0M133.3 126.0h0M200.2 311.7h0M126.2 105.5h0"/>
<path stroke="#7b4acd" d="M129.4 124.9h0M240.8 335.4h0M229.7 328.9h0M232.2 366.3h0M184.7 329.5h0M222.2 337.5h0M209.6 315.7h0M152.2 179.7h0M178.5 236.6h0M189.4 286.4h0M247.2 325.7h0M138.5 79.3h0M259.5 357.6h0M134.7 137.8h0M236.4 359.1h0M171.3 251.6h0M170.8 214.1h0M237.1 333.7h0M150.6 158.3h0"/>
<path stroke="#8a3dc1" d="M243.6 352.4h0M199.1 313.0h0M262.0 357.7h0M127.7 109.2h0M139.1 76.7h0M181.8 285.7h0M248.3 336.5h0M174.0 269.7h0M121.9 103.5h0M209.3 323.5h0M266.4 370.4h0M244.9 336.4h0M348.1 355.1h0M274.8 348.4h0M251.3 328.5h0M236.5 370.7h0M155.0 183.2h0"/>
<path stroke="#962db4" d="M176.9 256.5h0M236.5 338.0h0M229.6 333.2h0M173.2 221.3h0M295.5 366.5h0M169.4 250.0h0M174.8 258.3h0M166.3 230.3h0M234.3 369.8h0M242.5 334.8h0M321.9 357.0h0M295.7 334.5h0M189.1 293.3h0M248.4 339.1h0M204.6 343.0h0M190.4 315.2h0M170.7 215.6h0M191.3 299.3h0M270.1 365.8h0"/>
<path stroke="#a41daa" d="M181.6 262.1h0M212.9 346.2h0M170.3 285.3h0M198.2 309.5h0M163.2 200.2h0M263.9 337.8h0M201.0 306.7h0M151.0 193.1h0M262.9 334.4h0M159.2 201.8h0M221.1 365.1h0M227.5 344.6h0M260.5 368.4h0M262.0 338.5h0"/>
<path stroke="#d10092" d="M154.0 177.7h0M121.9 110.9h0"/>
<path stroke="#dd0088" d="M163.6 212.6h0M317.7 331.6h0M314.1 357.5h0M165.8 214.2h0M152.7 170.2h0"/>
<path stroke="#e7007e" d="M237.9 317.7h0M132.1 159.4h0M157.2 175.7h0M335.0 334.7h0M168.4 214.0h0M157.8 170.0h0M304.3 353.4h0M284.1 339.6h0"/>
<path stroke="#f00073" d="M217.5 306.2h0M328.3 346.7h0M199.4 286.0h0M218.8 305.8h0M168.1 218.0h0M154.7 178.2h0M264.5 344.0h0M309.3 333.0h0M203.1 347.2h0M315.4 332.7h0M219.8 312.0h0"/>
<path stroke="#f80068" d="M337.5 346.4h0M318.9 349.3h0M149.3 158.6h0M296.0 341.7h0M203.4 288.6h0M355.4 355.0h0M195.8 289.6h0M300.1 349.5h0M182.8 255.5h0M146.3 109.9h0M294.2 328.6h0M259.3 357.9h0M302.0 335.7h0M203.5 295.8h0M201.6 291.9h0M233.7 317.1h0M229.9 308.9h0M342.0 351.5h0M242.7 322.7h0M341.7 348.1h0"/>
<path stroke="#fe005d" d="M339.2 357.9h0M323.8 351.9h0M265.0 365.0h0M200.2 290.1h0M322.1 335.4h0M271.4 327.6h0M251.0 327.3h0M205.0 297.8h0M261.8 347.7h0M154.1 146.7h0M177.5 246.4h0M303.7 338.8h0M196.3 294.4h0M211.8 299.7h0M295.6 355.5h0M246.3 312.9h0M210.9 304.0h0M211.9 311.3h0M148.8 117.6h0M174.7 248.7h0M242.4 364.7h0M318.0 335.8h0M294.5 340.1h0M181.8 260.0h0M288.8 358.3h0M220.1 313.1h0M257.7 341.2h0"/>
<path stroke="#ff0051" d="M235.3 315.2h0M202.8 289.9h0M170.7 221.7h0M256.2 321.4h0M188.1 254.0h0M287.2 336.8h0M152.3 171.4h0M195.0 258.8h0M297.6 345.9h0M345.2 353.7h0M217.3 328.9h0M200.5 299.5h0"/>
<path stroke="#008bfb" d="M121.9 116.7h0M144.8 93.9h0M121.9 74.2h0M162.4 263.8h0M155.3 235.6h0M128.5 136.6h0M142.4 182.5h0M150.9 199.9h0M235.2 373.4h0M134.8 173.8h0M178.5 286.4h0"/>
<path stroke="#0083f8" d="M136.8 173.3h0M151.1 207.0h0M156.6 234.6h0M159.3 215.0h0M142.1 193.8h0M282.8 359.6h0M135.4 67.8h0M141.1 169.1h0M190.9 342.8h0M132.8 143.4h0M132.1 37.8h0M192.3 314.7h0M130.0 97.7h0M227.4 343.3h0M161.8 244.6h0M136.4 74.0h0M298.8 326.6h0M272.7 342.4h0M229.5 327.5h0M219.6 336.8h0M226.5 344.9h0M194.7 341.9h0M207.5 326.1h0M326.8 336.6h0M143.0 116.2h0M167.6 265.5h0M167.9 259.3h0M123.3 84.2h0"/>
<path stroke="#007bf5" d="M173.8 294.4h0M300.9 353.8h0M188.1 327.2h0M132.3 91.6h0M138.9 51.4h0M123.9 100.7h0M178.3 289.0h0M267.4 357.3h0M127.3 39.7h0M134.8 87.4h0M167.2 257.8h0M226.8 306.8h0M121.9 131.2h0M199.0 280.9h0M132.8 143.7h0M148.2 194.9h0M162.8 235.3h0M121.9 49.6h0M190.1 324.7h0M129.2 137.3h0M134.8 143.1h0M147.7 202.5h0M143.7 209.0h0M141.3 70.1h0M143.7 188.0h0M340.0 348.3h0M215.4 356.6h0M142.0 123.1h0M121.9 41.2h0M174.8 284.8h0"/>
<path stroke="#0073ef" d="M152.0 158.8h0M157.4 182.2h0M155.9 214.4h0M129.3 94.9h0M128.1 77.7h0M149.6 104.5h0M176.4 305.8h0M133.8 49.1h0M186.3 324.2h0M142.4 203.3h0M137.2 157.6h0M287.6 336.2h0M173.3 296.7h0M146.4 151.4h0M293.6 326.0h0M160.9 245.7h0M125.4 74.2h0M190.3 336.6h0M177.0 288.8h0M267.9 326.3h0M240.6 324.2h0M136.6 67.8h0M140.2 128.2h0M128.7 40.6h0M249.1 367.9h0M121.9 121.5h0M125.6 92.2h0M125.8 67.7h0M156.9 236.9h0M138.4 133.9h0M214.1 353.9h0M121.9 84.1h0M144.8 213.7h0M273.8 325.3h0M146.0 220.5h0M127.9 130.5h0M157.2 247.6h0M209.3 298.0h0"/>
<path stroke="#2f6ae9" d="M247.6 350.9h0M195.6 320.6h0M174.0 232.1h0M134.9 84.5h0M254.9 368.2h0M218.3 356.6h0M191.7 330.8h0M321.2 339.4h0M132.4 113.9h0M172.1 278.6h0M269.0 351.1h0M182.8 297.5h0M218.8 324.1h0M146.6 155.0h0M175.3 303.8h0M303.5 362.0h0M241.7 354.8h0M262.7 357.8h0M137.0 107.5h0M199.2 345.5h0M183.1 300.4h0"/>
<path stroke="#5261e1" d="M165.7 212.7h0M309.2 361.9h0M202.9 326.9h0M203.3 339.0h0M200.2 324.7h0M325.2 358.9h0M188.2 332.7h0M207.2 359.8h0M179.8 308.1h0M231.9 311.5h0M248.0 311.6h0M244.2 358.2h0M129.8 117.3h0M136.9 82.1h0M202.3 329.8h0M157.3 194.4h0M264.8 347.0h0M240.4 341.7h0M217.4 332.2h0M155.8 215.2h0M126.0 121.8h0M232.2 355.4h0M152.2 162.0h0M209.5 328.3h0"/>
<path stroke="#6956d7" d="M224.7 343.8h0M187.4 330.5h0M222.4 368.8h0M162.5 243.4h0M193.5 341.6h0M241.1 323.8h0M132.0 109.5h0M130.4 139.1h0M135.5 81.2h0M143.0 164.4h0M258.5 365.4h0M222.6 356.9h0M143.0 81.6h0M276.8 354.0h0M249.7 346.9h0M196.7 306.3h0"/>
<path stroke="#7b4acd" d="M232.2 337.0h0M222.4 356.6h0M121.9 115.4h0M196.8 344.7h0M264.0 355.9h0M255.6 370.1h0M194.8 276.1h0M282.1 349.2h0M199.2 354.7h0M261.1 350.1h0M213.8 306.0h0M161.1 182.2h0M135.8 144.4h0M281.9 365.8h0M177.8 238.9h0M253.8 355.7h0M229.3 366.8h0M220.0 354.5h0M123.4 41.2h0"/>
<path stroke="#8a3dc1" d="M296.8 362.2h0M148.1 130.7h0M248.6 348.1h0M266.4 356.3h0M137.3 106.6h0M213.7 335.1h0M186.3 275.4h0M215.4 359.2h0M283.7 360.0h0M169.3 225.1h0M160.1 180.1h0M162.0 202.3h0M243.3 335.0h0M157.9 218.6h0M215.6 324.9h0M145.4 106.9h0M215.0 334.7h0M278.9 355.8h0M121.9 97.9h0M175.0 287.4h0M249.0 340.0h0"/>
<path stroke="#962db4" d="M153.8 155.4h0M139.9 138.9h0M139.0 136.9h0M144.8 116.3h0M168.1 242.1h0M159.7 219.8h0M190.0 333.2h0M195.9 350.1h0M136.9 118.2h0M131.6 130.8h0M304.4 321.5h0M303.0 341.7h0M297.1 352.4h0M152.3 180.3h0M176.7 259.4h0M224.2 348.7h0M239.1 372.3h0"/>
<path stroke="#a41daa" d="M175.3 237.4h0M242.0 353.5h0M163.9 190.6h0M198.7 318.3h0M295.7 333.6h0M195.5 319.3h0M272.7 354.1h0M225.3 327.3h0M205.3 319.6h0M206.8 355.8h0M297.2 363.2h0M129.9 143.9h0"/>
<path stroke="#d10092" d="M128.2 126.2h0"/>
<path stroke="#dd0088" d="M148.1 153.2h0M133.4 151.7h0M166.1 197.3h0M164.6 215.3h0M129.4 101.4h0"/>
<path stroke="#e7007e" d="M289.2 328.0h0M245.2 323.4h0M328.3 343.2h0M200.0 269.3h0M148.1 195.0h0"/>
<path stroke="#f00073" d="M246.5 331.5h0M260.4 349.8h0M334.7 342.2h0M294.4 342.3h0M164.9 202.0h0M148.7 146.8h0M165.3 205.6h0"/>
<path stroke="#f80068" d="M279.8 339.5h0M344.2 348.2h0M205.4 362.3h0M289.8 333.2h0M169.4 224.9h0M234.8 338.0h0M195.0 285.9h0M240.2 322.6h0M150.6 167.3h0M211.0 295.8h0M325.2 361.8h0M134.2 99.4h0M130.2 109.0h0M298.1 336.4h0M167.5 202.1h0M304.1 346.6h0M243.3 328.2h0"/>
<path stroke="#fe005d" d="M198.6 285.3h0M322.3 360.2h0M162.2 220.0h0M223.0 322.6h0M155.5 190.0h0M219.3 303.4h0M199.9 266.5h0M303.4 336.2h0M340.9 354.8h0M313.6 336.5h0M207.1 294.9h0M271.1 324.7h0M194.9 269.7h0M278.5 354.3h0M242.2 312.7h0M258.5 339.7h0M265.3 349.4h0M318.5 337.9h0"/>
<path stroke="#ff0051" d="M222.7 302.8h0M320.8 350.4h0M292.3 332.7h0M187.2 258.4h0M188.1 252.5h0M308.2 344.5h0M121.9 143.2h0M271.1 324.4h0M251.2 317.1h0M355.0 351.9h0M175.0 236.3h0M242.9 367.9h0M216.7 360.9h0"/>
<path stroke="#008bfb" d="M279.3 332.8h0M223.6 317.5h0M183.9 311.5h0M215.3 309.9h0M133.6 160.5h0M236.5 366.9h0M134.2 58.5h0M166.9 258.9h0M189.1 324.9h0M121.9 95.6h0M172.4 288.3h0M209.5 348.1h0M145.5 193.4h0"/>
<path stroke="#0083f8" d="M171.7 270.8h0M158.8 228.6h0M141.5 133.4h0M144.5 135.8h0M126.9 93.4h0M139.6 149.9h0M295.6 362.3h0M135.6 54.7h0M168.2 282.8h0M135.4 170.3h0M191.4 319.5h0M134.5 153.2h0M131.8 67.0h0M124.0 77.5h0M153.8 219.8h0M121.9 78.3h0M220.1 348.6h0M130.5 92.1h0M131.8 88.4h0M126.5 55.2h0M153.4 174.8h0M128.2 87.0h0"/>
<path stroke="#007bf5" d="M154.2 193.4h0M159.7 241.3h0M124.4 54.0h0M130.2 49.6h0M129.7 66.4h0M209.8 335.0h0M148.0 204.3h0M139.0 171.7h0M178.7 313.3h0M121.9 36.0h0M145.0 220.3h0M221.1 348.0h0M156.4 237.0h0M135.8 77.9h0M132.9 54.5h0M156.3 216.9h0M176.8 294.3h0M145.6 208.8h0M160.4 225.8h0M143.5 146.0h0M135.0 166.5h0"/>
<path stroke="#0073ef" d="M164.9 198.6h0M203.5 345.4h0M234.8 359.7h0M280.8 328.2h0M327.6 359.5h0M156.3 220.8h0M250.6 341.0h0M270.4 327.2h0M137.6 65.5h0M131.2 125.3h0M191.7 329.1h0M293.5 326.7h0M145.6 206.2h0M139.2 127.0h0M124.8 95.5h0M171.0 289.6h0M121.9 92.0h0M235.0 372.5h0M151.1 216.8h0M242.0 310.9h0M222.4 310.2h0M130.9 139.7h0M121.9 93.2h0M174.4 286.0h0M121.9 77.5h0M210.9 347.5h0M200.9 331.3h0M143.6 175.4h0M321.8 336.4h0M123.4 103.9h0M160.0 181.2h0M142.2 70.1h0M229.9 357.4h0"/>
<path stroke="#2f6ae9" d="M140.4 82.8h0M238.1 340.3h0M178.8 247.9h0M325.6 351.5h0M272.0 363.6h0M170.6 246.2h0M185.1 287.8h0M226.3 367.7h0M187.3 323.2h0M128.9 111.7h0M121.9 65.2h0M124.7 51.3h0M143.1 199.8h0M150.9 185.1h0M143.1 120.1h0M320.6 361.9h0M150.8 159.1h0M125.3 55.7h0M146.6 219.4h0M221.1 348.5h0M180.3 284.7h0M220.6 306.9h0M244.8 374.4h0M129.1 58.2h0M275.3 351.3h0M135.2 58.1h0M183.8 324.8h0M229.0 368.2h0"/>
<path stroke="#5261e1" d="M263.0 350.1h0M141.2 113.6h0M149.7 232.7h0M299.1 356.7h0M141.7 170.2h0M277.4 368.2h0M184.0 276.3h0M137.1 162.7h0M299.6 341.9h0M270.2 361.8h0M164.9 197.2h0M134.1 163.2h0M171.2 248.6h0M161.0 220.1h0M215.2 330.4h0M195.4 319.3h0M189.2 285.6h0M141.0 94.0h0M332.0 338.6h0M267.2 367.7h0M257.8 366.8h0"/>
<path stroke="#6956d7" d="M145.8 91.3h0M186.9 288.9h0M124.8 101.8h0M260.1 342.0h0M236.6 341.5h0M188.7 331.9h0M325.1 362.0h0M146.5 108.7h0M313.1 352.6h0M275.1 361.2h0M151.9 184.4h0M127.8 96.5h0M135.5 134.8h0M138.7 141.1h0M270.2 353.7h0M197.1 306.1h0"/>
<path stroke="#7b4acd" d="M286.5 351.3h0M205.6 330.7h0M149.3 128.2h0M138.9 162.1h0M138.4 118.6h0M193.2 293.2h0M195.3 306.7h0M298.5 329.2h0M258.7 348.5h0M221.9 301.8h0M233.8 329.1h0M151.5 128.1h0M121.9 69.1h0M154.0 152.5h0M195.4 312.1h0M137.1 50.9h0M167.2 236.0h0M139.1 120.1h0M226.6 308.4h0M194.3 330.1h0"/>
<path stroke="#8a3dc1" d="M248.6 352.7h0M178.6 311.0h0M160.9 183.4h0M167.0 249.1h0M145.8 159.4h0M171.7 267.2h0M185.4 284.9h0M142.5 87.8h0M132.4 127.7h0M205.2 318.7h0M234.8 339.8h0M220.8 367.7h0M257.2 354.2h0M211.7 354.3h0M138.8 178.8h0M125.1 74.6h0M145.8 128.4h0M205.0 320.1h0M166.4 198.7h0M212.9 337.4h0M124.2 75.3h0M127.9 106.0h0M125.1 92.9h0M121.9 105.5h0"/>
<path stroke="#962db4" d="M322.3 349.5h0M160.7 201.1h0M268.6 348.1h0M121.9 129.2h0M186.0 281.0h0M257.9 344.4h0M142.2 165.0h0M244.7 356.7h0M225.8 329.2h0M293.6 362.2h0M249.5 330.0h0M123.6 115.5h0M221.6 361.4h0M212.0 327.6h0M255.6 359.7h0M214.3 358.2h0M195.0 349.2h0M224.5 362.5h0"/>
<path stroke="#a41daa" d="M237.3 363.7h0M222.0 343.7h0M331.1 333.5h0M180.9 273.4h0M300.9 339.3h0M194.7 301.7h0M195.3 293.7h0M249.4 356.0h0M121.9 127.9h0M264.0 363.4h0M222.7 324.0h0M283.1 354.2h0M144.1 160.9h0M186.3 321.6h0"/>
<path stroke="#d10092" d="M328.7 335.5h0M139.9 163.9h0"/>
<path stroke="#dd0088" d="M174.4 230.3h0M172.5 222.9h0"/>
<path stroke="#e7007e" d="M249.4 372.1h0M319.2 362.3h0M308.5 328.5h0"/>
<path stroke="#f00073" d="M153.8 195.5h0M358.4 354.3h0M313.6 327.6h0M193.2 262.4h0M233.5 316.5h0M146.3 115.1h0"/>
<path stroke="#f80068" d="M255.3 347.3h0M310.6 343.6h0M274.0 333.0h0M179.3 241.6h0M283.7 361.4h0M314.8 350.5h0M326.0 348.8h0M180.6 250.4h0M245.1 323.4h0M204.7 301.9h0M311.0 333.5h0M329.6 345.0h0M160.5 201.3h0"/>
<path stroke="#fe005d" d="M187.0 252.6h0M212.1 303.3h0M300.0 347.5h0M231.5 322.4h0M156.9 186.1h0M347.5 358.5h0M324.2 339.0h0M260.2 360.8h0M259.5 338.1h0M182.4 258.6h0M202.4 340.3h0M259.9 326.4h0M309.3 357.1h0M232.7 323.3h0M237.2 332.5h0M304.4 334.7h0M281.2 358.3h0M190.1 264.2h0M223.5 365.1h0M270.2 330.4h0M198.8 260.8h0M197.4 289.1h0M347.1 343.2h0M164.6 203.3h0M300.5 345.5h0M316.1 353.6h0M195.7 280.0h0M295.0 356.6h0M266.3 344.1h0M312.1 333.4h0M328.9 358.4h0M303.5 344.9h0M238.8 330.1h0"/>
<path stroke="#ff0051" d="M284.6 359.2h0M242.6 324.5h0M297.1 352.6h0M232.9 322.6h0M164.5 222.5h0M198.5 328.7h0M221.3 301.8h0M203.5 297.3h0M182.3 251.3h0M233.6 314.3h0M297.8 334.6h0M277.5 333.8h0M211.9 309.4h0M212.4 358.9h0"/>
<path stroke="#008bfb" d="M212.8 308.8h0M181.0 316.9h0M178.4 287.3h0M251.8 355.8h0M136.5 120.7h0M201.7 316.8h0M132.1 64.5h0M166.5 273.8h0M172.8 269.7h0"/>
<path stroke="#0083f8" d="M121.9 101.3h0M190.7 315.3h0M130.0 81.1h0M165.3 267.5h0M310.4 334.7h0M295.2 325.3h0M317.4 362.3h0M137.3 172.1h0M166.6 222.9h0M230.5 341.2h0M231.3 308.8h0M195.8 294.4h0M181.2 312.6h0M158.4 242.9h0M121.9 68.4h0M274.9 334.2h0M193.3 329.0h0M222.7 314.7h0M271.8 324.8h0M144.9 185.7h0M140.9 170.2h0M318.1 331.1h0"/>
<path stroke="#007bf5" d="M136.7 59.5h0M145.0 104.4h0M124.8 93.1h0M186.6 321.8h0M134.7 96.4h0M131.4 67.2h0M245.6 363.8h0M179.4 304.5h0M188.0 332.0h0M178.1 286.4h0M149.2 200.1h0M131.1 67.0h0M155.7 228.0h0M121.9 143.5h0M267.5 339.9h0M126.2 84.2h0M156.6 239.3h0M130.7 54.3h0M140.9 185.9h0M143.4 78.5h0M121.9 61.6h0M151.3 207.4h0M186.7 304.3h0M194.0 295.0h0M184.0 298.8h0M224.6 359.9h0"/>
<path stroke="#0073ef" d="M159.5 252.2h0M298.4 353.8h0M155.6 242.6h0M125.9 59.9h0M318.5 344.3h0M169.6 271.9h0M142.8 79.7h0M135.2 58.6h0M149.8 122.0h0M130.8 88.7h0M193.6 338.8h0M157.8 236.0h0M219.5 301.1h0M243.7 363.2h0M153.5 202.5h0M154.1 212.9h0M219.2 366.5h0M143.9 114.8h0M169.5 285.5h0M176.4 279.8h0M280.2 327.8h0M166.1 260.5h0M166.4 279.4h0M133.2 53.8h0M201.6 287.2h0M139.5 126.4h0M143.8 160.6h0M257.3 361.8h0"/>
<path stroke="#2f6ae9" d="M191.3 281.2h0M253.3 351.0h0M204.9 353.3h0M275.7 361.2h0M254.0 366.3h0M215.7 343.9h0M127.8 65.1h0M289.1 353.1h0M300.6 355.8h0M140.4 93.8h0M278.5 352.0h0M160.8 222.9h0M146.2 160.3h0M233.8 328.8h0M143.8 184.4h0M179.3 283.1h0M183.8 272.9h0"/>
<path stroke="#5261e1" d="M174.2 256.3h0M167.7 284.7h0M206.7 327.6h0M213.3 332.4h0M193.9 295.9h0M200.3 344.8h0M198.8 339.5h0M265.2 359.6h0M291.3 359.8h0M199.8 347.1h0M223.4 319.9h0M216.9 332.2h0M169.7 238.4h0M183.1 294.2h0M175.6 268.1h0M177.1 241.8h0M155.7 164.2h0"/>
<path stroke="#6956d7" d="M302.5 352.8h0M248.8 369.2h0M177.3 261.3h0M223.8 350.5h0M206.9 346.6h0M282.6 361.9h0M195.0 343.8h0M188.1 286.3h0M136.6 175.4h0M192.2 283.3h0M263.4 345.9h0M214.8 347.8h0M153.9 153.1h0M143.5 133.3h0M232.0 364.0h0M247.0 374.1h0M253.2 366.2h0M127.7 83.7h0M130.2 101.2h0M245.2 345.8h0M157.5 221.7h0M226.0 326.4h0M260.7 345.1h0M142.9 112.0h0M285.6 347.4h0"/>
<path stroke="#7b4acd" d="M192.6 324.2h0M156.0 205.0h0M235.9 315.6h0M129.6 53.8h0M233.0 354.0h0M231.0 333.6h0M303.9 363.4h0M131.4 90.1h0M210.4 332.8h0M163.2 226.2h0M164.3 204.7h0M211.6 353.7h0M176.2 283.4h0M134.7 158.6h0M135.6 159.4h0M215.5 351.6h0M143.5 108.3h0M145.4 102.5h0M197.8 325.8h0M214.5 317.0h0M251.9 359.6h0M183.5 275.6h0M206.2 336.8h0M291.6 364.2h0"/>
<path stroke="#8a3dc1" d="M137.1 92.2h0M207.0 314.1h0M222.3 364.2h0M352.6 341.7h0M287.7 330.6h0M237.1 324.9h0M240.9 341.2h0M156.7 233.8h0M152.1 144.2h0M146.9 123.4h0M150.7 127.0h0M128.2 96.0h0M132.9 77.2h0M207.3 325.8h0M297.9 346.5h0M166.6 200.9h0M260.0 338.8h0"/>
<path stroke="#962db4" d="M301.4 362.2h0M181.6 265.7h0M286.9 364.9h0M248.3 365.2h0M239.9 337.7h0M213.7 360.6h0M140.3 153.8h0M280.0 343.5h0M263.0 350.3h0M311.7 356.2h0M146.7 98.4h0M176.0 234.0h0M240.2 353.7h0M160.7 205.8h0M241.1 365.9h0M293.2 359.4h0M179.8 266.0h0"/>
<path stroke="#a41daa" d="M185.7 276.7h0M200.0 321.2h0M310.1 354.1h0M160.2 219.8h0M218.6 328.0h0M331.5 361.6h0M245.3 368.6h0M259.8 334.8h0M196.8 303.3h0M224.7 353.6h0M214.7 329.1h0M205.6 311.3h0M241.7 358.2h0M344.8 344.8h0"/>
<path stroke="#b408a3" d="M149.5 161.1h0M138.6 170.7h0"/>
<path stroke="#c3009b" d="M131.5 145.5h0"/>
<path stroke="#d10092" d="M129.5 115.2h0"/>
<path stroke="#dd0088" d="M144.2 137.3h0M303.5 343.4h0M293.8 338.4h0"/>
<path stroke="#e7007e" d="M276.5 340.3h0M139.5 147.3h0M341.4 352.4h0M135.2 161.3h0M204.0 284.1h0"/>
<path stroke="#f00073" d="M193.6 280.0h0M298.4 327.9h0M296.3 351.0h0M301.4 347.4h0M223.6 302.6h0M285.9 328.5h0M266.0 327.8h0M187.4 270.3h0M192.3 276.4h0M358.1 343.0h0M289.4 340.2h0M164.8 217.3h0M299.2 360.7h0"/>
<path stroke="#f80068" d="M154.8 184.8h0M197.3 267.9h0M184.1 262.9h0M235.3 310.2h0M277.6 361.5h0M196.2 262.8h0M235.2 313.0h0M330.6 342.5h0M237.2 319.2h0M134.5 93.6h0M277.2 341.8h0M196.2 293.7h0M318.1 341.8h0M251.1 320.5h0M277.1 334.3h0M164.1 190.8h0M202.6 335.2h0M293.5 353.4h0M290.8 341.6h0M127.8 75.5h0M193.8 279.2h0M284.2 357.4h0"/>
<path stroke="#fe005d" d="M319.8 354.2h0M272.7 339.3h0M232.0 317.2h0M170.3 221.4h0M177.2 247.2h0M336.1 360.8h0M232.4 310.5h0M140.3 139.0h0M241.3 326.8h0M229.3 307.3h0M205.4 311.0h0M121.9 159.4h0M200.5 291.4h0M314.1 340.6h0M307.3 354.8h0M133.4 106.1h0M198.5 262.0h0M154.1 167.1h0M130.7 96.6h0M214.3 314.4h0M296.2 346.1h0M303.6 329.8h0M328.9 345.3h0M275.1 336.4h0M174.1 227.0h0M320.4 344.7h0"/>
<path stroke="#ff0051" d="M177.5 233.0h0M228.5 309.6h0M205.9 308.9h0M196.5 285.9h0M201.4 265.0h0M121.9 136.0h0M291.7 344.1h0M212.0 306.9h0M202.1 282.1h0M293.4 324.0h0M208.5 302.4h0M223.6 310.2h0M202.7 273.1h0M199.5 303.1h0"/>
<path stroke="#008bfb" d="M231.9 349.2h0M169.9 223.9h0M307.9 361.5h0M170.6 265.5h0M133.8 69.3h0M121.9 42.5h0M155.4 196.7h0M164.6 239.1h0M142.6 171.1h0M216.2 365.1h0M316.8 349.4h0"/>
<path stroke="#0083f8" d="M223.6 365.2h0M140.2 103.2h0M138.2 48.2h0M184.9 298.5h0M192.4 330.1h0M233.5 340.3h0M121.9 40.4h0M121.9 48.5h0M256.2 357.4h0M147.7 175.2h0M174.4 287.5h0M305.6 329.1h0M131.7 67.4h0M131.9 49.2h0M133.5 42.6h0M133.6 65.0h0M303.0 334.4h0M154.5 226.5h0M133.6 82.4h0M201.0 349.9h0M121.9 32.2h0M186.4 331.3h0M181.7 304.8h0M276.9 329.5h0M175.5 294.1h0M148.0 129.1h0M149.9 158.3h0M143.7 202.1h0M121.9 39.9h0M129.6 107.9h0M124.7 67.5h0M156.6 230.8h0M130.6 65.1h0M130.6 62.1h0M172.6 281.2h0M181.2 323.4h0M167.1 277.0h0M168.9 263.7h0M144.4 107.9h0M298.7 355.0h0"/>
<path stroke="#007bf5" d="M275.7 363.1h0M183.0 323.1h0M235.2 317.9h0M121.9 53.5h0M128.4 48.4h0M147.2 220.4h0M150.7 180.6h0M121.9 136.7h0M168.4 264.4h0M126.0 68.2h0M319.9 362.9h0M230.3 322.3h0M242.9 316.5h0M121.9 85.8h0M265.3 365.9h0M156.1 237.4h0M206.4 305.3h0M135.0 47.6h0M153.4 162.0h0M173.0 300.1h0M222.5 320.0h0M184.8 323.8h0M141.3 185.5h0M175.6 295.1h0M128.8 46.5h0M146.7 205.4h0M324.7 345.8h0M130.3 102.5h0M152.1 230.1h0M139.5 166.7h0M309.1 327.9h0"/>
<path stroke="#0073ef" d="M197.3 327.5h0M121.9 84.4h0M242.2 362.7h0M161.4 250.4h0M246.9 344.3h0M151.1 228.7h0M188.4 311.9h0M129.6 56.4h0M138.4 92.9h0M133.5 169.1h0M158.8 222.6h0M147.5 211.6h0M155.4 157.6h0M147.4 189.2h0M145.8 133.8h0M175.2 296.2h0M149.6 213.5h0M315.6 337.3h0M134.6 50.7h0M153.4 227.7h0M142.5 109.3h0M129.7 60.2h0M155.1 173.6h0"/>
<path stroke="#2f6ae9" d="M239.0 317.2h0M215.2 354.3h0M271.7 358.9h0M145.7 99.0h0M205.9 346.9h0M131.0 108.9h0M125.5 101.0h0M158.7 219.8h0M244.3 331.3h0M230.7 365.1h0M154.4 152.1h0M222.5 369.5h0M141.7 132.7h0M127.2 90.8h0M247.4 317.7h0M195.7 303.2h0M200.8 302.7h0M201.2 313.2h0M227.5 355.1h0M147.4 125.7h0M158.3 251.4h0M187.9 278.3h0M146.6 112.7h0M165.9 241.9h0"/>
<path stroke="#5261e1" d="M183.1 271.5h0M131.6 67.6h0M212.8 345.0h0M268.5 349.1h0M286.7 338.3h0M134.1 71.1h0M328.4 339.1h0M228.9 366.4h0M151.9 183.3h0M209.2 354.7h0M130.6 37.4h0M191.5 291.9h0M270.1 328.8h0M125.1 42.2h0"/>
<path stroke="#6956d7" d="M333.4 352.9h0M231.5 369.5h0M229.1 312.9h0M147.6 156.3h0M223.0 351.8h0M137.0 78.4h0M244.7 344.4h0M205.8 309.1h0M244.9 342.9h0M256.0 343.6h0M297.3 357.5h0M217.2 313.4h0"/>
<path stroke="#7b4acd" d="M203.9 348.6h0M146.6 155.0h0M169.8 252.9h0M182.5 320.0h0M182.4 269.5h0M259.6 358.2h0M201.4 304.8h0M218.4 362.1h0M299.5 356.6h0M140.0 81.2h0M137.9 75.8h0M168.8 248.1h0M248.8 337.0h0M169.1 232.5h0M219.0 344.7h0M185.6 255.8h0M289.5 358.4h0M132.2 102.8h0M189.4 281.4h0M184.8 266.5h0M121.9 86.4h0"/>
<path stroke="#8a3dc1" d="M294.6 353.5h0M196.7 326.6h0M145.3 132.0h0M313.4 348.7h0M215.6 329.9h0M190.7 293.5h0M227.2 363.8h0M249.6 354.4h0M197.8 311.4h0M255.4 362.6h0M212.6 362.8h0M240.3 365.0h0M134.0 51.0h0M149.8 146.6h0M273.1 348.7h0M238.8 327.8h0M192.5 287.2h0M221.0 321.0h0M126.4 113.3h0M184.8 284.7h0M131.7 149.2h0M121.9 160.2h0M241.1 357.7h0M190.2 291.2h0"/>
<path stroke="#962db4" d="M295.0 362.3h0M215.9 326.0h0M126.4 114.2h0M247.4 364.2h0M229.2 337.6h0M143.7 174.2h0M161.5 229.4h0M195.5 342.2h0M217.3 329.2h0M184.1 283.4h0M236.1 347.2h0M169.6 288.8h0M149.2 138.3h0M199.8 348.2h0M242.7 373.2h0M159.9 177.0h0M153.3 157.1h0M182.9 251.6h0M306.6 348.2h0"/>
<path stroke="#a41daa" d="M181.3 299.3h0M195.3 315.5h0M252.9 357.2h0M165.3 207.0h0M279.2 358.9h0M209.0 316.0h0M217.3 339.3h0M145.8 203.1h0M190.8 298.6h0M291.2 339.5h0M236.7 341.9h0M277.4 355.4h0M273.9 349.6h0M252.5 357.2h0M209.8 335.5h0"/>
<path stroke="#dd0088" d="M157.5 177.8h0"/>
<path stroke="#e7007e" d="M263.8 333.1h0M161.0 194.7h0M138.7 104.9h0M220.3 315.4h0M213.1 350.5h0M319.4 350.1h0M272.2 327.8h0M135.8 144.9h0"/>
<path stroke="#f00073" d="M178.9 243.1h0M222.1 315.5h0M321.6 344.7h0M301.4 333.0h0M328.6 351.8h0M207.2 304.2h0M272.4 344.0h0M299.0 330.2h0M290.2 342.7h0M154.2 197.9h0"/>
<path stroke="#f80068" d="M173.2 220.5h0M282.4 361.2h0M196.7 281.9h0M321.8 332.8h0M280.5 340.3h0M200.3 284.0h0M194.4 285.8h0M321.2 346.3h0M156.1 207.0h0M197.9 297.9h0M291.0 330.8h0M168.9 231.2h0M177.6 241.6h0M278.8 345.7h0M182.4 289.0h0M193.0 270.8h0M132.1 123.1h0M199.8 273.8h0"/>
<path stroke="#fe005d" d="M272.0 345.9h0M200.3 262.5h0M205.6 304.6h0M153.4 151.9h0M153.7 167.3h0M215.7 303.3h0M274.1 333.8h0M290.3 332.8h0M322.9 345.5h0M270.3 326.1h0M321.4 342.1h0M189.5 267.8h0M231.2 321.8h0M277.6 352.0h0M182.8 309.1h0M202.6 272.8h0M157.5 178.0h0M258.1 328.5h0M195.6 271.1h0M298.9 327.4h0M205.9 297.6h0"/>
<path stroke="#ff0051" d="M263.3 344.4h0M196.3 270.0h0M121.9 153.8h0M272.0 336.5h0M177.3 250.2h0M336.7 338.0h0M284.4 340.2h0M151.4 126.8h0M165.0 202.5h0M251.7 314.2h0M141.8 162.4h0"/>
<path stroke="#008bfb" d="M180.1 292.0h0M156.6 213.6h0M142.6 142.3h0M223.9 336.6h0M224.6 361.2h0M125.8 89.7h0M126.3 40.8h0M178.1 286.9h0M217.1 360.6h0M276.8 330.3h0M151.7 132.0h0"/>
<path stroke="#0083f8" d="M177.2 304.5h0M155.4 233.5h0M136.5 145.0h0M157.9 236.3h0M187.2 294.0h0M238.3 328.5h0M181.0 324.7h0M175.8 274.4h0M146.2 190.5h0M277.2 364.6h0M197.6 307.7h0M184.9 303.2h0M121.9 113.1h0M181.4 309.0h0M121.9 42.1h0M143.5 190.3h0M211.0 352.3h0M159.1 242.6h0M204.9 341.0h0M128.7 117.3h0M161.9 236.8h0"/>
<path stroke="#007bf5" d="M174.8 288.0h0M146.7 144.0h0M121.9 77.2h0M190.5 305.9h0M140.2 130.5h0M147.3 225.2h0M150.0 199.6h0M317.5 330.1h0M140.6 167.4h0M147.7 216.8h0M133.4 144.0h0M219.8 362.5h0M135.1 163.7h0M170.6 285.4h0M218.2 345.9h0M170.3 290.4h0M168.2 281.6h0M153.6 227.8h0M329.5 332.8h0M229.0 337.8h0M131.9 93.3h0M147.0 200.2h0M121.9 78.8h0M238.6 337.1h0"/>
<path stroke="#0073ef" d="M255.4 353.4h0M140.5 101.2h0M158.5 225.8h0M130.9 58.4h0M179.2 289.7h0M145.6 196.1h0M165.4 250.7h0M142.6 201.9h0M127.2 89.7h0M127.7 99.9h0M167.6 273.6h0M132.2 155.8h0M124.4 109.8h0M163.2 247.3h0M223.9 302.1h0M160.8 224.8h0M286.0 359.9h0M181.8 318.9h0M126.2 99.3h0M211.5 346.3h0M131.2 47.2h0M147.4 149.1h0M168.4 254.7h0"/>
<path stroke="#2f6ae9" d="M134.5 116.8h0M225.9 319.5h0M199.5 297.5h0M199.9 350.9h0M188.1 324.7h0M327.4 334.6h0M130.9 142.0h0M206.0 318.8h0M146.1 152.2h0M221.3 330.1h0M249.5 336.4h0M154.4 155.6h0M194.9 338.4h0M197.5 343.8h0M155.0 236.0h0M324.4 355.9h0M200.0 345.6h0M314.1 331.8h0M188.1 336.3h0M170.3 260.4h0M241.3 354.9h0M182.4 269.4h0M226.6 337.7h0M138.7 142.8h0M244.5 352.0h0"/>
<path stroke="#5261e1" d="M216.4 358.3h0M160.9 183.1h0M228.8 339.2h0M128.6 77.8h0M256.4 372.3h0M142.4 83.7h0M217.2 339.8h0M139.7 162.8h0M191.5 287.9h0M245.4 371.3h0M202.7 307.5h0M189.2 285.4h0M157.0 167.9h0M130.7 115.1h0M173.7 256.9h0"/>
<path stroke="#6956d7" d="M185.2 317.4h0M220.4 309.8h0M240.1 347.6h0M242.1 348.5h0M297.1 352.1h0M295.0 352.3h0M170.8 244.6h0M229.3 342.1h0M311.7 356.4h0M233.9 364.9h0M203.2 288.7h0M139.0 89.8h0M294.0 362.1h0M300.7 346.5h0M240.4 339.3h0M134.5 110.1h0M228.3 363.8h0M194.5 284.2h0M159.5 197.2h0"/>
<path stroke="#7b4acd" d="M167.4 240.6h0M168.3 239.5h0M209.2 353.7h0M202.2 296.4h0M308.9 353.1h0M212.2 307.9h0M201.5 317.2h0M228.9 360.9h0M130.3 58.5h0M179.9 264.1h0M242.6 363.5h0M245.0 340.7h0M206.6 362.4h0M159.3 199.0h0M140.9 93.3h0M121.9 85.9h0M220.5 350.8h0M178.7 265.8h0M299.0 361.0h0M215.7 341.3h0M248.7 328.2h0M173.4 284.0h0M181.6 266.0h0"/>
<path stroke="#8a3dc1" d="M253.1 354.9h0M267.5 336.2h0M248.2 334.1h0M197.5 321.2h0M203.2 296.6h0M195.5 306.7h0M144.4 126.3h0M192.8 316.6h0M221.3 356.8h0M129.7 67.9h0M252.5 372.3h0M278.8 357.4h0M136.9 56.6h0M255.1 365.3h0M177.4 313.3h0M129.1 45.8h0M150.7 174.9h0M268.8 357.1h0M200.5 319.1h0M304.5 356.7h0M252.1 366.1h0M177.6 252.1h0M245.0 341.1h0M202.3 320.0h0"/>
<path stroke="#962db4" d="M145.5 136.1h0M217.3 322.2h0M249.7 342.7h0M269.8 363.6h0M235.3 366.1h0M175.3 291.7h0M174.5 307.2h0M129.3 144.3h0M162.8 251.5h0M160.0 210.8h0M246.7 333.4h0M190.7 283.4h0M168.3 256.3h0M181.6 332.8h0M225.9 323.4h0M155.0 182.2h0"/>
<path stroke="#a41daa" d="M282.0 349.0h0M248.3 319.3h0M288.9 356.1h0M182.9 265.9h0M270.5 352.1h0M167.9 278.3h0M156.1 207.0h0M181.1 269.6h0M188.0 341.3h0M189.1 334.3h0M236.9 374.4h0M214.6 321.3h0M159.5 225.9h0M276.5 341.5h0M198.1 331.3h0M255.2 370.2h0M234.3 370.2h0M187.5 285.5h0M143.5 169.5h0M190.1 321.8h0"/>
<path stroke="#c3009b" d="M143.3 108.8h0M366.7 348.1h0M133.0 132.6h0"/>
<path stroke="#dd0088" d="M128.0 132.1h0M140.0 105.7h0"/>
<path stroke="#e7007e" d="M291.3 340.5h0M348.8 348.9h0M174.6 246.7h0M250.0 320.8h0M318.7 336.9h0M319.4 361.0h0"/>
<path stroke="#f00073" d="M197.8 329.6h0M237.6 334.7h0M192.6 285.9h0M154.6 172.1h0M199.1 280.7h0M325.5 345.7h0M258.5 333.2h0M227.8 310.9h0M224.7 313.9h0M139.6 164.3h0M295.8 328.8h0M193.4 257.1h0M300.8 336.9h0M327.6 350.2h0M131.6 84.6h0M194.5 268.9h0M211.9 303.1h0M164.2 203.2h0"/>
<path stroke="#f80068" d="M139.4 107.7h0M202.5 317.5h0M165.4 214.5h0M172.5 244.7h0M209.5 306.0h0M149.1 172.0h0M135.8 135.0h0M289.2 338.5h0M324.3 333.5h0M258.0 333.0h0M180.3 251.7h0M263.4 350.6h0M269.9 348.8h0M171.0 224.7h0"/>
<path stroke="#fe005d" d="M231.1 314.5h0M312.7 340.4h0M302.8 335.5h0M243.3 326.8h0M216.9 307.5h0M182.5 251.7h0M300.6 343.0h0M202.4 287.8h0M300.4 333.3h0M149.2 127.2h0M136.7 134.8h0M246.0 324.6h0M251.8 330.8h0M234.4 316.7h0M203.7 275.4h0M248.4 332.4h0M276.4 333.3h0M168.9 231.2h0M290.8 339.3h0M209.1 295.4h0M318.9 337.3h0M243.8 335.7h0M287.6 334.6h0M227.8 311.8h0M192.0 263.9h0M171.7 241.3h0"/>
<path stroke="#ff0051" d="M197.3 265.1h0M245.6 328.8h0M340.9 337.9h0M281.9 344.8h0M248.8 318.4h0M291.7 333.7h0M319.7 353.2h0M295.9 330.8h0M207.5 294.9h0M332.0 358.6h0M304.8 344.3h0M196.3 263.0h0M192.9 262.4h0"/>
<path stroke="#008bfb" d="M138.5 164.3h0M135.7 126.2h0M121.9 39.1h0M124.3 71.7h0M144.5 169.3h0M136.2 110.4h0M137.5 163.0h0M202.4 338.9h0M133.5 85.5h0M121.9 48.8h0M180.6 316.0h0"/>
<path stroke="#0083f8" d="M140.3 97.0h0M155.7 219.3h0M151.5 213.4h0M121.9 80.7h0M175.6 278.7h0M121.9 106.3h0M124.1 40.2h0M121.9 37.6h0M198.3 328.8h0M140.4 78.4h0M158.5 241.6h0M272.8 338.6h0M179.5 305.2h0M240.6 370.9h0M155.9 226.8h0M187.9 327.5h0M166.2 248.9h0M121.9 109.3h0M126.8 27.9h0M121.9 164.6h0M322.0 312.6h0M368.5 329.0h0M369.6 349.6h0M363.8 343.0h0M141.0 227.0h0"/>
<path stroke="#007bf5" d="M180.6 301.6h0M280.9 341.6h0M244.2 347.9h0M231.4 348.9h0M124.0 110.8h0M162.9 251.2h0M139.6 92.1h0M167.3 262.8h0M124.6 108.1h0M170.4 283.4h0M137.2 170.2h0M171.5 245.6h0M182.6 308.5h0M134.3 67.1h0M175.7 266.2h0M165.4 243.7h0M154.4 219.8h0M140.6 73.5h0M145.5 130.8h0M264.2 361.0h0M134.7 50.1h0M218.0 357.7h0M195.0 350.4h0M186.3 316.9h0"/>
<path stroke="#0073ef" d="M137.9 46.8h0M303.2 329.2h0M135.3 102.0h0M152.9 166.5h0M240.6 359.5h0M123.4 56.2h0M146.5 169.5h0M193.3 288.1h0M163.2 256.5h0M195.3 329.0h0M138.7 183.3h0M201.0 357.0h0M136.0 42.9h0M147.7 216.3h0M152.2 225.1h0M157.5 232.7h0"/>
<path stroke="#2f6ae9" d="M185.4 286.1h0M208.4 323.0h0M135.9 162.2h0M189.3 278.2h0M140.9 71.4h0M139.6 101.2h0M200.5 342.0h0M134.5 108.2h0M142.7 103.7h0M132.1 138.2h0M257.1 371.5h0M253.2 364.9h0M176.5 294.6h0M153.1 168.9h0M143.4 130.7h0M145.2 122.1h0M376.0 365.8h0"/>
<path stroke="#5261e1" d="M142.1 77.8h0M193.6 269.2h0M194.0 294.7h0M293.0 332.2h0M195.7 323.6h0M128.9 76.1h0M190.3 326.6h0M141.5 96.6h0M170.6 256.4h0M156.8 203.2h0M392.7 358.3h0"/>
<path stroke="#6956d7" d="M141.5 163.4h0M169.9 238.3h0M253.1 355.4h0M263.5 363.6h0M249.7 342.4h0M199.0 311.2h0M204.4 345.9h0M134.0 110.0h0M141.7 106.4h0M169.3 269.3h0M130.3 90.9h0M382.5 327.8h0M233.0 378.0h0M267.5 377.5h0"/>
<path stroke="#7b4acd" d="M223.4 366.2h0M155.1 195.8h0M150.6 189.4h0M167.3 212.1h0M220.0 346.8h0M332.1 334.0h0M313.9 362.0h0M143.5 164.7h0M147.5 211.7h0M210.6 352.2h0M147.2 118.9h0M195.2 332.1h0M147.9 176.8h0M202.9 316.7h0M121.9 31.6h0M237.5 362.1h0M294.8 352.7h0M229.0 307.8h0M392.7 361.8h0M304.0 370.0h0M322.8 364.9h0"/>
<path stroke="#8a3dc1" d="M139.1 65.7h0M276.7 354.3h0M185.5 298.0h0M183.6 317.5h0M228.8 364.7h0M203.7 324.3h0M191.1 282.5h0M204.3 323.2h0M202.8 334.0h0M152.6 139.8h0M202.0 314.0h0M121.9 131.3h0M189.3 338.5h0M233.2 325.9h0M161.0 226.9h0M166.6 231.9h0M142.7 118.8h0M138.0 108.3h0M186.4 299.8h0M121.9 115.3h0M137.5 96.5h0M233.9 324.4h0M185.7 292.1h0M310.7 311.7h0M364.6 349.6h0M405.1 332.8h0"/>
<path stroke="#962db4" d="M132.9 115.9h0M221.0 325.0h0M206.5 324.3h0M315.1 353.5h0M236.2 340.5h0M285.8 355.8h0M175.9 264.6h0M237.1 367.5h0M190.7 330.4h0M188.4 273.1h0M243.1 328.3h0M196.6 337.1h0M380.3 344.7h0M376.2 349.3h0M391.9 349.6h0M391.0 353.8h0"/>
<path stroke="#a41daa" d="M256.9 357.1h0M244.0 334.4h0M264.3 334.1h0M221.0 369.0h0M289.5 348.9h0M148.7 156.0h0M300.6 356.4h0M198.3 346.3h0M305.2 357.4h0M301.3 360.3h0M341.6 357.7h0"/>
<path stroke="#c3009b" d="M121.9 109.2h0M444.5 353.0h0"/>
<path stroke="#d10092" d="M422.6 353.1h0M377.6 374.8h0M544.5 345.4h0"/>
<path stroke="#dd0088" d="M168.5 222.0h0M325.8 331.9h0M263.8 324.5h0M359.7 333.9h0M397.2 348.0h0M441.3 354.3h0M334.2 367.5h0M498.6 341.1h0"/>
<path stroke="#e7007e" d="M160.2 189.8h0M340.1 335.0h0M353.3 327.5h0M407.2 347.2h0M363.3 348.0h0M366.6 354.6h0"/>
<path stroke="#f00073" d="M326.8 332.4h0M263.5 366.1h0M125.0 90.8h0M264.5 335.6h0"/>
<path stroke="#f80068" d="M193.2 290.6h0M239.0 324.3h0M207.9 314.4h0M168.6 279.7h0M312.5 340.4h0M169.8 241.0h0M199.6 285.3h0M272.5 342.0h0M234.8 314.5h0M332.3 346.7h0M251.4 318.3h0M211.9 309.0h0M284.6 317.3h0M372.0 347.0h0M133.6 182.7h0"/>
<path stroke="#fe005d" d="M250.5 320.2h0M284.3 345.1h0M202.8 283.6h0M310.6 349.1h0M316.5 333.3h0M309.7 352.2h0M194.3 273.1h0M267.5 351.9h0M321.9 352.7h0M195.9 317.7h0M314.7 347.8h0M129.3 118.7h0M213.3 307.0h0M154.0 186.5h0M224.4 308.4h0M147.1 177.0h0M238.0 317.7h0M298.4 344.1h0M358.3 350.2h0M312.1 341.4h0M340.4 359.4h0M285.8 348.7h0M284.4 309.0h0M397.4 355.1h0M375.7 339.4h0"/>
<path stroke="#ff0051" d="M237.6 329.0h0M236.7 312.3h0M282.2 334.3h0M238.2 324.2h0M196.0 274.2h0M190.6 323.6h0M327.2 336.7h0M240.0 322.5h0M221.5 313.6h0M237.7 355.6h0M291.2 332.6h0M268.6 327.6h0M182.8 263.0h0M237.4 293.4h0M264.7 308.6h0M278.5 307.0h0M316.8 313.8h0M333.7 315.9h0M353.3 315.9h0M354.8 328.3h0M376.3 326.1h0M375.7 332.3h0M372.9 336.4h0M381.2 336.4h0M384.5 339.4h0M392.7 340.3h0M375.4 344.7h0M382.0 348.8h0M386.1 349.3h0M386.9 355.5h0M367.0 353.8h0M408.2 333.9h0M413.5 338.6h0M415.9 342.7h0M423.7 346.1h0M428.9 342.6h0M447.2 340.0h0M452.4 339.4h0M458.0 337.5h0M379.6 363.4h0M534.8 333.7h0M367.4 341.4h0M371.6 339.7h0M374.9 345.0h0M361.7 338.1h0M370.0 344.0h0M378.0 341.0h0M368.0 351.5h0"/>
</g>
<path d="M101.5 11.0V396.5H566.5" fill="none" stroke="#333333" stroke-width="1.1" stroke-linecap="butt" stroke-linejoin="miter"/>
<path d="M122.5 396.5v5M178.5 396.5v5M233.5 396.5v5M289.5 396.5v5M345.5 396.5v5M400.5 396.5v5M456.5 396.5v5M512.5 396.5v5M101.5 384.5h-5M101.5 339.5h-5M101.5 294.5h-5M101.5 249.5h-5M101.5 204.5h-5M101.5 159.5h-5M101.5 114.5h-5M101.5 69.5h-5M101.5 24.5h-5" stroke="#333333" stroke-width="1.1" fill="none"/>
<g font-size="15.28" fill="#333333">
<text x="122.5" y="417.5" text-anchor="middle">0.0</text>
<text x="178.2" y="417.5" text-anchor="middle">0.2</text>
<text x="233.9" y="417.5" text-anchor="middle">0.4</text>
<text x="289.5" y="417.5" text-anchor="middle">0.6</text>
<text x="345.2" y="417.5" text-anchor="middle">0.8</text>
<text x="400.9" y="417.5" text-anchor="middle">1.0</text>
<text x="456.6" y="417.5" text-anchor="middle">1.2</text>
<text x="512.3" y="417.5" text-anchor="middle">1.4</text>
<text x="90.8" y="389.6" text-anchor="end"><tspan dy="0.4">−</tspan><tspan dx="-1.3" dy="-0.4">1.5</tspan></text>
<text x="90.8" y="344.6" text-anchor="end"><tspan dy="0.4">−</tspan><tspan dx="-1.3" dy="-0.4">1.0</tspan></text>
<text x="90.8" y="299.6" text-anchor="end"><tspan dy="0.4">−</tspan><tspan dx="-1.3" dy="-0.4">0.5</tspan></text>
<text x="90.8" y="254.6" text-anchor="end">0.0</text>
<text x="90.8" y="209.6" text-anchor="end">0.5</text>
<text x="90.8" y="164.6" text-anchor="end">1.0</text>
<text x="90.8" y="119.6" text-anchor="end">1.5</text>
<text x="90.8" y="74.6" text-anchor="end">2.0</text>
<text x="90.8" y="29.6" text-anchor="end">2.5</text>
</g>
<g font-size="18.06" fill="#333333">
<text x="333.4" y="440.2" text-anchor="middle">Deaths per min.</text>
<text transform="translate(23.0,204.5) rotate(-90)" text-anchor="middle">SHAP value for</text>
<text transform="translate(43.8,204.1) rotate(-90)" text-anchor="middle">Deaths per min.</text>
</g>
<defs><linearGradient id="cb" x1="0" y1="0" x2="0" y2="1"><stop offset="0.00" stop-color="#ff0051"/><stop offset="0.05" stop-color="#fe005c"/><stop offset="0.10" stop-color="#f90067"/><stop offset="0.15" stop-color="#f20072"/><stop offset="0.20" stop-color="#e9007c"/><stop offset="0.25" stop-color="#e00086"/><stop offset="0.30" stop-color="#d5008f"/><stop offset="0.35" stop-color="#c80098"/><stop offset="0.40" stop-color="#bb00a0"/><stop offset="0.45" stop-color="#ab15a7"/><stop offset="0.50" stop-color="#9b23ad"/><stop offset="0.55" stop-color="#9135ba"/><stop offset="0.60" stop-color="#8443c6"/><stop offset="0.65" stop-color="#754fd1"/><stop offset="0.70" stop-color="#6359da"/><stop offset="0.75" stop-color="#4b63e3"/><stop offset="0.80" stop-color="#236cea"/><stop offset="0.85" stop-color="#0074f0"/><stop offset="0.90" stop-color="#007cf5"/><stop offset="0.95" stop-color="#0084f9"/><stop offset="1.00" stop-color="#008bfb"/></linearGradient></defs>
<rect x="595.2" y="11.0" width="4.8" height="384.6" fill="url(#cb)"/>
<g font-size="15.28" fill="#000">
<text x="609.9" y="360.0">0.1</text>
<text x="609.9" y="303.7">0.2</text>
<text x="609.9" y="247.4">0.3</text>
<text x="609.9" y="191.1">0.4</text>
<text x="609.9" y="134.8">0.5</text>
<text x="609.9" y="78.5">0.6</text>
<text x="609.9" y="22.2">0.7</text>
</g>
<path d="M600.0 354.2h5.8M600.0 297.9h5.8M600.0 241.6h5.8M600.0 185.3h5.8M600.0 129.0h5.8M600.0 72.7h5.8M600.0 16.4h5.8" stroke="#000" stroke-width="1.1" fill="none"/>
<text transform="translate(652.3,204) rotate(-90)" text-anchor="middle" font-size="18.06" fill="#000">Assists per min.</text>
</svg>
</body></html>
